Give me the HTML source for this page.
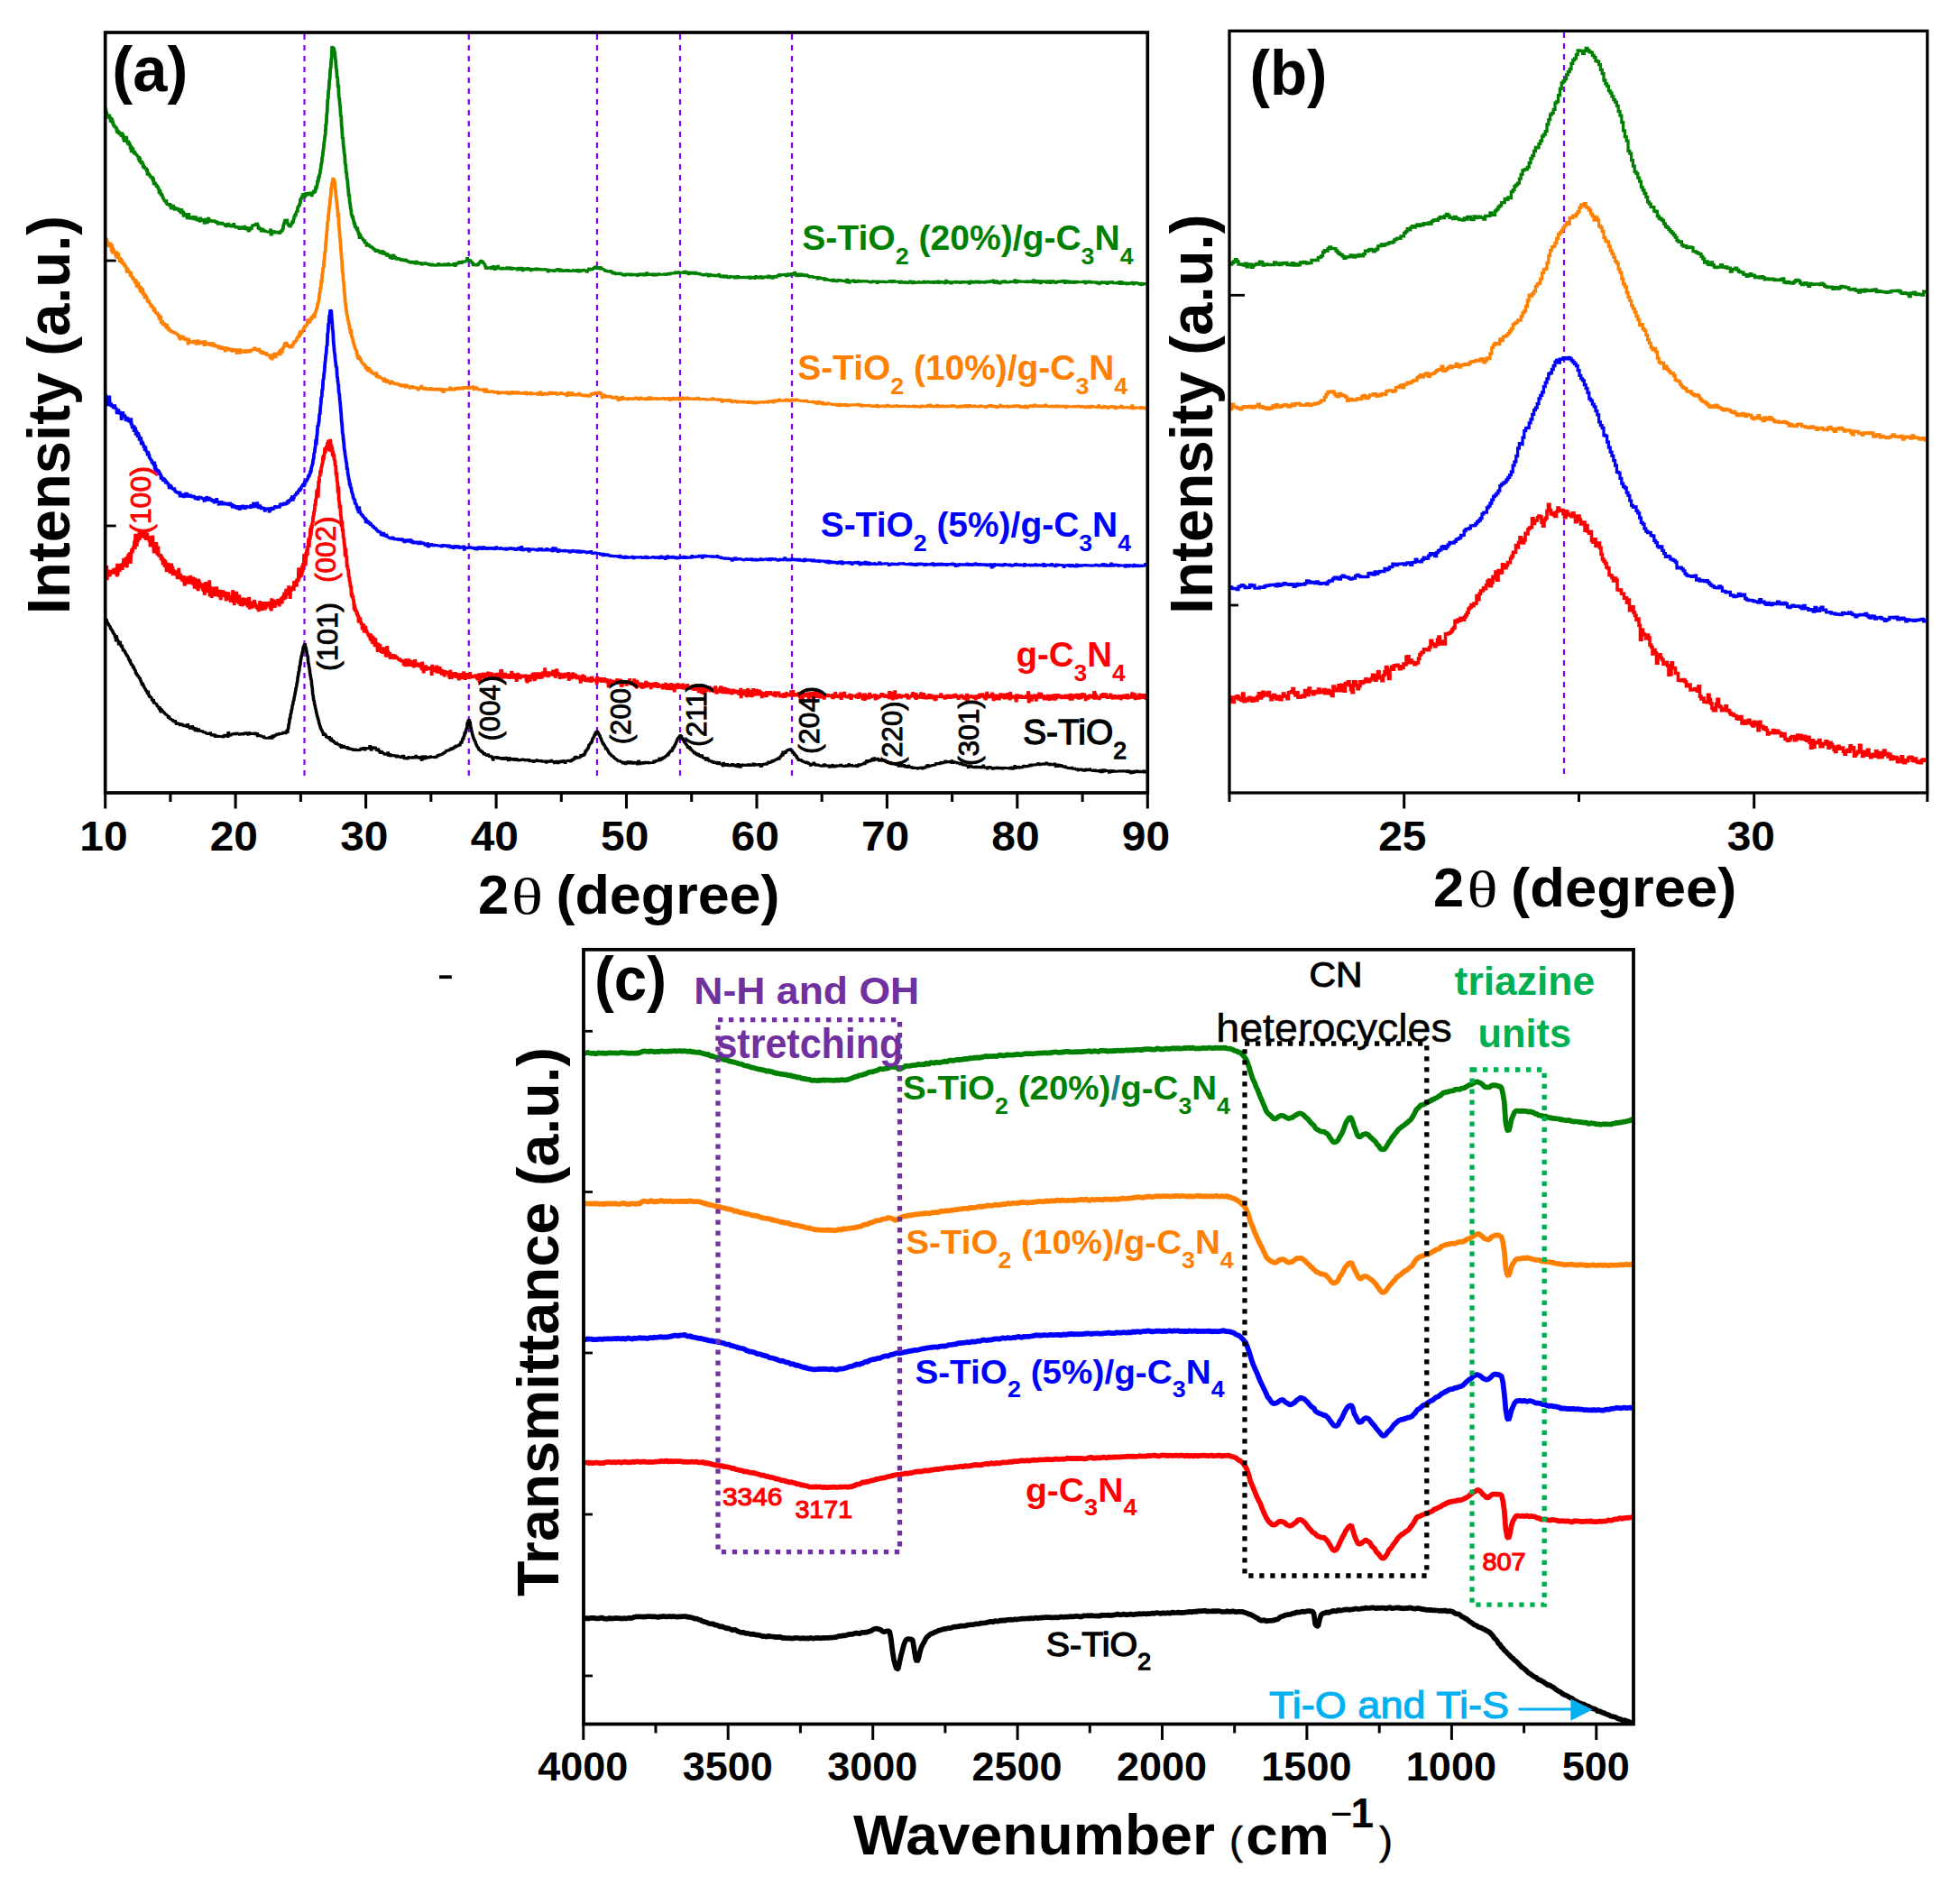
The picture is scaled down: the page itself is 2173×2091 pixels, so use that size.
<!DOCTYPE html>
<html lang="en"><head><meta charset="utf-8"><title>XRD and FTIR figure</title>
<style>
html,body{margin:0;padding:0;background:#fff}
svg{display:block;font-family:"Liberation Sans",sans-serif}
</style></head><body>
<svg width="2173" height="2091" viewBox="0 0 2173 2091">
<defs>
<clipPath id="ca"><rect x="116.7" y="36" width="1155.6" height="843"/></clipPath>
<clipPath id="cb"><rect x="1363" y="34.3" width="773.8" height="844.7"/></clipPath>
<clipPath id="cc"><rect x="647" y="1052.8" width="1164" height="858.7"/></clipPath>
</defs>
<rect width="2173" height="2091" fill="#fff"/>
<line x1="337.5" y1="38" x2="337.5" y2="865" stroke="#8000ff" stroke-width="2.2" stroke-dasharray="6 6"/>
<line x1="519.8" y1="38" x2="519.8" y2="865" stroke="#8000ff" stroke-width="2.2" stroke-dasharray="6 6"/>
<line x1="661.9" y1="38" x2="661.9" y2="865" stroke="#8000ff" stroke-width="2.2" stroke-dasharray="6 6"/>
<line x1="754" y1="38" x2="754" y2="865" stroke="#8000ff" stroke-width="2.2" stroke-dasharray="6 6"/>
<line x1="878" y1="38" x2="878" y2="865" stroke="#8000ff" stroke-width="2.2" stroke-dasharray="6 6"/>
<g clip-path="url(#ca)">
<path d="M116.7 686.6l.5-1.1l.5 2.8l.5-1.9l.5 4.7l.5-1.5l.5 2.6l.5-1.1l.5 2.5l.5-.3l.5 1.5l.5-.2l.5 3.1l.5-.7l.5 2l.5-1l.5 2l.5 .3l.5 2.6l.5-.8l.5 1.3l.5 .3l.5 3.5l.5-3l.5 7.1l.5-6.8l.5 4.3l.5-.2l.5 1.9l.5 .2l.5 4.6l.5-4.4l.5 3.2l.5-3.1l.5 5.2l.5-1.3l.5 2.8l.5-2.7l.5 3.8l.5 .3l.5 3l.5-2.2l.5 2l.5-.8l.5 2.5l.5 .5l.5 1.1l.5 0l.5 2.5l.5-1.5l.5 2.8l.5-.9l.5 3.3l.5-1.1l.5 3.1l.5-2.1l.5 3.9l.5-.5l.5 2.9l.5-1.5l.5 1.5l.5 .5l.5 2.8l.5-2.2l.5 2.9l.5 0l.5 2l.5-.6l.5 4.6l.5-1.9l.5 3.1l.5-1.3l.5 2.6l.5-1.4l.5 2.4l.5-.8l.5 2.7l.5-1.8l.5 3.2l.5 .1l.5 2.6l.5-.5l.5 3.5l.5-3.1l.5 3.8l.5-1.3l.5 2.7l.5 0l.5 1.5l.5-.4l.5 2.7l.5-.7l.5 1.3l.5 .3l.5 2.7l.5-3.8l.5 4.1l.5 .5l.5 2.8l.5-1.7l.5 2.1l.5-1.4l.5 2l.5-.4l.5 3.2l.5-1.5l.5 2.3l.5-2.5l.5 5l.5-1.9l.5 1.7l.5-.6l.5 1.1l.5-.8l.5 1.7l.5 .5l.5 1.5l.5-1l.5 2.6l.5-1.7l.5 3.4l.5-3.5l.5 5.8l.5-3.6l.5 4.7l.5-4.1l.5 3.4l.5-1.8l.5 2.3l.5-1.2l.5 1.6l.5-.6l.5 1.8l.5-.4l.5 1.1l.5-.8l.5 2l.5-1.1l.5 1.7l.5-.9l.5 3.2l.5-2.7l.5 2.3l.5 .3l.5 1.2l.5-.8l.5 1.2l.5-.5l.5 1.3l.5-1.5l.5 2.8l.5-1.5l.5 2.3l.5-2.2l.5 1.9l.5-2.3l.5 3.7l.5-1.4l.5 3.1l.5-2.5l.5 1.3l.5-1.2l.5 1.3l.5-.9l.5 1.3l.5-1.5l.5 3.5l.5-2.5l.5 1.1l.5-.7l.5 .4l.5 0l.5 .4l.5-.1l.5 2.4l.5-2.8l.5 1.9l.5-2l.5 2.4l.5-2.2l.5 2.4l.5-.6l.5 1.5l.5-4.4l.5 4.8l.5-2.3l.5 2.5l.5-.9l.5 2.2l.5-1.9l.5 1l.5-1.9l.5 2.8l.5-4.2l.5 3.5l.5-1.9l.5 3.5l.5-1.3l.5 1l.5-1.8l.5 3.7l.5-4.5l.5 3.9l.5-1.5l.5 1.4l.5-.7l.5 1.7l.5-3.6l.5 3.6l.5-1.4l.5 1.2l.5-1.3l.5 1.2l.5-.8l.5 1l.5-1.4l.5 2.1l.5-.6l.5 .8l.5-.4l.5 .6l.5-1.1l.5 1.5l.5-.4l.5 1.1l.5-1.2l.5 2.3l.5-2l.5 2.2l.5-2.1l.5 1.5l.5-.8l.5 1.1l.5-2.7l.5 3.1l.5-.7l.5 2.2l.5-2.5l.5 1.9l.5-2l.5 1.6l.5-.2l.5 .6l.5-2l.5 4.1l.5-2.7l.5 2.6l.5-2.5l.5 1.3l.5-.8l.5 .9l.5-.4l.5 .4l.5-1.1l.5 1.7l.5-1.4l.5 1.6l.5-1.1l.5 .6l.5-.8l.5 1.2l.5-1.8l.5 2.7l.5-3.3l.5 1.1l.5-1.7l.5 1.5l.5-.2l.5 1l.5-2.3l.5 1.7l.5-1.3l.5 3.2l.5-6.7l.5 4.3l.5-1.8l.5 1.8l.5-1.2l.5 2l.5-3l.5 1.7l.5-1.7l.5 .8l.5-1l.5 1.6l.5-1.7l.5 .7l.5-1.1l.5 2.5l.5-2l.5 1.3l.5-2.2l.5 1.4l.5-1.1l.5 1.1l.5-.5l.5 1.2l.5-1.7l.5 2.9l.5-2.5l.5 1.1l.5-.9l.5 .8l.5-1.4l.5 1l.5-.5l.5 2l.5-1.7l.5 .4l.5-1.5l.5 1.5l.5-2.1l.5 2.5l.5-1.8l.5 1.4l.5-.5l.5 1.8l.5-1.7l.5 2l.5-3.7l.5 1.8l.5-.9l.5 1.9l.5-1.6l.5 .8l.5-1.5l.5 2.3l.5-1.3l.5 .8l.5-1.7l.5 2.5l.5-1.4l.5 .6l.5-2l.5 2.5l.5-.7l.5 .8l.5-2.3l.5 4.8l.5-2.8l.5 1.9l.5-1.8l.5 2.5l.5-1.8l.5 1.1l.5-.7l.5 1l.5-.7l.5 1.8l.5-1.4l.5 1.2l.5-1.7l.5 3.1l.5-1.3l.5 1.7l.5-1.3l.5 1.5l.5-2.2l.5 2l.5-1.3l.5 1.4l.5-2.1l.5 2l.5-1l.5 0l.5-1.6l.5 2.1l.5-2.5l.5 1.8l.5-1.6l.5 3.2l.5-4.7l.5 2.4l.5-2.4l.5 2.9l.5-3.2l.5 1.8l.5-2l.5 1.7l.5-1.6l.5 .6l.5-2.1l.5 1.6l.5-1.4l.5 2.1l.5-1.4l.5 .2l.5-1.6l.5 2l.5-1.7l.5 1.6l.5-1.8l.5 1l.5-.6l.5 .5l.5-2.4l.5 2.1l.5-.6l.5 1.1l.5-2.1l.5 2.3l.5-2.5l.5 .9l.5-3.2l.5 3.7l.5-4.4l.5-.7l.5-4.8l.5-1.3l.5-5.7l.5 1.6l.5-6.3l.5 .2l.5-4.4l.5-.3l.5-5.3l.5 .2l.5-4.4l.5-.2l.5-3.7l.5-2.1l.5-2.7l.5-2.2l.5-3.7l.5-1.4l.5-3.8l.5-1.1l.5-5.5l.5-2l.5-4.3l.5-.3l.5-6.2l.5 .5l.5-5.6l.5-1.9l.5-3.7l.5-.6l.5-3.5l.5-.5l.5-5.7l.5 1l.5-3.2l.5 2.4l.5-3.8l.5 4.8l.5-.3l.5 3.6l.5 2l.5 4.6l.5-1.4l.5 8l.5 1.5l.5 3.6l.5 2.1l.5 5.1l.5 2l.5 4.1l.5 .7l.5 6.5l.5 1.7l.5 8l.5 .9l.5 5.7l.5-.1l.5 4.3l.5 1.5l.5 2.7l.5 2l.5 2.8l.5 1.8l.5 2.9l.5 .4l.5 3.1l.5 0l.5 4l.5 .6l.5 2.5l.5 .9l.5 2.4l.5-.4l.5 2.1l.5-.1l.5 2.6l.5-1l.5 4.2l.5-2.5l.5 1.9l.5-2.1l.5 2.2l.5-.6l.5 2.8l.5-1.1l.5 1.9l.5-1.2l.5 1l.5-.3l.5 1.5l.5-2.8l.5 3.1l.5 .1l.5 2l.5-3.8l.5 4.5l.5-2.5l.5 2.9l.5-2.3l.5 2.7l.5-1.5l.5 1.8l.5-.7l.5 2.1l.5-1.9l.5 2.9l.5-3.1l.5 2.7l.5-.8l.5 1.4l.5-1l.5 1.4l.5-1.7l.5 2.5l.5-1.5l.5 2.7l.5-3.3l.5 4.6l.5-3.3l.5 1.2l.5-1.4l.5 3.4l.5-3.7l.5 3.9l.5-1.9l.5 1.4l.5-1.1l.5 1.1l.5-1.5l.5 2.2l.5-2.6l.5 3.6l.5-2.3l.5 1.3l.5-1l.5 2.4l.5-1.8l.5 1.1l.5-1.2l.5 1.9l.5-1.6l.5 1.5l.5-1.4l.5 2.7l.5-1.8l.5 1.5l.5-2.4l.5 2.8l.5-2.5l.5 2.4l.5-1.2l.5 .4l.5-.4l.5 1.1l.5-1.9l.5 2.1l.5-2.2l.5 1.5l.5-.7l.5 .2l.5-2.3l.5 2.1l.5-2.4l.5 2.4l.5-2.6l.5 2.7l.5-1.8l.5 .9l.5-2.4l.5 4.1l.5-3.5l.5 1.4l.5-.6l.5 1.1l.5-1.3l.5 1.3l.5-1.4l.5 1l.5-1.8l.5 1.9l.5-4.2l.5 4.2l.5-1.3l.5 3.5l.5-3.9l.5 .8l.5-2l.5 3.3l.5-2.1l.5 1.3l.5-1.9l.5 2l.5-1.9l.5 2.9l.5-1.4l.5 3.2l.5-2.2l.5 1.1l.5-2.1l.5 2.4l.5 0l.5 2.2l.5-1.7l.5 3.3l.5-3.7l.5 1.9l.5-1.2l.5 1.9l.5-.8l.5 1.4l.5-.8l.5 1.7l.5-1.1l.5 2.4l.5-2.6l.5 1.3l.5-.9l.5 1.8l.5-1.3l.5 .9l.5-3.2l.5 5.1l.5-2.1l.5 .7l.5-2.1l.5 4l.5-2.4l.5 1.6l.5-1.9l.5 1.6l.5-.8l.5 1.2l.5-.8l.5 .7l.5-1l.5 .8l.5-1.1l.5 2l.5-2.2l.5 3.5l.5-3.5l.5 2.4l.5-1.6l.5 1.3l.5-.7l.5 1.9l.5-1.7l.5 1.1l.5-1l.5 2.2l.5-2l.5 1.7l.5-3.4l.5 2.7l.5-2.5l.5 2.5l.5-.9l.5 3.1l.5-2.3l.5 2.1l.5-2.1l.5 1.4l.5-1.2l.5 2.4l.5-2.8l.5 1l.5-2l.5 2.4l.5-1.1l.5 .8l.5-1.4l.5 1.8l.5-1.6l.5 1.7l.5-1.6l.5 1.8l.5-2.8l.5 1.9l.5-1.8l.5 2.4l.5-1.4l.5 1.4l.5-3.9l.5 4.1l.5-2.2l.5 1.6l.5-1.6l.5 1.4l.5-1l.5 1.4l.5-2.2l.5 3.2l.5-2.4l.5 1.2l.5-1.3l.5 4.5l.5-6l.5 2.7l.5-.9l.5 .9l.5-1.5l.5 3.4l.5-4.7l.5 3.3l.5-3l.5 3.5l.5-2l.5 .9l.5-.8l.5 1.4l.5-1.5l.5 .2l.5-.6l.5 1.6l.5-2.9l.5 2.2l.5-1.5l.5 1.9l.5-1.8l.5 1.6l.5-1.8l.5 2.1l.5-2l.5 2.3l.5-1.4l.5 .2l.5-1l.5 1.8l.5-1.9l.5 .6l.5-1.7l.5 1.6l.5-2.7l.5 1.8l.5-1.1l.5 .9l.5-2l.5 1.9l.5-1.9l.5 1.5l.5-1.7l.5 1.2l.5-2.1l.5 1.4l.5-2.1l.5 1.5l.5-2l.5 .8l.5-1.4l.5 .4l.5-2.1l.5 1.5l.5-.6l.5 .7l.5-1.4l.5 .5l.5-1.3l.5 1.7l.5-2l.5 .9l.5-2.3l.5 2.8l.5-3.3l.5 2.8l.5-2.2l.5 1.7l.5-2.8l.5 1.6l.5-2.3l.5 2.1l.5-3.1l.5 2.5l.5-3l.5 2.4l.5-2.3l.5 1.7l.5-1.5l.5 1.2l.5-2.3l.5 2.4l.5-3.3l.5 .6l.5-2.7l.5 2.3l.5-2.7l.5-.8l.5-2.9l.5 2.3l.5-4.2l.5 .7l.5-4.9l.5 2.2l.5-3.2l.5-.5l.5-2.9l.5 1l.5-7.7l.5 1.3l.5-3.1l.5-.2l.5-1.1l.5 3.2l.5-.9l.5 6l.5 1l.5 3.3l.5 1.5l.5 2.5l.5 1.2l.5 2.7l.5 .2l.5 2.1l.5 .3l.5 1.6l.5 .4l.5 2.6l.5-.1l.5 2.6l.5-.4l.5 1.6l.5-.4l.5 2l.5 .4l.5 .9l.5-1l.5 2.4l.5-1.4l.5 2.3l.5-1.9l.5 2.4l.5-1l.5 1.7l.5 0l.5 1.7l.5-2.4l.5 1.8l.5-.7l.5 1.8l.5-1.8l.5 2.9l.5-2.7l.5 1.9l.5-2.2l.5 3.1l.5-1.1l.5 1.9l.5-2.2l.5 2l.5-.7l.5 .5l.5-1.2l.5 3l.5-1.9l.5 4.5l.5-4l.5 .6l.5-1l.5 1.5l.5-1.3l.5 1.4l.5-2.2l.5 1.6l.5-1.5l.5 3.1l.5-2.7l.5 2.5l.5-2.1l.5 1.4l.5-.2l.5 .3l.5-1l.5 1.3l.5-1.8l.5 3l.5-1.6l.5 .5l.5-.4l.5 .5l.5-2l.5 3.2l.5-2.2l.5 1.8l.5-3.1l.5 2.7l.5-.9l.5 1l.5-.8l.5 2.8l.5-2.4l.5 .3l.5-2.3l.5 3.1l.5-1.9l.5 2.4l.5-1.8l.5 1.6l.5-1.7l.5 2l.5-3l.5 2.1l.5-1.8l.5 1.8l.5-1l.5 2.4l.5-3.3l.5 2.3l.5-1.6l.5 1.5l.5-1l.5 2.3l.5-1.4l.5 1.5l.5-2.7l.5 1.4l.5-.5l.5 1.5l.5-2.4l.5 1.8l.5-2.3l.5 2.1l.5-1.5l.5 1.6l.5-.9l.5 1.1l.5-.4l.5 .6l.5-1.3l.5 1.7l.5-2.4l.5 1.7l.5-.4l.5 1.2l.5-2.7l.5 2.8l.5-.9l.5 1.6l.5-1.6l.5 1l.5-1.4l.5 1.3l.5-1.6l.5 1.9l.5-1l.5 2.3l.5-3l.5 1.2l.5-.8l.5 1.2l.5-1.5l.5 .9l.5-2l.5 3.1l.5-2l.5 1.5l.5-1.4l.5 1.5l.5-1.2l.5 1.5l.5-2.1l.5 1.3l.5-.9l.5 1.2l.5-.6l.5 1.6l.5-1.9l.5 2.1l.5-2.4l.5 2l.5-1.9l.5 1.7l.5-1l.5 2.7l.5-3.6l.5 2.1l.5-1.9l.5 2.1l.5-1.2l.5 1.4l.5-2.1l.5 1.2l.5-1.1l.5 2l.5-3.4l.5 3.3l.5-1.5l.5 .9l.5-.5l.5 .6l.5-.7l.5 2.9l.5-2.6l.5 .5l.5-.7l.5 .5l.5-1.1l.5 .9l.5-.8l.5 3.5l.5-3.9l.5 3l.5-3.1l.5 1.6l.5-1l.5 1.6l.5-1.6l.5 2.2l.5-3.5l.5 3.4l.5-3.2l.5 1.8l.5-.5l.5 .7l.5-1.5l.5 3.7l.5-2.8l.5 .1l.5-.6l.5 .6l.5-1l.5 .6l.5-1.1l.5 1.5l.5-1.7l.5 1.4l.5-1.5l.5 2.8l.5-2.5l.5 .6l.5-1.4l.5 2.1l.5-3.1l.5 1.8l.5-1.1l.5 .6l.5-3.1l.5 2.5l.5-3.4l.5 3.2l.5-1.1l.5 1l.5-2.1l.5 2.1l.5-2.2l.5 2.1l.5-2.6l.5 1.7l.5-1.3l.5 .8l.5-3.4l.5 2.6l.5-1.8l.5 .9l.5-1.1l.5 1.7l.5-3.2l.5 2.2l.5-2.6l.5 1l.5-4.3l.5 1.9l.5-2.4l.5 .8l.5-2.1l.5 1l.5-2.3l.5-.7l.5-2.7l.5 .9l.5-1.8l.5 .8l.5-2.4l.5 1.6l.5-3l.5-.5l.5-2.8l.5 .8l.5-2.2l.5 .7l.5-3.4l.5 1.9l.5-4.1l.5 .8l.5-1.9l.5 1l.5-1.2l.5 1.4l.5-.1l.5 3.4l.5-1.3l.5 1.5l.5 .6l.5 2.6l.5-.3l.5 2.3l.5 .7l.5 1.9l.5-.2l.5 2.8l.5-1.9l.5 3.3l.5-1.5l.5 2l.5 .2l.5 3.5l.5-2.4l.5 2.2l.5-1.1l.5 2.5l.5-.4l.5 2.1l.5 .1l.5 1.8l.5-1l.5 1.6l.5-.6l.5 1.5l.5 .1l.5 1.2l.5-1.3l.5 1.5l.5-.3l.5 1.2l.5 0l.5 1.5l.5-.8l.5 1.2l.5-.5l.5 1.3l.5-.9l.5 2.1l.5-1.3l.5 2.2l.5-1.9l.5 .9l.5-.9l.5 1.9l.5-.7l.5 .9l.5-.6l.5 .8l.5-.3l.5 2.2l.5-2.4l.5 .8l.5-.3l.5 2.2l.5-3.4l.5 4l.5-4.1l.5 2.4l.5-1.5l.5 1.7l.5-2.9l.5 3l.5-1.7l.5 2.2l.5-2l.5 .9l.5-2.4l.5 2.6l.5-1.8l.5 2.2l.5-1.2l.5 2l.5-3.3l.5 3l.5-1.9l.5 1.4l.5-2.1l.5 2.1l.5-.9l.5 .3l.5-1.5l.5 3.8l.5-4.5l.5 2.9l.5-4l.5 3l.5-1.2l.5 3.3l.5-2.3l.5 1l.5-1.3l.5 1.1l.5-.8l.5 .4l.5-.9l.5 2.3l.5-2.3l.5 2l.5-3l.5 2.5l.5-1.9l.5 1.4l.5-1l.5 .8l.5-1.6l.5 2.7l.5-1.7l.5 .8l.5-.8l.5 .8l.5-1l.5 1.3l.5-1.3l.5 1l.5-.8l.5 1.2l.5-1.7l.5 .9l.5-2.8l.5 3l.5-1.7l.5 .5l.5-1.3l.5 1.1l.5-2.2l.5 1.9l.5-1.3l.5 .9l.5-1.2l.5 .6l.5-3.2l.5 4l.5-3.2l.5 1.3l.5-2l.5 2.9l.5-2.8l.5 1.1l.5-2l.5 2.6l.5-3.1l.5 2l.5-2.2l.5 .6l.5-.8l.5-.1l.5-.8l.5 0l.5-.8l.5 1.7l.5-4.1l.5 1.6l.5-2l.5 .8l.5-2.6l.5 1.1l.5-1.3l.5 1.9l.5-3.7l.5 2.1l.5-4.4l.5 1.9l.5-1.7l.5 .3l.5-3l.5 .8l.5-2.2l.5-.4l.5-2.3l.5 .5l.5-3.1l.5 .4l.5-1l.5-.6l.5-.7l.5 2.8l.5-4.9l.5 2.3l.5-1.4l.5 2.7l.5-.6l.5 3l.5-2.5l.5 3.5l.5-1.3l.5 3.2l.5-3.5l.5 4.6l.5-1l.5 2.5l.5-.6l.5 1.5l.5-.6l.5 3.5l.5-2.3l.5 2.2l.5-2.5l.5 3.5l.5-2.1l.5 3.5l.5-1.8l.5 1.3l.5 .1l.5 1.4l.5-.6l.5 1.1l.5-.2l.5 2.6l.5-2.8l.5 1.7l.5-.3l.5 2.1l.5-2.3l.5 3.3l.5-1.9l.5 2.7l.5-3.5l.5 3.1l.5-.3l.5 .4l.5-.1l.5 1l.5-.5l.5 1l.5-3l.5 3l.5-.3l.5 1.3l.5-.5l.5 .9l.5-1.4l.5 1.8l.5-1.8l.5 3.8l.5-3.2l.5 2.6l.5-3.4l.5 3.9l.5-2.2l.5 2.8l.5-1.2l.5 2.2l.5-1.9l.5 1l.5-.6l.5 .6l.5-.7l.5 2.5l.5-2.4l.5 1.7l.5-1.2l.5 2.7l.5-1.9l.5 .7l.5-.9l.5 2.4l.5-2.9l.5 2.4l.5-.9l.5 2l.5-1.2l.5 1.4l.5-3.4l.5 3.3l.5-1.2l.5 1.1l.5-.9l.5 1l.5-1.1l.5 1.7l.5-1.3l.5 3.2l.5-5.1l.5 3.6l.5-.9l.5 1.1l.5-1.7l.5 1l.5-1l.5 2.5l.5-3.3l.5 3.2l.5-1.4l.5 .7l.5-.8l.5 1.7l.5-1.7l.5 1.7l.5-2.6l.5 2.8l.5-3l.5 2.2l.5-2.8l.5 3.3l.5-2.3l.5 1l.5-1.1l.5 2.7l.5-1.9l.5 2.3l.5-2.7l.5 1.2l.5-.6l.5 2.8l.5-4.7l.5 3.1l.5-2.4l.5 1.9l.5-.7l.5 3.4l.5-4.1l.5 2.7l.5-3.2l.5 2.2l.5-1.2l.5 .3l.5-.1l.5 .3l.5-.5l.5 .7l.5-1.3l.5 1.3l.5-1.2l.5 1.9l.5-1.7l.5 .6l.5-.6l.5 1.2l.5-2.3l.5 1.9l.5-1l.5 2l.5-2.3l.5 1.4l.5-1.6l.5 2l.5-2.1l.5 1.5l.5-2.6l.5 3.6l.5-1.4l.5 .6l.5-2.1l.5 1.9l.5-1.1l.5 1.7l.5-1.4l.5 1.3l.5-1.8l.5 1.8l.5-2.2l.5 2l.5-2.3l.5 1.9l.5-1.1l.5 3.5l.5-3l.5 2.3l.5-3.2l.5 1.3l.5-1.1l.5 1.4l.5-2.2l.5 1.7l.5-1.4l.5 .9l.5-1.1l.5 2.1l.5-2.9l.5 1.5l.5-1.1l.5 0l.5-2l.5 2.6l.5-2.2l.5 1.9l.5-1.8l.5 1.3l.5-1.3l.5 .5l.5-2.4l.5 2.9l.5-3.1l.5 1.2l.5-.5l.5 0l.5-.3l.5 .7l.5-1.7l.5 1.1l.5-1.8l.5 1.8l.5-2.8l.5 2.5l.5-2.8l.5 2.7l.5-3.5l.5 1.3l.5-1.7l.5 .8l.5-2l.5 .5l.5-2.4l.5 3.2l.5-5.9l.5 4l.5-3.2l.5 1.2l.5-1.1l.5 2.1l.5-3.4l.5 1.6l.5-1.8l.5 .5l.5-1.7l.5 1.1l.5-1.5l.5 1.9l.5-1.4l.5 1.4l.5-2.8l.5 2.1l.5 .2l.5 .8l.5-.5l.5 1.3l.5 0l.5 1.4l.5-.5l.5 3.2l.5-2l.5 2.1l.5-.9l.5 2.7l.5-1.8l.5 3.6l.5-1.4l.5 2l.5-.9l.5 2.8l.5-2l.5 1l.5-1.4l.5 2.6l.5-2.1l.5 2.4l.5-.9l.5 .8l.5-.2l.5 .4l.5-.1l.5 1.4l.5-1.8l.5 1.8l.5-1.9l.5 2.9l.5-2.7l.5 2.9l.5-2.5l.5 2.1l.5-1.5l.5 2.7l.5-1.9l.5 2.1l.5-1.7l.5 3.4l.5-3l.5 1.7l.5-1.4l.5 1.4l.5-1.3l.5 .6l.5-2.7l.5 3.2l.5-1.8l.5 1.8l.5-.5l.5 1.6l.5-2.3l.5 2.6l.5-2.6l.5 1.7l.5-.5l.5 .5l.5-.6l.5 1.5l.5-1.3l.5 1.4l.5-1.1l.5 1.6l.5-2.3l.5 1.4l.5-.7l.5 .6l.5-1.2l.5 2.5l.5-4l.5 3.6l.5-1.7l.5 .8l.5-.8l.5 1.1l.5-1l.5 1.2l.5-1l.5 .5l.5-.6l.5 3l.5-2.5l.5 .3l.5-.8l.5 1.5l.5-1.4l.5 .6l.5-2l.5 4.1l.5-2.8l.5 1.5l.5-2l.5 3.2l.5-2.8l.5 1.3l.5-.7l.5 .7l.5-1.9l.5 2.5l.5-2.3l.5 1.7l.5-1.3l.5 1.5l.5-1.8l.5 2.1l.5-3.3l.5 2.4l.5-.7l.5 .9l.5-.9l.5 1.6l.5-2l.5 2.5l.5-2.2l.5 1.8l.5-2.1l.5 .9l.5-.2l.5 1.4l.5-2.3l.5 1.4l.5-.9l.5 1.9l.5-4l.5 2.9l.5-2l.5 2.2l.5-2.1l.5 2.9l.5-2.9l.5 2.6l.5-1.2l.5 1.4l.5-1.9l.5 1.2l.5-.9l.5 1.1l.5-.7l.5 .1l.5-.4l.5 .6l.5-.6l.5 2l.5-3.2l.5 1.9l.5-2.8l.5 2.1l.5-1.3l.5 2l.5-2l.5 .6l.5-.9l.5 1.1l.5-1.6l.5 1.3l.5-2l.5 1.2l.5-1.8l.5 2.7l.5-3l.5 .6l.5-1.2l.5 1.9l.5-4.1l.5 2.9l.5-1l.5 1.1l.5-2.2l.5 .9l.5-.8l.5 1.9l.5-3.3l.5 2.3l.5-1.7l.5 1.6l.5-3.6l.5 3.6l.5-2.2l.5 2.3l.5-4.5l.5 3.1l.5-1.6l.5 2.5l.5-2.9l.5 1.5l.5-1.4l.5 1.9l.5-2.5l.5 2.3l.5-1l.5 2.9l.5-2l.5 .4l.5-1.5l.5 2.8l.5-2.2l.5 1.7l.5-1l.5 1.8l.5-1.8l.5 .8l.5-1.5l.5 1.9l.5-1.5l.5 1.9l.5-.8l.5 1l.5-1.2l.5 2.7l.5-1.9l.5 1.4l.5-.5l.5 1.6l.5-1.5l.5 .7l.5-.8l.5 1.6l.5-1.4l.5 3l.5-2.6l.5 1.7l.5-1.2l.5 1.2l.5-1.1l.5 1.1l.5-.6l.5 1.3l.5-.6l.5 1.2l.5-1l.5 1.4l.5-1.1l.5 .7l.5-.1l.5 2l.5-2.4l.5 1l.5-1.8l.5 2.5l.5-1.7l.5 2.6l.5-2.5l.5 2.2l.5-1.5l.5 1.1l.5-2.3l.5 2.3l.5-1.5l.5 3l.5-1.8l.5 .9l.5-1.7l.5 1.6l.5-.8l.5 2.2l.5-3.8l.5 2.8l.5-1.4l.5 1.7l.5-1.5l.5 1.7l.5-1.5l.5 2l.5-.6l.5 .5l.5-.8l.5 1.7l.5-2.1l.5 1.1l.5-1l.5 1.5l.5-1l.5 1.1l.5-.9l.5 .5l.5-.1l.5 1.4l.5-2.2l.5 1.1l.5-.6l.5 .3l.5-.9l.5 1.3l.5-1.8l.5 1.7l.5-1.7l.5 3.1l.5-3.6l.5 3.1l.5-2.8l.5 1.4l.5-1.3l.5 2.1l.5-2.5l.5 1.8l.5-2.6l.5 2.5l.5-4l.5 2.9l.5-2l.5 2.6l.5-2.3l.5 1.2l.5-1.9l.5 2.1l.5-2.2l.5 1.4l.5-.8l.5 .3l.5-.4l.5 .7l.5-.9l.5 .7l.5-.8l.5 0l.5-.6l.5 .2l.5-2.1l.5 2l.5-1.4l.5 1.1l.5-1.8l.5 2.4l.5-1.5l.5 1.5l.5-1.8l.5 1l.5-2.8l.5 2.4l.5-1.5l.5 1l.5-.5l.5 1.3l.5-1.9l.5 1l.5-1.8l.5 1.9l.5-3.3l.5 3l.5-.9l.5 .2l.5-1.2l.5 1.1l.5-1.4l.5 1.2l.5-.5l.5 1.1l.5-1.5l.5 2.1l.5-1.5l.5 1.3l.5-3.3l.5 4.2l.5-3.1l.5 3l.5-2.7l.5 1.4l.5-.9l.5 1.3l.5-1l.5 .8l.5-.8l.5 1.3l.5-.8l.5 1.8l.5-1.6l.5 1l.5-.8l.5 1.4l.5-2.2l.5 3.5l.5-3l.5 2l.5-1.2l.5 1.8l.5-1l.5 1.9l.5-2.3l.5 2.8l.5-2.7l.5 2l.5-.9l.5 .9l.5-.3l.5 .6l.5-.6l.5 1.1l.5-.9l.5 3.4l.5-4.3l.5 2.3l.5-1.8l.5 2.2l.5-1.9l.5 1.9l.5-.7l.5 1.1l.5-1.4l.5 2.3l.5-1.8l.5 .8l.5-.3l.5 1.5l.5-2l.5 .8l.5-1.4l.5 2.6l.5-2.7l.5 2.8l.5-1.9l.5 1.9l.5-2.1l.5 1.8l.5-2.3l.5 1.5l.5-.5l.5 .5l.5-.1l.5 .7l.5-1.1l.5 .7l.5-3.2l.5 3.2l.5-.8l.5 1.1l.5-.6l.5 1.2l.5-1.4l.5 .6l.5-.9l.5 3l.5-2.3l.5 1l.5-1.8l.5 1.2l.5-1.7l.5 1.6l.5-.6l.5 .9l.5-.4l.5 .4l.5-.6l.5 2.5l.5-2.9l.5 1.2l.5-.9l.5 1.8l.5-1.5l.5 1.6l.5-1.5l.5 .2l.5-1.4l.5 2.7l.5-1.8l.5 1l.5-.5l.5 .5l.5-1.7l.5 2.3l.5-1.3l.5 .7l.5-1l.5 .8l.5-.2l.5 1.7l.5-2.4l.5 1.3l.5-1.6l.5 1.3l.5-1.1l.5 1l.5-.5l.5 1.1l.5-1.2l.5 .7l.5-.8l.5 1.5l.5-1l.5 1l.5-1.2l.5 1.6l.5-2.5l.5 2.8l.5-3.5l.5 3.4l.5-1.7l.5 2l.5-3.1l.5 2.5l.5-1.9l.5 1.2l.5-3.9l.5 3.1l.5-.5l.5 .6l.5-.3l.5 .4l.5-2l.5 2.3l.5-2.4l.5 1.5l.5-.4l.5 1.6l.5-2.3l.5 1.3l.5-1.3l.5 1.8l.5-1.6l.5 .5l.5-1.1l.5 1l.5-2.3l.5 3.2l.5-2.8l.5 1.5l.5-.6l.5 .5l.5-.7l.5 1.6l.5-2.1l.5 .6l.5-.2l.5 1.1l.5-2.4l.5 2.5l.5-3.4l.5 2.3l.5-2.1l.5 1.7l.5-.4l.5 .1l.5-.8l.5 1.4l.5-1.8l.5 1.8l.5-2.2l.5 1.6l.5-.8l.5 .5l.5-1.2l.5 .7l.5-.6l.5 .6l.5-2.2l.5 2.5l.5-1l.5 1.8l.5-1.7l.5 .5l.5-1l.5 .7l.5-.9l.5 1.8l.5-1.9l.5 1.1l.5-1.4l.5 1.1l.5-.9l.5 1.6l.5-1.1l.5 1.4l.5-3.2l.5 2.7l.5-1l.5 .6l.5-.8l.5 1.1l.5-1.7l.5 3.1l.5-1.8l.5 .3l.5-.3l.5 1.6l.5-2l.5 2l.5-2l.5 1.1l.5-.3l.5 1.1l.5-2.7l.5 2.4l.5-1.3l.5 3.9l.5-4.2l.5 2.9l.5-1.7l.5 2.8l.5-3.8l.5 3.1l.5-1.9l.5 1.9l.5-1l.5 .4l.5-2l.5 3.1l.5-2.2l.5 1.8l.5-.4l.5 .9l.5-2.1l.5 2.6l.5-1.2l.5 1.3l.5-2.4l.5 3.2l.5-1.5l.5 1.4l.5-1.3l.5 .9l.5-1.1l.5 2.3l.5-1.4l.5 1l.5-1.3l.5 1.4l.5-.8l.5 .5l.5-1.8l.5 1.9l.5-.4l.5 1.5l.5-1.8l.5 1.1l.5-1.3l.5 2l.5-1.6l.5 1.7l.5-1.7l.5 2.4l.5-2.4l.5 1.6l.5-.5l.5 2.2l.5-2.9l.5 1.4l.5-.9l.5 1.4l.5-1.1l.5 .4l.5-.3l.5 .5l.5-1.2l.5 2.8l.5-2.2l.5 1.3l.5-1.6l.5 2.9l.5-3.3l.5 1.4l.5-1.6l.5 2.8l.5-1.7l.5 1.5l.5-1.4l.5 .5l.5-.4l.5 1.4l.5-2.9l.5 2l.5-.5l.5 1.4l.5-1.3l.5 1.5l.5-1.7l.5 2.2l.5-1.7l.5 .4l.5-.7l.5 1.5l.5-2.1l.5 2.7l.5-1.7l.5 2l.5-2.2l.5 1.9l.5-2.2l.5 2.1l.5-1.7l.5 2.4l.5-2.6l.5 .9l.5-.4l.5 3l.5-3.2l.5 3.3l.5-3.6l.5 1.7l.5-2.6l.5 3.7l.5-2.3l.5 2.1l.5-3.3l.5 2.3l.5-1.6l.5 1.6l.5-.8l.5 .6l.5-1l.5 1.5l.5-1.8l.5 3.8l.5-3.6l.5 3.3l.5-3.6l.5 1.6l.5-.4l.5 1.9l.5-2l.5 .6l.5-.4l.5 .2l.5-1.1l.5 2.4l.5-2.1l.5 1.8l.5-1.9l.5 1.5l.5-.7l.5 .5l.5-.8l.5 1.3l.5-1.8l.5 1.8l.5-1.8l.5 1l.5-.5l.5 1.4l.5-1.9l.5 1.6l.5-1.2l.5 .8l.5-1.3l.5 1.3l.5-.5l.5 .6l.5-.9l.5 .8l.5-.5l.5 .8l.5-.4l.5 .8l.5-2.5l.5 3.3l.5-2.1l.5 1l.5-.7l.5 .6l.5-1.4l.5 3.9l.5-3l.5 2.3l.5-2l.5 1.3l.5-2.2l.5 3.2l.5-3.6l.5 2.8l.5-2l.5 1.8l.5-2.1l.5 2l.5-2.9l.5 2.4l.5-.9l.5 1.5l.5-2.4l.5 1.9l.5-2.1l.5 2.1l.5-.9l.5 1.5l.5-2.2l.5 1.6l.5-1.2l.5 1.3l.5-1.9l.5 1.2l.5-1.8l.5 3.4l.5-2.1l.5 .5l.5-.2l.5 .7l.3-.9" fill="none" stroke="#000000" stroke-width="3.6" stroke-linejoin="bevel"/>
<path d="M116.7 637.3l.5-2.7l.5 3.5l.5-11l.5 16.1l.5-11.4l.5 5.5l.5-4.3l.5 3.9l.5-3.4l.5 5.7l.5-5.1l.5 2.3l.5-4.5l.5 4.5l.5-2.3l.5 2.2l.5-4.6l.5 2.5l.5-4.1l.5 6.4l.5-4.3l.5 1.8l.5-3.2l.5 5.3l.5-7.3l.5 10.7l.5-14.6l.5 12.8l.5-12.9l.5 8.8l.5-4l.5 4.3l.5-7.3l.5 3.2l.5-2.3l.5 1.4l.5-4.5l.5 7.4l.5-6.5l.5 2.1l.5-8.6l.5 9.7l.5-7.9l.5 6l.5-6.7l.5 4.2l.5-6.8l.5 12.2l.5-12.7l.5 8l.5-10.5l.5 5.6l.5-6.4l.5 4.3l.5-5.5l.5 12.6l.5-12.1l.5 1l.5-5.6l.5 4.5l.5-4.8l.5 .2l.5-2.4l.5 1.8l.5-8.2l.5 9.7l.5-17.3l.5 14.1l.5-5.9l.5 5.8l.5-7l.5 2.4l.5-5.7l.5 1.6l.5-6.2l.5 8.2l.5-11.5l.5 8.2l.5-3.7l.5 2.4l.5-4.4l.5 6.2l.5-4.4l.5 3.4l.5-3.7l.5 4.3l.5-4.4l.5 5.6l.5-7.8l.5 9.7l.5-8.2l.5 4l.5-3.5l.5 5l.5-.4l.5 2.7l.5-4l.5 6.5l.5-5.4l.5 10.7l.5-6.8l.5 3.6l.5-4.6l.5 7.1l.5-12l.5 12.1l.5-2.5l.5 10.2l.5-11.3l.5 9l.5-7.2l.5 6.2l.5-8.9l.5 12.6l.5-3.6l.5 5.4l.5-10.1l.5 10.9l.5-2.6l.5 4l.5-2.4l.5 1.6l.5-2.8l.5 6.9l.5-5.2l.5 5.7l.5-3.6l.5 8.3l.5-7.1l.5 3.4l.5-2.4l.5 8.6l.5-7.8l.5 6l.5-3.4l.5 10.5l.5-7.9l.5 2.7l.5-5.1l.5 7.3l.5-3.4l.5 2.7l.5-2.3l.5 7.9l.5-8.2l.5 6.6l.5-9.8l.5 8.3l.5-4.9l.5 10.1l.5-6.6l.5 5.5l.5-4.9l.5 2.4l.5-.9l.5 2.7l.5-3.5l.5 5.8l.5-2.5l.5 6l.5-7.9l.5 4.2l.5-8.5l.5 11.3l.5-3.4l.5 2.2l.5-4.2l.5 6.5l.5-3l.5 4.9l.5-4.6l.5 2.8l.5-4.3l.5 7.5l.5-5.5l.5 9.6l.5-7.6l.5 5.5l.5-8.8l.5 7.6l.5-6.9l.5 7.7l.5-3.5l.5 1.6l.5-6.4l.5 8.7l.5-3.6l.5 3.4l.5-9.5l.5 9l.5-4.2l.5 4.1l.5-3.1l.5 4.9l.5-9.1l.5 8.2l.5-4.7l.5 9.7l.5-12.1l.5 8.9l.5-3.8l.5 5.8l.5-6.4l.5 8.2l.5-5.8l.5 7.6l.5-13.4l.5 8.6l.5-5.7l.5 5.4l.5-.6l.5 1.3l.5-3.4l.5 4.3l.5-2.2l.5 4.8l.5-7.7l.5 9.5l.5-9.6l.5 13.4l.5-10.9l.5 4.7l.5-8.6l.5 9.6l.5-4.2l.5 4.3l.5-8.4l.5 10.8l.5-6l.5 4l.5-11.8l.5 18.2l.5-11l.5 5.3l.5-3.7l.5 10.7l.5-8.4l.5 3.3l.5-7.1l.5 10.5l.5-7.4l.5 2.4l.5-.7l.5 3.8l.5-5.8l.5 7.6l.5-10.6l.5 7.8l.5-3.7l.5 3.4l.5-2.6l.5 6.7l.5-5.7l.5 4.6l.5-7l.5 11.3l.5-9.5l.5 6l.5-5.3l.5 3.1l.5-5.1l.5 6.8l.5-5.9l.5 6.1l.5-4.8l.5 5.5l.5-6.2l.5 10.5l.5-8.8l.5 6l.5-3.3l.5 1.5l.5-5.4l.5 8.4l.5-3.6l.5 3.7l.5-4.8l.5 7.7l.5-6.9l.5 6.9l.5-7.2l.5 5.7l.5-12.1l.5 12.2l.5-4.1l.5 8.6l.5-10.3l.5 7.2l.5-4.9l.5 3l.5-10l.5 10.7l.5-5.3l.5 4.5l.5-1.1l.5 5.2l.5-10.5l.5 9.4l.5-5.1l.5 8.3l.5-7.4l.5 3.9l.5-4.4l.5 8.3l.5-9.8l.5 6.6l.5-1.8l.5 3.7l.5-8.3l.5 6.6l.5-1.6l.5 1.9l.5-2.7l.5 3.1l.5-5.5l.5 8.8l.5-10.2l.5 7.7l.5-9l.5 13.6l.5-6.2l.5 2.1l.5-4.6l.5 4.2l.5-4.3l.5 8l.5-6l.5 2.5l.5-2.6l.5 3.9l.5-7.5l.5 8l.5-4.3l.5 3l.5-1l.5 4.5l.5-4.1l.5 3l.5-2.6l.5 6.6l.5-7.2l.5 4.2l.5-9l.5 9.4l.5-4.1l.5 3.6l.5-5l.5 7l.5-9.8l.5 5.6l.5-2.3l.5 4.6l.5-7.9l.5 9.1l.5-9.1l.5 7.4l.5-4l.5 1.6l.5-4.9l.5 4l.5-2.2l.5 2.2l.5-2l.5 2.6l.5-5.1l.5 8.5l.5-7.7l.5 9.9l.5-14.2l.5 7.7l.5-.5l.5 1.4l.5-7.3l.5 5.6l.5-.8l.5 4.5l.5-4.9l.5 1.8l.5-5.4l.5 3.6l.5-2.5l.5 3.6l.5-6.2l.5 5.9l.5-5.3l.5 7.8l.5-8l.5 1.9l.5-2.7l.5 4.6l.5-6.2l.5 7.5l.5-7.7l.5 4l.5-5.8l.5 5l.5-8.3l.5 8.4l.5-7.8l.5 6.8l.5-11.1l.5 6.7l.5-4.8l.5 4.4l.5-2.1l.5 2.5l.5-10.3l.5 6.6l.5-1.7l.5 9.8l.5-11.8l.5 3.7l.5-4.6l.5 1.6l.5-2.1l.5 3.5l.5-5.1l.5 5.7l.5-11l.5 5.5l.5-2.3l.5 2.6l.5-5.1l.5 6.1l.5-9.2l.5 2.4l.5-2.2l.5 3.6l.5-15.9l.5 12.6l.5-3.7l.5 .2l.5-3.6l.5 5.2l.5-8.1l.5 5.7l.5-11.1l.5 7.1l.5-9.6l.5 5l.5-15l.5 10.8l.5-7.1l.5 9.5l.5-15.1l.5 5.4l.5-8.8l.5 6.8l.5-10.5l.5 1.1l.5-9.4l.5 10.2l.5-12l.5 3.4l.5-13l.5 8.6l.5-11.8l.5 3.9l.5-6.5l.5 .1l.5-7.7l.5 .5l.5-5.2l.5-.7l.5-8.3l.5 2.7l.5-7.9l.5 .3l.5-10l.5 8l.5-9.8l.5 9.8l.5-18.3l.5 3.3l.5-8.1l.5 .2l.5-7.2l.5 4.1l.5-6.4l.5-1.6l.5-3.7l.5 .4l.5-9.1l.5 5.4l.5-6.7l.5 .5l.5-7.9l.5 6.1l.5-6.6l.5 3.5l.5-5.7l.5 5.3l.5-8.9l.5 4.8l.5-7.2l.5 3.7l.5-2.9l.5 12.3l.5-13.8l.5 6.5l.5-.8l.5 6.7l.5-3.9l.5 10l.5-5.4l.5 7.1l.5-4l.5 7.5l.5-.8l.5 7l.5-.6l.5 11.3l.5-3.8l.5 9.9l.5 1l.5 11.8l.5-7.1l.5 15.5l.5 1.3l.5 8.1l.5-4.6l.5 11.7l.5 1.6l.5 11l.5-6.5l.5 12l.5-3.1l.5 10.2l.5-.1l.5 6.4l.5 2.6l.5 11.2l.5-9.1l.5 11l.5-2.8l.5 13.5l.5-2.4l.5 5.3l.5-1l.5 8.7l.5-.5l.5 5.9l.5 .5l.5 6l.5-2.1l.5 12.1l.5-4.9l.5 6.6l.5-3l.5 4.6l.5 1l.5 9.8l.5-5.1l.5 7.4l.5-3.4l.5 4l.5-1.9l.5 5l.5-3.2l.5 5.3l.5-2.4l.5 9.2l.5-6.9l.5 3.3l.5-2.8l.5 5.9l.5-1.1l.5 4l.5-2.5l.5 7.7l.5-6l.5 2.8l.5-3.4l.5 9.8l.5-5.4l.5 2.7l.5-4.9l.5 7.1l.5-3.1l.5 4l.5-1.4l.5 2.7l.5-.2l.5 2.5l.5-1.5l.5 3l.5-4.9l.5 8.2l.5-7.3l.5 6.2l.5-2.4l.5 6.7l.5-8.5l.5 6l.5-4.6l.5 8l.5-5l.5 7.7l.5-9.7l.5 7.9l.5-2.7l.5 2.5l.5-.7l.5 8.6l.5-10.3l.5 4.6l.5-1.1l.5 3.1l.5-5.3l.5 8.8l.5-4.8l.5 6.1l.5-6.6l.5 3.6l.5-1.9l.5 5.6l.5-4l.5 1.4l.5-1.5l.5 2.6l.5-5.8l.5 10.6l.5-5.4l.5 5.9l.5-12.6l.5 8.7l.5-3.5l.5 6.1l.5-2.6l.5 2.1l.5-3.8l.5 7.8l.5-5.6l.5 5.3l.5-4.7l.5 4.6l.5-3.3l.5 1.9l.5-3.8l.5 4.8l.5-3.1l.5 4l.5-5.2l.5 4.7l.5-2.5l.5 2.5l.5-2.7l.5 2.7l.5-.2l.5 .7l.5-.7l.5 2.8l.5-3.4l.5 3.4l.5-1.2l.5 2.1l.5-1.9l.5 2l.5-1.3l.5 1.9l.5-3.5l.5 6.9l.5-6.8l.5 5.5l.5-5l.5 7.4l.5-8.8l.5 4.5l.5-3.2l.5 7.1l.5-3.8l.5 2.2l.5-6.7l.5 7.1l.5-4l.5 5.2l.5-4.4l.5 2.5l.5-4.8l.5 5.3l.5-4.3l.5 3.8l.5-1.1l.5 4.6l.5-3.7l.5 2.6l.5-8.2l.5 7.7l.5-2.4l.5 3.1l.5-3.7l.5 2.7l.5-1.9l.5 1.9l.5-3.8l.5 4.4l.5-1l.5 1.1l.5-.7l.5 2.1l.5-4.9l.5 7.6l.5-9.6l.5 5.8l.5-1.7l.5 8.7l.5-7.7l.5 2.8l.5-2.4l.5 2.8l.5-4.4l.5 6.1l.5-3.7l.5 2.6l.5-1.9l.5 .7l.5-2.1l.5 2.1l.5-1.7l.5 2.9l.5-2.9l.5 3l.5-3.7l.5 10.1l.5-12.1l.5 5.5l.5-1.3l.5 2.7l.5-4.5l.5 3.8l.5-.7l.5 2.4l.5-2.1l.5 2.3l.5-7.3l.5 8.8l.5-3.4l.5 3.4l.5-3.1l.5 2.6l.5-7.1l.5 7.9l.5-6.3l.5 4.9l.5-.7l.5 3.8l.5-6.3l.5 3.5l.5-2.2l.5 3.1l.5-3.7l.5 7.4l.5-5.8l.5 3.1l.5-4.1l.5 3.6l.5-1.8l.5 1.8l.5-2.1l.5 2.3l.5-3.1l.5 5.8l.5-4.4l.5 7.2l.5-10l.5 4.8l.5-.5l.5 5.7l.5-5.4l.5 .6l.5-2.6l.5 5.1l.5-3.2l.5 1.9l.5-3.9l.5 5.3l.5-5.4l.5 6.7l.5-5.7l.5 4.1l.5-3.5l.5 4.2l.5-3.5l.5 6.8l.5-7.8l.5 4.1l.5-3.7l.5 5.2l.5-4.5l.5 2.7l.5-4.1l.5 6.9l.5-6.8l.5 4.9l.5-6.7l.5 6.1l.5-1.9l.5 5l.5-4.9l.5 3.6l.5-2.9l.5 1.4l.5-4.6l.5 3.7l.5-.3l.5 1.7l.5-1.5l.5 2.7l.5-7.4l.5 6.4l.5-2.9l.5 1.5l.5-1l.5 2.8l.5-2.6l.5 1.5l.5-1.8l.5 .8l.5-.5l.5 1l.5-2.7l.5 2.5l.5-.8l.5 3.5l.5-3.5l.5 4.9l.5-6.4l.5 4.1l.5-5.6l.5 10.6l.5-8.4l.5 4.2l.5-4.3l.5 2.4l.5-3.5l.5 3.4l.5-4.8l.5 4.3l.5-4.7l.5 6.3l.5-3.2l.5 3.9l.5-4.1l.5 1.5l.5-3.8l.5 3.4l.5-.7l.5 .6l.5-4.9l.5 5.5l.5-2.2l.5 3.4l.5-5.4l.5 5l.5-4.4l.5 3.1l.5-4.2l.5 5.5l.5-2.7l.5 2.2l.5-2.5l.5 1.9l.5-2.5l.5 4l.5-4.4l.5 6.1l.5-6.8l.5 3.4l.5-3.7l.5 4.7l.5-2.2l.5 1.4l.5-2.5l.5 5.1l.5-4.7l.5 1.1l.5-6.5l.5 9.2l.5-9.5l.5 10.6l.5-5l.5 4.8l.5-4.3l.5 2.6l.5-4.2l.5 2l.5-2.7l.5 6.4l.5-4.5l.5 2.3l.5-3l.5 4.6l.5-3.6l.5 .6l.5-.6l.5 4.7l.5-4.8l.5 .8l.5-.1l.5 2.8l.5-7.6l.5 5.6l.5-1.3l.5 4.1l.5-6.1l.5 6.5l.5-4.5l.5 3.9l.5-3.4l.5 2.1l.5-3.8l.5 9l.5-7.2l.5 3.8l.5-6.5l.5 5.4l.5-2l.5 .9l.5-2.9l.5 5.6l.5-4.8l.5 3l.5-1.6l.5 1.3l.5-2.6l.5 2.5l.5-2.8l.5 3.5l.5-2.6l.5 1.8l.5-3l.5 2.5l.5-1.3l.5 6.9l.5-7.9l.5 9.4l.5-8.6l.5 2.3l.5-1.8l.5 4.6l.5-5.7l.5 7.5l.5-6.5l.5 1l.5-1.3l.5 4.3l.5-6.1l.5 5.4l.5-6.8l.5 4.1l.5-1.1l.5 6.6l.5-7.5l.5 5.9l.5-5.9l.5 3.2l.5-5.5l.5 5.5l.5-3.9l.5 5.2l.5-3.4l.5 2.6l.5-6.1l.5 7.6l.5-5.6l.5 3.4l.5-4.5l.5 6.2l.5-4.5l.5 1l.5-4.4l.5 4.7l.5-2.7l.5 3.4l.5-9.5l.5 9.8l.5-5.3l.5 3.5l.5-1.1l.5 2l.5-4.3l.5 6l.5-6.5l.5 3.8l.5-3.5l.5 4.6l.5-4.1l.5 4.2l.5-3.9l.5 3.6l.5-1.8l.5 .1l.5-4.7l.5 4.7l.5-2.3l.5 4.6l.5-5.3l.5 7.2l.5-5.4l.5 2.2l.5-7l.5 7.3l.5-3.7l.5 3.1l.5-2.8l.5 4.1l.5-3l.5 6.4l.5-6.9l.5 2.9l.5-1l.5 .5l.5-.5l.5 .6l.5-1.9l.5 5.7l.5-5.3l.5 5l.5-6l.5 4l.5-2.5l.5 3.5l.5-4.6l.5 3.4l.5-2.6l.5 2.2l.5-4.2l.5 9.6l.5-7.2l.5 4.2l.5-2.7l.5 3.4l.5-6.1l.5 6.6l.5-3l.5 .8l.5-5.3l.5 6.7l.5-5.7l.5 5.8l.5-3.3l.5 2l.5-3.9l.5 4.8l.5-2.1l.5 3.3l.5-2.3l.5 1.7l.5-3.9l.5 4l.5-1.4l.5 1.1l.5-.7l.5 5.9l.5-5.6l.5 .9l.5-3.2l.5 5.7l.5-7.6l.5 5.3l.5-.5l.5 2.6l.5-6.1l.5 4.6l.5-2.2l.5 4.7l.5-3.9l.5 1l.5-.4l.5 2.1l.5-3.4l.5 4.9l.5-5.7l.5 3.8l.5-2.6l.5 2.2l.5-1.4l.5 4l.5-6.9l.5 4.4l.5-2.4l.5 3.3l.5-1.3l.5 1.4l.5-2l.5 1.1l.5-.5l.5 1.2l.5-2.1l.5 6.1l.5-9.1l.5 4.9l.5-2.9l.5 3.4l.5-4.2l.5 4.6l.5-4.3l.5 4l.5-4.3l.5 5.8l.5-5.6l.5 4.6l.5-2.3l.5 2.3l.5-4.6l.5 4.8l.5-5l.5 5.4l.5-1.8l.5 2.1l.5-4.6l.5 3.9l.5-1.3l.5 1.4l.5-2.1l.5 8.2l.5-8.8l.5 3.8l.5-4.6l.5 3.4l.5-2.4l.5 6.6l.5-5.2l.5 1.1l.5-.5l.5 3.9l.5-4.4l.5 2.2l.5-3.3l.5 2.8l.5-2.3l.5 1.8l.5-2l.5 3.6l.5-5.7l.5 4.7l.5-2.4l.5 1.9l.5-.3l.5 1.9l.5-3l.5 3l.5-5.3l.5 8.5l.5-5l.5 5.4l.5-7.5l.5 3.8l.5-2.7l.5 2l.5-1.2l.5 2.5l.5-3.1l.5 3.3l.5-3l.5 4.8l.5-4.3l.5 1.2l.5-.6l.5 .6l.5-1.4l.5 2.9l.5-6.8l.5 6.5l.5-2.3l.5 3l.5-3.1l.5 2.9l.5-1.8l.5 2.2l.5-4.6l.5 2.9l.5-5.5l.5 9.1l.5-7.1l.5 5.3l.5-4.1l.5 7.7l.5-9.3l.5 4.1l.5-.7l.5 4.6l.5-5.4l.5 3.5l.5-2.6l.5 2.1l.5-2.2l.5 1l.5-.4l.5 5.7l.5-5.3l.5 .6l.5-1.9l.5 6.1l.5-6.1l.5 3.4l.5-2.1l.5 2.8l.5-6.3l.5 7.3l.5-5.4l.5 5.1l.5-5.6l.5 3.7l.5-1.9l.5 2.4l.5-1.9l.5 .8l.5-2.3l.5 6.9l.5-5.4l.5 3.8l.5-5.5l.5 2.4l.5-.7l.5 3.3l.5-4.3l.5 2.1l.5-.7l.5 3.2l.5-6.1l.5 4.5l.5-2.8l.5 2.5l.5-3.1l.5 5.6l.5-4.8l.5 3.5l.5-2.8l.5 3.2l.5-3l.5 2.3l.5-1.3l.5 .8l.5-1.8l.5 5.5l.5-6.4l.5 2.2l.5-.2l.5 4l.5-5.8l.5 3.1l.5-4.3l.5 6.1l.5-3.6l.5 5.3l.5-6.4l.5 2.5l.5-1l.5 1.1l.5-1l.5 2.8l.5-3.5l.5 5.9l.5-8l.5 4.9l.5-1.3l.5 1.8l.5-4.3l.5 2.7l.5-1.5l.5 7.9l.5-8.9l.5 5l.5-4.4l.5 4.9l.5-3.2l.5 2.4l.5-5.9l.5 4l.5-2.5l.5 2.9l.5-3.5l.5 5.4l.5-4.1l.5 3.9l.5-4.3l.5 4.3l.5-4l.5 4.7l.5-6.4l.5 5.8l.5-2.2l.5 3.2l.5-4.1l.5 2.4l.5-3.6l.5 4.3l.5-4.4l.5 5l.5-6l.5 5.3l.5-2.9l.5 2.3l.5-2.3l.5 3.4l.5-2.5l.5 2.8l.5-3.5l.5 4.3l.5-4.9l.5 3l.5-3.8l.5 4.5l.5-4.7l.5 6.8l.5-6.3l.5 3.8l.5-.9l.5 2.7l.5-4.9l.5 4l.5-4.4l.5 5.8l.5-4.4l.5 6.8l.5-5.9l.5 3.2l.5-2.3l.5 .9l.5-2.7l.5 7.5l.5-6.8l.5 6.1l.5-5.2l.5 7l.5-9.6l.5 8l.5-7.6l.5 3.5l.5-1.7l.5 4.9l.5-4.4l.5 3l.5-2.8l.5 2.6l.5-2.4l.5 2.8l.5-5.6l.5 4l.5-.2l.5 2.8l.5-5.6l.5 5.5l.5-4.4l.5 2.4l.5-2.5l.5 3l.5-1.8l.5 4l.5-3.9l.5 4.4l.5-7.8l.5 5l.5-1.4l.5 5.5l.5-5.4l.5 2.2l.5-1.7l.5 1.3l.5-1.6l.5 2l.5-4.2l.5 6.2l.5-8.1l.5 8.2l.5-3.2l.5 2.2l.5-2.6l.5 4.2l.5-7.4l.5 6.9l.5-4.2l.5 3l.5-5.3l.5 4.6l.5-1.9l.5 4.5l.5-6.3l.5 5.8l.5-2.7l.5 .8l.5-3.5l.5 4.5l.5-1.7l.5 .4l.5-.4l.5 3.7l.5-3.7l.5 4l.5-5.9l.5 2.6l.5-3l.5 4.5l.5-2.9l.5 1.5l.5-2.2l.5 4.1l.5-2.9l.5 2.8l.5-2.8l.5 1.8l.5-1.5l.5 3.9l.5-5.2l.5 3.4l.5-1.7l.5 4.4l.5-8.3l.5 11.3l.5-9.5l.5 5l.5-3.6l.5 5l.5-3.9l.5 .9l.5-1.6l.5 2.7l.5-4.6l.5 3.6l.5-1.5l.5 6.5l.5-8.6l.5 4.1l.5-5.4l.5 4.6l.5-3.1l.5 3.7l.5-3.5l.5 7.8l.5-5.9l.5 1.6l.5-2.5l.5 7.3l.5-5.6l.5 1.1l.5-5.5l.5 6.5l.5-3l.5 4.9l.5-5.5l.5 2.9l.5-1.1l.5 1.1l.5-5l.5 5.3l.5-2.1l.5 4.1l.5-4l.5 2.6l.5-5.1l.5 4.4l.5-2.7l.5 4.9l.5-4.7l.5 7.3l.5-5.4l.5 2.4l.5-2.9l.5 .9l.5-.3l.5 3.9l.5-4.1l.5 .8l.5-1.9l.5 5.6l.5-6.9l.5 5.4l.5-4.8l.5 3.6l.5-1.7l.5 1.7l.5-2l.5 2.4l.5-4.4l.5 4.4l.5-1.8l.5 .7l.5-.9l.5 1l.5-1.2l.5 3.2l.5-2.2l.5 1.4l.5-4.5l.5 6.6l.5-4.2l.5 2.2l.5-2.2l.5 1.8l.5-2.3l.5 1.9l.5-3.3l.5 3.3l.5-.9l.5 4l.5-3.9l.5 1.7l.5-1.7l.5 2.2l.5-2.3l.5 3.5l.5-3.4l.5 4.4l.5-5.7l.5 5.5l.5-3.7l.5 3.5l.5-3.9l.5 .7l.5-2.8l.5 4.7l.5-2.5l.5 1.8l.5-2.1l.5 2l.5-1.7l.5 .8l.5-.3l.5 1.8l.5-6.5l.5 5.9l.5-5.6l.5 7l.5-7.5l.5 6.2l.5-3.3l.5 4.5l.5-3.8l.5 2.3l.5-1.1l.5 2.1l.5-3.7l.5 3.2l.5-1.8l.5 1l.5-3l.5 3l.5-3.4l.5 6.1l.5-4.7l.5 7l.5-8l.5 3l.5-1.9l.5 6.8l.5-7.4l.5 4.9l.5-2.8l.5 .9l.5-1.1l.5 .9l.5-2.8l.5 3.2l.5-.9l.5 1l.5-2.8l.5 4.5l.5-5.8l.5 7.8l.5-4.8l.5 .4l.5-2.5l.5 3.1l.5-2.1l.5 2.3l.5-4.6l.5 6.1l.5-2.4l.5 4.4l.5-5.8l.5 4l.5-2.9l.5 3.1l.5-7.3l.5 6.2l.5-4.2l.5 5.2l.5-3l.5 3.2l.5-4.8l.5 2.3l.5-4.3l.5 7.5l.5-3.6l.5 1.6l.5-4.7l.5 6.3l.5-7l.5 4.9l.5-2l.5 2.4l.5-2.4l.5 5.7l.5-6.6l.5 2.3l.5-.1l.5 .8l.5-1.7l.5 1.6l.5-1.1l.5 2l.5-3.4l.5 3.1l.5-1.2l.5 .3l.5-1.4l.5 1.7l.5-.7l.5 .8l.5-1.5l.5 3.7l.5-5l.5 5.8l.5-4.8l.5 2.8l.5-2.9l.5 3.7l.5-6.6l.5 5.5l.5-1.9l.5 1.7l.5-1.9l.5 2l.5-1.4l.5 2.6l.5-4l.5 3l.5-2.9l.5 3.1l.5-5.5l.5 8.4l.5-4.6l.5 1.2l.5-1.9l.5 2.5l.5-3.8l.5 4l.5-6.3l.5 5.6l.5-1.1l.5 .4l.5-1.4l.5 3.6l.5-2.6l.5 .8l.5-1.5l.5 3.5l.5-2.7l.5 2l.5-4.6l.5 4.2l.5-2l.5 4.6l.5-6.1l.5 2.3l.5-1.4l.5 2.4l.5-2.2l.5 2.4l.5-2.5l.5 2.1l.5-1.7l.5 .9l.5-2.1l.5 4.3l.5-3.8l.5 2l.5-3.7l.5 6.1l.5-3.6l.5 1.9l.5-5.5l.5 5.3l.5-3.1l.5 2.8l.5-1.6l.5 1.6l.5-1l.5 4.8l.5-5.7l.5 2.6l.5-4.7l.5 8.3l.5-7.8l.5 3l.5-.3l.5 1.3l.5-1.5l.5 3.7l.5-4.8l.5 3.5l.5-3.1l.5 4.3l.5-7.4l.5 6l.5-3l.5 3l.5-2.1l.5 .6l.5-2.3l.5 3.5l.5-2.6l.5 1.2l.5-1.8l.5 2.2l.5-3.1l.5 7l.5-5.6l.5 2.6l.5-3.3l.5 5.2l.5-3.4l.5 1l.5-2.4l.5 3.6l.5-2.8l.5 1.4l.5-1.3l.5 .8l.5-3.8l.5 4.1l.5-4.2l.5 3.9l.5-1.7l.5 1.9l.5-2.8l.5 3.9l.5-1.7l.5 1.3l.5-3.2l.5 2.5l.5-1.5l.5 2.8l.5-4l.5 3.5l.5-2l.5 3.9l.5-9l.5 8.1l.5-5.2l.5 3.2l.5-5.2l.5 6l.5-1.7l.5 4.9l.5-5.4l.5 3.8l.5-4.8l.5 2.3l.5-6.8l.5 9.7l.5-3.5l.5 3.8l.5-5.7l.5 2.7l.5-2.2l.5 2.2l.5-2.8l.5 4l.5-4.2l.5 5.1l.5-2.6l.5 2.6l.5-4.2l.5 3l.5-2.4l.5 2.4l.5-3l.5 2.3l.5-2.2l.5 2.2l.5-1.5l.5 2l.5-2.2l.5 2l.5-3.8l.5 4l.5-3.3l.5 5.7l.5-3.3l.5 3.2l.5-3.8l.5 2.2l.5-2.4l.5 1.6l.5-1.1l.5 .9l.5-2.8l.5 3l.5-5.7l.5 5.4l.5-3.8l.5 3.3l.5-3.7l.5 6.3l.5-6.6l.5 7.8l.5-6.4l.5 4.1l.5-2.8l.5 3.3l.5-2l.5 2.3l.5-4.2l.5 2.5l.5-1.6l.5 1.4l.5-5.1l.5 5.7l.5-2.8l.5 4.6l.5-4.2l.5 2.1l.5-4.7l.5 7l.5-3.5l.5 .6l.5-.5l.5 1l.5-1.7l.5 4.2l.5-4.5l.5 4.2l.5-3.4l.5 2.6l.5-4.9l.5 5.6l.5-4l.5 2.9l.5-3.9l.5 5.3l.5-3.5l.5 .6l.5-.3l.5 2.2l.5-3.4l.5 2.6l.5-1.7l.5 5.5l.5-5.2l.5 4.5l.5-5.7l.5 2.6l.5-2.2l.5 1.4l.5-.5l.5 .5l.5-1.1l.5 1.1l.5-1.4l.5 2.9l.5-5.5l.5 4.1l.5-.5l.5 1.7l.5-2.5l.5 1.8l.5-2.3l.5 3.6l.5-3.6l.5 4.7l.5-3.4l.5 .2l.5-1.1l.5 3l.5-4.3l.5 2.6l.5-2.2l.5 4.3l.5-2.5l.5 2.1l.5-2.3l.5 2.8l.5-4.7l.5 3.8l.5-1.6l.5 2l.5-2.9l.5 2.8l.5-2.4l.5 2.2l.5-4.4l.5 3.5l.5-3.9l.5 3.6l.5-1.3l.5 1.6l.5-2.6l.5 3.9l.5-3.9l.5 5.4l.5-3.6l.5 1.2l.5-2.2l.5 2.3l.5-1.3l.5 .5l.5-2.8l.5 3.4l.5-1.3l.5 1.7l.5-2.3l.5 4.2l.5-4.3l.5 3.3l.5-2.9l.5 4.2l.5-5l.5 5.6l.5-7.6l.5 9.3l.5-6.5l.5 .7l.5-1.8l.5 3.4l.5-1.9l.5 1.3l.5-1.8l.5 .9l.5-.3l.5 .4l.5-1.8l.5 2.4l.5-1.8l.5 3.2l.5-3.9l.5 2.1l.5-.8l.5 4.4l.5-4.9l.5 2.6l.5-3.6l.5 4.4l.5-4.4l.5 4.1l.5-2.8l.5 .6l.5-3.5l.5 4.1l.5-.8l.5 .3l.5-1.6l.5 1.8l.5-4.2l.5 4.3l.5-.9l.5 .6l.5-2.7l.5 5.3l.5-5.2l.5 6.4l.5-4.9l.5 1.3l.5-5.9l.5 6.6l.5-2.5l.5 3l.5-1.9l.5 1.7l.5-2.5l.5 2.2l.5-3.6l.5 3.6l.5-1.7l.5 2.1l.5-6.1l.5 5.6l.5-1.5l.5 5.2l.5-6.3l.5 3.6l.5-3.7l.5 4.7l.5-5.6l.5 5.2l.5-2.6l.5 3.8l.5-5.3l.5 2l.5-2.6l.5 6.1l.5-4.4l.5 1.5l.5-4.9l.5 5.8l.5-4.9l.5 3.4l.5-3.2l.5 4.5l.5-5.4l.5 3.8l.5-.2l.5 2.9l.5-3.7l.5 1l.5-2l.5 2.8l.5-4.4l.5 6.1l.5-6.8l.5 4.2l.5-2.6l.5 4.2l.5-3.7l.5 6l.5-9.1l.5 7.7l.5-2.7l.5 1.9l.5-3.4l.5 3l.5-2.7l.5 2.2l.5-1.8l.5 2.8l.5-2.7l.5 3.8l.5-3.7l.5 6.9l.5-9.1l.5 4l.5-2.7l.5 3.9l.5-3.2l.5 2.9l.5-2.5l.5 .9l.5-2.5l.5 3.3l.5-2.9l.5 3.2l.5-2.6l.5 3.4l.5-2.8l.5 1.2l.5-.8l.5 2.4l.5-3l.5 3.1l.5-2.8l.5 1.9l.5-3.4l.5 3.3l.5-2.9l.5 2.3l.5-6.9l.5 13.3l.5-9.7l.5 2.9l.5-.3l.5 .5l.5-1.4l.5 6.2l.5-6.1l.5 1.3l.5-2.4l.5 2.9l.5-1.2l.5 .7l.5-3.3l.5 5.3l.5-4.7l.5 7.4l.5-7.6l.5 4.1l.5-2.5l.5 1.9l.5-3.8l.5 5l.5-7l.5 5.1l.5-2.2l.5 3.2l.5-6l.5 6.5l.5-2.3l.5 .8l.5-2.4l.5 2.1l.5-.3l.5 4l.5-4.4l.5 3.4l.5-3.3l.5 .9l.5-2l.5 5.6l.5-4.3l.5 3.5l.5-5.6l.5 2.8l.5-2.5l.5 6.5l.5-6.7l.5 2.9l.5-.9l.5 .5l.5-2.2l.5 5.6l.5-6.2l.5 2.8l.5-3.1l.5 6.9l.5-6.7l.5 6.9l.5-5.2l.5 4l.5-6.2l.5 5.7l.5-5.6l.5 3.9l.5-3.6l.5 3.1l.5-1.2l.5 2.1l.5-3.4l.5 2.6l.5-.9l.5 2.9l.5-3.5l.5 3.1l.5-3.7l.5 4.3l.5-3.7l.5 2.7l.5-3.4l.5 4.4l.5-5.1l.5 3.2l.5-1.3l.5 2.5l.5-2.2l.5 2.4l.5-4.6l.5 4.9l.5-3.7l.5 4.1l.5-5.7l.5 7.2l.5-7.7l.5 4.9l.5-3.2l.5 5.8l.5-6.3l.5 3.2l.5-3.6l.5 2.8l.5-1.4l.5 1.7l.5-.8l.5 2.2l.5-5l.5 4l.5-4.4l.5 4.9l.5-3.2l.5 4.8l.5-6.4l.5 6.6l.5-5.1l.5 3.9l.5-2.6l.5 2.7l.5-2.1l.5 .9l.5-5.2l.5 5.5l.5-3.8l.5 3.3l.5-4.3l.5 4.4l.5-2.5l.5 6.3l.5-5.8l.5 2.1l.5-2.3l.5 1.5l.5-1.2l.5 4.1l.5-3.2l.5 .6l.5-2.6l.5 3.6l.5-4.1l.5 3.6l.5-3.3l.5 2.9l.5-1.7l.5 3.2l.5-2.2l.5 2.6l.5-8.6l.5 9.5l.5-7.8l.5 4.6l.5-2.4l.5 2.7l.5-.5l.5 2.5l.5-3.1l.5 1.7l.5-2l.5 4.6l.5-3.7l.5 .9l.5-1.2l.5 2.1l.5-5l.5 3.6l.5-.8l.5 1.2l.5-5l.5 5.2l.5-1.5l.5 1.5l.5-3.4l.5 3.3l.5-4.8l.5 4.7l.5-2.3l.5 3.9l.5-2.8l.5 2.5l.5-2l.5 1.8l.5-3.2l.5 2.2l.5-4.6l.5 5l.5-2.3l.5 3l.5-2.4l.5 3.5l.5-4.7l.5 1.8l.5-1.7l.5 2.3l.5-2.8l.5 2.5l.5-1.9l.5 4.3l.5-3.9l.5 3.7l.5-2.7l.5 .5l.5-1.9l.5 3.4l.5-4l.5 3l.5-2.8l.5 5.7l.5-5.2l.5 2.3l.5-2.4l.5 2.3l.5-2l.5 3.2l.5-4.7l.5 5.1l.5-4.9l.5 5l.5-3l.5 2.5l.5-3.6l.5 4.6l.5-6.2l.5 5.6l.5-2.9l.5 1.6l.5-2l.5 1.6l.5-1.4l.5 1.4l.5-2.2l.5 3.7l.5-7.3l.5 5.6l.5-3l.5 2.8l.5-3.2l.5 3.2l.5-4.2l.5 7.5l.5-4l.5 1.3l.5-2.6l.5 3.4l.5-1.9l.5 .5l.5-.4l.5 3.2l.5-6.8l.5 5l.5-2l.5 .9l.5-1.5l.5 3.8l.5-5l.5 4.3l.5-5l.5 5.6l.5-3.6l.5 2.9l.5-4.8l.5 4.3l.5-3.4l.5 5.6l.3-4.4" fill="none" stroke="#ff0000" stroke-width="3.9" stroke-linejoin="bevel"/>
<path d="M116.7 447.6l.5-10.8l.5 7.7l.5-2l.5 3l.5-1.2l.5 5.9l.5-5.1l.5 3.2l.5-9.8l.5 9.1l.5-1l.5 2l.5-1.8l.5 4.6l.5-3l.5 2.5l.5-1.3l.5 3.4l.5-2.3l.5 1l.5-3.4l.5 5.6l.5-2.1l.5 2.1l.5-1.3l.5 6.5l.5-4.9l.5 1.7l.5-2.5l.5 5.1l.5-2.4l.5 3.3l.5-3.1l.5 2.1l.5-1.4l.5 9l.5-9l.5 5.3l.5-6l.5 5.2l.5-1.9l.5 3.2l.5-3.2l.5 3.1l.5 .3l.5 4l.5-4.8l.5 2.8l.5-2.7l.5 3.7l.5-2.2l.5 4.2l.5-2.3l.5 2.4l.5-1.8l.5 3l.5-6l.5 8.3l.5-2.2l.5 5.7l.5-3.4l.5 3.2l.5-3.4l.5 7.4l.5-6.1l.5 4.6l.5-3.5l.5 8.7l.5-5.3l.5 2.8l.5-1.2l.5 6.1l.5-5.5l.5 4.6l.5-2.2l.5 6.6l.5-2.3l.5 1.9l.5-3.7l.5 8.7l.5-4.5l.5 4.3l.5-3.2l.5 4.3l.5-1.3l.5 4.1l.5-2.6l.5 5.7l.5-5.2l.5 5.4l.5-1l.5 2.2l.5-.7l.5 4.8l.5-5.3l.5 4.6l.5-1.5l.5 5.1l.5-1.1l.5 2.1l.5-.4l.5 2.1l.5-1.3l.5 4.2l.5-.9l.5 1.3l.5-.4l.5 2.4l.5-4.7l.5 8.8l.5-5.2l.5 7.8l.5-3.9l.5 2.6l.5-1.5l.5 6.2l.5-6l.5 5.1l.5-3.9l.5 5.1l.5-2.7l.5 2.3l.5-.6l.5 5.8l.5-3.6l.5 2.4l.5-1.1l.5 4.3l.5-4.1l.5 4.5l.5-3.9l.5 2.9l.5-1.3l.5 4.8l.5-3.4l.5 2.3l.5-.9l.5 2.2l.5-1.6l.5 3.4l.5-2l.5 5.8l.5-4.4l.5 2l.5-2.6l.5 5l.5-2.8l.5 2.9l.5-1l.5 1l.5-.3l.5 .9l.5-2.4l.5 3.9l.5-.6l.5 2l.5-1.8l.5 2.7l.5-1.7l.5 2.4l.5-1.8l.5 1.3l.5-1.3l.5 2.8l.5-3.8l.5 6.8l.5-4.9l.5 2.5l.5-.8l.5 1.8l.5-3.1l.5 3.7l.5-1.9l.5 3.2l.5-3.1l.5 .8l.5-1.5l.5 2.4l.5-4.5l.5 5.5l.5-5.3l.5 3.8l.5-.5l.5 1l.5-1.5l.5 2.4l.5-1.6l.5 .7l.5-2.6l.5 3.9l.5-2.8l.5 2.9l.5-2.6l.5 2.9l.5-3.2l.5 2.3l.5-1.9l.5 2.1l.5-1.3l.5 3.9l.5-3.1l.5 .8l.5-.7l.5 3.2l.5-3.9l.5 4.3l.5-4l.5 1.2l.5-1.8l.5 2l.5-1.4l.5 2.1l.5-1.5l.5 1.3l.5-.3l.5 .4l.5-.5l.5 1.8l.5-1.6l.5 4l.5-3.7l.5 2.3l.5-3.7l.5 4.1l.5-5.3l.5 3.6l.5-.3l.5 2l.5-2.5l.5 1.8l.5-3.6l.5 3.5l.5-.6l.5 .6l.5-2.1l.5 3.2l.5-2.2l.5 3.3l.5-2.9l.5 1.4l.5-1l.5 3.9l.5-3l.5 2.1l.5-2.8l.5 1.5l.5-3.8l.5 4.2l.5-.4l.5 1.2l.5-.8l.5 4l.5-4.5l.5 2.2l.5-1.4l.5 1.4l.5-2.8l.5 4.9l.5-2.9l.5 .3l.5-1.4l.5 2.8l.5-2l.5 2.6l.5-2.7l.5 3.3l.5-3l.5 1.4l.5-1.3l.5 2.4l.5-.9l.5 1.4l.5-3.1l.5 2.6l.5-.8l.5 1.9l.5-4.1l.5 3.5l.5-.3l.5 .5l.5-2.1l.5 5.1l.5-3.4l.5 2.6l.5-3.1l.5 3.8l.5-3.1l.5 1.9l.5-1.1l.5 2.8l.5-3.2l.5 3.9l.5-4.2l.5 4.4l.5-2.9l.5 1.8l.5-1.6l.5 3.7l.5-4.4l.5 1.2l.5-2l.5 4l.5-2.7l.5 1.6l.5-3.7l.5 3.8l.5-2.5l.5 2.1l.5-2.2l.5 3.9l.5-2.5l.5 1.8l.5-3.9l.5 2l.5-1.4l.5 1.7l.5-1.3l.5 1.5l.5-1.2l.5 1.1l.5-1.3l.5 2.5l.5-4.6l.5 3.2l.5-2.5l.5 3.2l.5-2.6l.5 1.2l.5-4.9l.5 6.1l.5-2.5l.5 2.2l.5-1.8l.5 1.6l.5-2.9l.5 3l.5-6l.5 6.1l.5-2.1l.5 3.4l.5-3.3l.5 3.1l.5-4.2l.5 4.3l.5-1.8l.5 2.8l.5-2.3l.5 .5l.5-.1l.5 1.6l.5-2.4l.5 2.4l.5-1.7l.5 4.8l.5-4.1l.5 2.1l.5-2.5l.5 1.9l.5-1l.5 .7l.5-2l.5 2.8l.5-1.2l.5 4.1l.5-5.4l.5 3.7l.5-3.5l.5 2.1l.5-3.2l.5 2.8l.5-1.4l.5 2.1l.5-3.1l.5 1.3l.5-1.7l.5 2l.5-3.9l.5 3.2l.5-1l.5 .8l.5-1.4l.5 1.6l.5-2l.5 1.9l.5-2.8l.5 2.9l.5-3.7l.5 1.2l.5-3.3l.5 3.3l.5-1.9l.5 1.3l.5-1.4l.5 1.4l.5-1.6l.5 1.9l.5-3.9l.5 2.2l.5-1.4l.5 2.7l.5-2.7l.5 2.3l.5-3.4l.5 1.6l.5-3.8l.5 4.3l.5-4.2l.5 2.5l.5-3.6l.5 2.5l.5-2.6l.5 2.2l.5-4.2l.5 2.4l.5-4.2l.5 6.3l.5-5.1l.5 2.3l.5-2.8l.5 .7l.5-2.6l.5 1.6l.5-2.5l.5 .5l.5-2.6l.5 3.2l.5-3l.5-.4l.5-1.2l.5 1.5l.5-4.3l.5 3.5l.5-3.3l.5 1.5l.5-3.6l.5 .5l.5-1.6l.5 2.1l.5-4l.5 4.1l.5-4.9l.5 3.3l.5-5.9l.5 2.8l.5-2.6l.5 1.4l.5-3l.5 .8l.5-1.8l.5-.8l.5-3l.5 2.2l.5-3.3l.5 .7l.5-4.6l.5 2.6l.5-6.4l.5 .4l.5-2.8l.5-.6l.5-5.4l.5-.4l.5-6.4l.5-.2l.5-4.9l.5-2.8l.5-7.4l.5 6.4l.5-9.5l.5-3.4l.5-9.2l.5 2l.5-4.6l.5-1.5l.5-8.8l.5 1.5l.5-8.7l.5-3.6l.5-7.8l.5 .7l.5-9.2l.5 1.2l.5-11.7l.5-.1l.5-6.6l.5-2l.5-8.7l.5-4.1l.5-5.6l.5-2.5l.5-7.8l.5-.2l.5-13.6l.5-1.2l.5-10.2l.5 .4l.5-9.6l.5 1.2l.5-7l.5 2.1l.5-1.8l.5 8.5l.5 4.3l.5 8.8l.5 2.2l.5 11.4l.5 4.9l.5 6.3l.5 2.8l.5 5.9l.5 3.9l.5 4.9l.5-1.1l.5 9.8l.5 3.2l.5 4.9l.5 2.4l.5 9.2l.5 .3l.5 7l.5 4l.5 7.1l.5 4.3l.5 9l.5 2.3l.5 10.2l.5 1.2l.5 6.3l.5 3.4l.5 7.4l.5 1.3l.5 5.1l.5 2.6l.5 4.3l.5 1l.5 8.1l.5-2.2l.5 6.9l.5 1.8l.5 4l.5 .7l.5 6.6l.5-3.3l.5 5.8l.5-1.1l.5 4.3l.5 1l.5 2.7l.5-.1l.5 4.7l.5-.5l.5 2.9l.5-2.2l.5 6.4l.5-1.8l.5 2.2l.5-.7l.5 4.5l.5-.6l.5 3.8l.5-3.3l.5 5.9l.5-7.8l.5 7.6l.5-2.5l.5 3.1l.5-.3l.5 2l.5-1.6l.5 2.3l.5-.9l.5 2.5l.5-.7l.5 2l.5-1.1l.5 2l.5-2l.5 6.1l.5-4.3l.5 4.8l.5-3.3l.5 1.6l.5-1.5l.5 3.5l.5-2.2l.5 2.8l.5-2.5l.5 3.9l.5-2.6l.5 2.3l.5-.9l.5 2.5l.5-1.6l.5 2.7l.5-2l.5 2.2l.5 0l.5 .9l.5-1.6l.5 2.5l.5-1l.5 2.4l.5-1l.5 1.9l.5-1.7l.5 3l.5-1.5l.5 1.1l.5-1.7l.5 2.4l.5-.8l.5 3.6l.5-3.6l.5 4.1l.5-2.3l.5 1.4l.5-3.5l.5 5l.5-2.5l.5 1.5l.5 0l.5 .7l.5-3l.5 4.2l.5-1.6l.5 1.3l.5-.2l.5 1.4l.5-1.3l.5 1.5l.5-1.5l.5 2.6l.5-2.1l.5 2.3l.5-1.9l.5 1.1l.5-2.5l.5 3.1l.5-2.2l.5 2l.5-1.1l.5 2.2l.5-2.5l.5 2.5l.5-1.5l.5 .4l.5-.5l.5 1.2l.5-2.2l.5 3.2l.5-1.5l.5 1.3l.5-1.8l.5 1l.5-.2l.5 .6l.5-2.3l.5 3.4l.5-2.7l.5 1.7l.5-.6l.5 2.5l.5-2.2l.5 3.2l.5-3.3l.5 1.8l.5-2.9l.5 3.3l.5-2.1l.5 1.7l.5-1.5l.5 2.1l.5-1l.5 1.3l.5-4.2l.5 4.4l.5-3.9l.5 3.2l.5-.5l.5 2.1l.5-3.6l.5 2.9l.5-.7l.5 1.9l.5-1.9l.5 1.5l.5-1.1l.5 .9l.5-2.4l.5 2.3l.5-1.3l.5 1.8l.5-1l.5 2l.5-3.7l.5 2.4l.5-.2l.5 1.2l.5-3.5l.5 2.8l.5-.2l.5 .7l.5-2l.5 2.3l.5-2.7l.5 2.7l.5-.6l.5 .5l.5-1.7l.5 3.7l.5-2.7l.5 1.2l.5-.4l.5 2.2l.5-4.2l.5 5.7l.5-3.9l.5 3l.5-2.6l.5 .5l.5-1.7l.5 3.2l.5-3.2l.5 1.9l.5-.4l.5 1.5l.5-2.3l.5 2.8l.5-2.4l.5 .9l.5-.5l.5 1.1l.5-1.6l.5 1.5l.5-1l.5 1.4l.5-1.1l.5 1.5l.5-1.2l.5 .8l.5-.5l.5 1.1l.5-2l.5 2.4l.5-1.3l.5 1.9l.5-3.1l.5 1.5l.5-2l.5 2.6l.5-2.4l.5 2.3l.5-1l.5 .8l.5-2l.5 2.3l.5-1.1l.5 .9l.5-.3l.5 1.3l.5-3.1l.5 2.2l.5-1.9l.5 2.5l.5-1.2l.5 2.7l.5-2.5l.5 1.3l.5-2.1l.5 2.6l.5-1.4l.5 2.7l.5-2.6l.5 1.5l.5-1.9l.5 1l.5-2.2l.5 2.2l.5-1l.5 1.3l.5-1.1l.5 2.3l.5-3.5l.5 3.5l.5-2.7l.5 3.1l.5-2l.5 .3l.5-.7l.5 .9l.5-.8l.5 .9l.5-.4l.5 .3l.5-2.3l.5 5.8l.5-4.4l.5 2.8l.5-2.2l.5 1.2l.5-1.1l.5 .7l.5-.5l.5 1.5l.5-2.2l.5 2l.5-1.9l.5 1.1l.5-2l.5 2.6l.5-1.9l.5 2.2l.5-2l.5 2.2l.5-1.7l.5 1.6l.5-1.1l.5 1.4l.5-2.6l.5 3.4l.5-2.4l.5 2.2l.5-2.5l.5 3.2l.5-2.7l.5 2l.5-3.6l.5 2l.5-1.4l.5 2l.5-2.7l.5 2.2l.5-1.5l.5 3l.5-2.5l.5 2.8l.5-3.7l.5 2.4l.5-2.9l.5 2.4l.5-.1l.5 .9l.5-1.5l.5 1.2l.5-2.2l.5 3.4l.5-1.8l.5 1.1l.5-1.9l.5 1.4l.5-1.6l.5 2l.5-2.3l.5 2.6l.5-1.1l.5 .7l.5-2.4l.5 2.4l.5-.8l.5 .4l.5-1.2l.5 1.1l.5-.4l.5 1.9l.5-2.2l.5 2.2l.5-4.1l.5 2.7l.5-1.5l.5 1.6l.5-1.2l.5 1.6l.5-2.2l.5 2.5l.5-1l.5 .9l.5-2.4l.5 1.9l.5-1l.5 1.7l.5-1.6l.5 1.4l.5-1.4l.5 2.2l.5-1.5l.5 .9l.5-2l.5 2.4l.5-2.9l.5 3.8l.5-3.1l.5 1.8l.5-2.1l.5 1.5l.5-1.1l.5 1.9l.5-2.1l.5 1.2l.5-1.9l.5 2.2l.5-2.1l.5 3.1l.5-2.4l.5 2.6l.5-3.1l.5 2.3l.5-1.5l.5 1.5l.5-1.8l.5 3.2l.5-2l.5 1.3l.5-1.5l.5 1.4l.5-1.9l.5 1.5l.5-3.1l.5 3.5l.5-1.1l.5 .7l.5-1.3l.5 2.4l.5-5.2l.5 4.2l.5-1.8l.5 3.3l.5-2.3l.5 1.3l.5-2.4l.5 2l.5-1.6l.5 1.6l.5-.7l.5 .3l.5-.4l.5 .4l.5-1.7l.5 3.6l.5-3.9l.5 5l.5-3.3l.5 1.7l.5-2.2l.5 1.2l.5-.8l.5 .6l.5-1.3l.5 1.9l.5-1.8l.5 1.1l.5-1l.5 1.9l.5-1.2l.5 .6l.5-.4l.5 1.3l.5-2.5l.5 3.3l.5-2.3l.5 .6l.5-1l.5 2.4l.5-3.7l.5 2.3l.5-.8l.5 1.5l.5-2.9l.5 3.3l.5-2l.5 2.4l.5-2l.5 1.1l.5-1.1l.5 1.2l.5-1.2l.5 1.4l.5-.8l.5 1l.5-3.4l.5 2.6l.5-.7l.5 1.3l.5-1.6l.5 2.1l.5-1.5l.5 1.4l.5-2.7l.5 2l.5-.8l.5 .6l.5-.7l.5 2.9l.5-5.9l.5 4.6l.5-1.4l.5 1.6l.5-2.1l.5 1.4l.5-3.6l.5 4.5l.5-2.1l.5 2l.5-2.2l.5 3.8l.5-4l.5 2.1l.5-1.6l.5 1.1l.5-.2l.5 1.4l.5-1.5l.5 .6l.5-1l.5 2.2l.5-1.5l.5 .6l.5-1l.5 1.2l.5-2.1l.5 2.8l.5-1.7l.5 .6l.5-.9l.5 2l.5-2l.5 1.3l.5-.6l.5 .6l.5-1.3l.5 3.4l.5-2.8l.5 1.4l.5-2l.5 1.3l.5-.8l.5 .7l.5-1.7l.5 3l.5-1.8l.5 1l.5-.8l.5 .5l.5-.8l.5 .9l.5-.5l.5 1.7l.5-3.1l.5 3.8l.5-2.3l.5 2l.5-2.9l.5 2.6l.5-2.9l.5 2.8l.5-1.5l.5 2.2l.5-2.7l.5 1.4l.5-1.7l.5 2l.5-1.4l.5 1.5l.5-1.4l.5 1.4l.5-1l.5 1.8l.5-2l.5 2.8l.5-2.4l.5 2.1l.5-2.9l.5 3l.5-2.9l.5 2.5l.5-1.3l.5 .7l.5-2.4l.5 2.5l.5-.3l.5 1.4l.5-1.1l.5 1.6l.5-1.4l.5 1.3l.5-2.3l.5 1.7l.5-.8l.5 .9l.5-1.8l.5 2l.5-1.2l.5 1.6l.5-1.5l.5 1.3l.5-1.6l.5 1.4l.5-.2l.5 1.3l.5-1.8l.5 2.6l.5-3l.5 3l.5-1.8l.5 2.8l.5-3.7l.5 1.7l.5-1l.5 1.7l.5-.6l.5 .8l.5-1.7l.5 2l.5-2.7l.5 3.1l.5-2.2l.5 2.6l.5-1.7l.5 .9l.5-1.2l.5 2.3l.5-1.8l.5 2.1l.5-2.4l.5 2.5l.5-2l.5 1.6l.5-1.7l.5 1.6l.5-.7l.5 .7l.5-1.7l.5 2.2l.5-2l.5 1.8l.5-1.3l.5 1.3l.5-.5l.5 .6l.5-1.7l.5 2.7l.5-3.5l.5 3.4l.5-2.6l.5 3.2l.5-2l.5 1l.5-.8l.5 1.6l.5-2l.5 1.2l.5-1.1l.5 2.7l.5-3.8l.5 2.1l.5-1.6l.5 1.8l.5-1.8l.5 2.7l.5-2.2l.5 2.4l.5-2.1l.5 1.1l.5-1.2l.5 1.5l.5-1.1l.5 1.2l.5-1.4l.5 .7l.5-1.6l.5 1.4l.5-.6l.5 2.8l.5-3.1l.5 2.2l.5-2.4l.5 1.6l.5-.6l.5 .4l.5-.6l.5 .9l.5-.9l.5 1.3l.5-2.2l.5 2.1l.5-1l.5 .6l.5-1.2l.5 .8l.5-.5l.5 .8l.5-.8l.5 2.2l.5-2.9l.5 2.1l.5-1.3l.5 .6l.5-1.2l.5 1.7l.5-2.6l.5 3.4l.5-1.6l.5 2l.5-3.1l.5 1.7l.5-.8l.5 1.6l.5-1.5l.5 1.5l.5-1.6l.5 1.2l.5-1.1l.5 .8l.5-.8l.5 1.1l.5-2.5l.5 2.2l.5-1.8l.5 2.1l.5-.7l.5 .6l.5-1.5l.5 1.7l.5-1.1l.5 .4l.5-1.2l.5 2l.5-2l.5 2.8l.5-2.5l.5 .8l.5-1.3l.5 1.9l.5-2.8l.5 2.7l.5-.5l.5 1.2l.5-2.2l.5 1.7l.5-.8l.5 .9l.5-2.3l.5 4.1l.5-2.5l.5 .3l.5-1.1l.5 .9l.5-2.7l.5 3.8l.5-1.6l.5 .8l.5-.9l.5 .8l.5-1.1l.5 1.4l.5-2.4l.5 1.8l.5-.1l.5 1.2l.5-3.2l.5 3.1l.5-1.7l.5 .8l.5-.1l.5 .5l.5-1.1l.5 .7l.5-1.5l.5 3.4l.5-3.4l.5 2.4l.5-1.7l.5 2.3l.5-2.8l.5 1.7l.5-1l.5 .5l.5-1l.5 1.6l.5-.8l.5 .3l.5-1l.5 1.6l.5-2.8l.5 3.7l.5-3.5l.5 2.8l.5-2.3l.5 2.7l.5-2.4l.5 1.5l.5-1l.5 1.5l.5-2l.5 1.6l.5-1.4l.5 1.8l.5-2l.5 2.2l.5-2.4l.5 .8l.5-2.3l.5 3.1l.5-2l.5 2.2l.5-1.7l.5 .9l.5-1.2l.5 1.5l.5-1l.5 .6l.5-1.8l.5 2l.5-1.8l.5 2l.5-2.1l.5 1l.5-1.8l.5 2.5l.5-1.8l.5 1.1l.5-1.9l.5 1.6l.5-.5l.5 3.2l.5-2.8l.5 0l.5-1.1l.5 1.7l.5-2.3l.5 1.7l.5-1.4l.5 2.3l.5-1l.5 .9l.5-1.7l.5 1.6l.5-1.3l.5 1l.5-1l.5 1.3l.5-1.1l.5 .7l.5-.7l.5 2l.5-1.6l.5 .9l.5-1.7l.5 1.2l.5-.1l.5 .4l.5-.9l.5 1.1l.5-.6l.5 .8l.5-1.3l.5 1.5l.5-2.6l.5 3.3l.5-1.4l.5 .9l.5-1.3l.5 1.3l.5-.5l.5 1.6l.5-2.4l.5 2.5l.5-1.1l.5 1.2l.5-1.3l.5 .9l.5-.6l.5 1.2l.5-.9l.5 .3l.5-.2l.5 1.4l.5-1.6l.5 1.1l.5-1.7l.5 1.4l.5-1.4l.5 1.5l.5-1.1l.5 1.9l.5-1.7l.5 1.5l.5-1.5l.5 1.5l.5-.4l.5 2.7l.5-2.8l.5 .5l.5-1l.5 .9l.5-.2l.5 .5l.5-2.9l.5 4l.5-2.6l.5 2.3l.5-1.7l.5 .6l.5-1.4l.5 1.6l.5-1.4l.5 1.9l.5-2.3l.5 2.5l.5-1.3l.5 .5l.5-.4l.5 1.3l.5-1l.5 .7l.5-1l.5 2.1l.5-1.8l.5 .4l.5-.5l.5 .4l.5-.7l.5 .5l.5-.2l.5 1l.5-1.7l.5 1.3l.5-1.2l.5 1.7l.5-.9l.5 .9l.5-1.5l.5 1.2l.5-2.2l.5 2.4l.5-1.4l.5 2.4l.5-3l.5 2.6l.5-2.2l.5 2.7l.5-2.7l.5 2l.5-2.3l.5 3.2l.5-2.3l.5 1.3l.5-1.5l.5 .9l.5-.8l.5 1.9l.5-2.1l.5 1.7l.5-2.8l.5 2l.5-1.6l.5 1.6l.5-.5l.5 1.4l.5-1.4l.5 1.4l.5-1.7l.5 1.1l.5-1.5l.5 1.6l.5-1.9l.5 1.3l.5-1.4l.5 1.8l.5-.5l.5 1.2l.5-1.7l.5 .8l.5-2.3l.5 3.8l.5-2.1l.5 1.3l.5-2.7l.5 1.8l.5-1.2l.5 1.6l.5-2.2l.5 2.7l.5-1.8l.5 1.3l.5-2l.5 2.1l.5-1l.5 1l.5-.6l.5 1.1l.5-1.1l.5 2.1l.5-2.1l.5 .5l.5-1.1l.5 .8l.5-.2l.5 .3l.5-1.2l.5 1.5l.5-1.4l.5 2.1l.5-1.5l.5 1l.5-1.9l.5 2l.5-3.6l.5 3.2l.5-1.2l.5 1.7l.5-1.4l.5 2.2l.5-2.5l.5 1.1l.5-.4l.5 .2l.5-.9l.5 2l.5-1.1l.5 1.5l.5-2.2l.5 .9l.5-2l.5 1.9l.5-1.2l.5 1.6l.5-.7l.5 .3l.5-.3l.5 .6l.5-.4l.5 .8l.5-2l.5 1.5l.5-.9l.5 1.7l.5-2l.5 2.7l.5-3.3l.5 3.1l.5-1.5l.5 .6l.5-1.4l.5 2.4l.5-1.7l.5 1.9l.5-2.5l.5 1.7l.5-1l.5 2.4l.5-4.1l.5 2.3l.5-1.3l.5 2.2l.5-1.6l.5 1l.5-1.9l.5 2.1l.5-1.1l.5 .7l.5-1.4l.5 1.5l.5-1.7l.5 1.7l.5-.6l.5 1.5l.5-1.6l.5 2.1l.5-2.9l.5 3.3l.5-3.1l.5 1.9l.5-1l.5 1.4l.5-1.6l.5 1.7l.5-1.8l.5 2.6l.5-2.1l.5 1.5l.5-2.1l.5 1.6l.5-1.3l.5 2.8l.5-1.8l.5 .3l.5-.5l.5 1l.5-1.5l.5 1.1l.5-.7l.5 .9l.5-1.4l.5 1.5l.5-.8l.5 1.9l.5-2.4l.5 1.4l.5-.9l.5 2.7l.5-1.9l.5 1.5l.5-3.2l.5 4.4l.5-3.3l.5 1.1l.5-1.4l.5 1.4l.5-.3l.5 .7l.5-.6l.5 1.7l.5-2.6l.5 2l.5-1.8l.5 2.6l.5-1.8l.5 1l.5-.8l.5 .9l.5-1.4l.5 1.1l.5-1.4l.5 3.3l.5-3l.5 2.3l.5-1.5l.5 .2l.5-1.7l.5 2.2l.5-2l.5 2.2l.5-2.9l.5 4.7l.5-3.3l.5 2.8l.5-2.3l.5 1l.5-.6l.5 .9l.5-1.9l.5 1.9l.5-1.5l.5 1.2l.5-1.3l.5 1.8l.5-1.2l.5 1l.5-2.3l.5 2.2l.5-.6l.5 .6l.5-1.8l.5 1.6l.5-.3l.5 2.6l.5-3l.5 .7l.5-.7l.5 1.1l.5-1.4l.5 1.6l.5-2.6l.5 2.9l.5-1.8l.5 1.8l.5-1.5l.5 1l.5-2.6l.5 2.4l.5-.8l.5 1l.5-.5l.5 2.8l.5-4.4l.5 3.5l.5-3.1l.5 2l.5-.4l.5 .6l.5-1.6l.5 2.8l.5-2.8l.5 1.7l.5-3.5l.5 4.4l.5-1.6l.5 1.7l.5-2.6l.5 1.3l.5-.4l.5 .3l.5-2.3l.5 4.4l.5-3.7l.5 1.8l.5-1.3l.5 2.3l.5-1.9l.5 1.2l.5-1.1l.5 1.4l.5-1.2l.5 2l.5-2.7l.5 1.1l.5-.9l.5 2.2l.5-1.5l.5 1.9l.5-2.3l.5 2l.5-2.3l.5 1.4l.5-.8l.5 .5l.5-2.6l.5 4l.5-1.8l.5 1.4l.5-1.8l.5 1l.5-1.4l.5 1.5l.5-.9l.5 1l.5-1.3l.5 1.3l.5-.8l.5 .5l.5-1.4l.5 1.3l.5-1.3l.5 1.6l.5-.5l.5 .2l.5-.3l.5 2.7l.5-2.6l.5 .7l.5-.7l.5 1.5l.5-1.3l.5 .8l.5-2l.5 1.8l.5-1.3l.5 2.4l.5-2.4l.5 1.4l.5-1.7l.5 2.4l.5-1.7l.5 1.2l.5-1.3l.5 1l.5-1l.5 1.8l.5-1.3l.5 .3l.5-1.7l.5 1.5l.5-1.2l.5 1.4l.5-1.2l.5 1.5l.5-1.9l.5 2.2l.5-2.7l.5 2.4l.5-1.2l.5 1.6l.5-1.3l.5 .9l.5-1.2l.5 1.1l.5-1l.5 1.5l.5-1.2l.5 1.6l.5-2.3l.5 2.1l.5-2.2l.5 1.8l.5-2.2l.5 3l.5-2.7l.5 3l.5-3.1l.5 2.9l.5-1.5l.5 .9l.5-1l.5 1.8l.5-2l.5 2.1l.5-3l.5 3.4l.5-2.8l.5 2.2l.5-3.1l.5 2l.5-1l.5 1.2l.5-1.3l.5 .9l.5-.4l.5 1.3l.5-3l.5 3.1l.5-1.9l.5 .9l.5-.2l.5 .1l.5-.6l.5 1.5l.5-2.3l.5 3.4l.5-2.4l.5 .5l.5-1.4l.5 1.9l.5-.8l.5 .4l.5-1l.5 2l.5-1.9l.5 1.9l.5-2.3l.5 1.2l.5-.3l.5 .7l.5-1.3l.5 1.2l.5-2.4l.5 2.1l.5-.4l.5 2.5l.5-3.1l.5 1.3l.5-.4l.5 1.8l.5-3.3l.5 1.7l.5-.3l.5 1.7l.5-1.9l.5 .6l.5-1l.5 2.5l.5-3.6l.5 2.1l.5-.6l.5 .8l.5-2.1l.5 3.2l.5-2.3l.5 .9l.5-.2l.5 .5l.5-1.2l.5 1.9l.5-2.1l.5 1.7l.5-2.1l.5 3.2l.5-2.6l.5 1.8l.5-1.8l.5 1.8l.5-2.1l.5 1.6l.5-1.7l.5 1.5l.5-1l.5 1.6l.5-2l.5 2.4l.5-3.3l.5 2.4l.5-1.8l.5 2.6l.5-2.6l.5 2.5l.5-1.1l.5 2.9l.5-3.8l.5 2.2l.5-1.7l.5 1.1l.5-.9l.5 2.4l.5-3.5l.5 2l.5-.9l.5 1l.5-1.2l.5 1.2l.5-.6l.5 .2l.5-1.4l.5 1.7l.5-.9l.5 1.5l.5-1.3l.5 .3l.5-.4l.5 1.2l.5-1.6l.5 1.2l.5-2.5l.5 2.4l.5-1.2l.5 2.1l.5-1.3l.5 1.3l.5-2.9l.5 2.5l.5-2l.5 2l.5-2.4l.5 3.1l.5-2.3l.5 .8l.5-.6l.5 .7l.5-.8l.5 1.8l.5-3.5l.5 2.7l.5-2.1l.5 2.5l.5-1.6l.5 1.2l.5-1l.5 1.9l.5-1.5l.5 .6l.5-1.9l.5 1.9l.5-1.4l.5 1.3l.5-.7l.5 1.5l.5-1.7l.5 .8l.5-.2l.5 .5l.5-1.6l.5 2.3l.5-1.1l.5 .3l.5-1.7l.5 3.2l.5-2.2l.5 1.5l.5-2.3l.5 1.9l.5-.7l.5 1.3l.5-1.2l.5 .8l.5-2.4l.5 2.9l.5-1.7l.5 4.4l.5-4.9l.5 1l.5-.6l.5 3.3l.5-4.4l.5 1.8l.5-1.6l.5 2.6l.5-1.8l.5 1.7l.5-1.5l.5 .9l.5-.9l.5 .6l.5-1.5l.5 2.9l.5-2.4l.5 2.2l.5-1.7l.5 .8l.5-.8l.5 .5l.5-1l.5 2.7l.5-2.3l.5 .9l.5-.4l.5 1.4l.5-3.3l.5 2.3l.5-1.1l.5 .9l.5-1l.5 .9l.5-1l.5 1.5l.5-.6l.5 1.4l.5-2.4l.5 1.3l.5-1.3l.5 1.5l.5-.8l.5 2.3l.5-2.8l.5 1.8l.5-1l.5 .7l.5-.8l.5 .3l.5-.6l.5 1.7l.5-3.3l.5 2.1l.5-.4l.5 .5l.5-.7l.5 .8l.5-1.4l.5 1.3l.5-.2l.5 1l.5-1.5l.5 .7l.5-.2l.5 .9l.5-1.3l.5 .7l.5-1l.5 1.3l.5-1.3l.5 2.9l.5-4.2l.5 2.3l.5-1.2l.5 1.8l.5-1.5l.5 1.7l.5-1.5l.5 1.5l.5-1.1l.5 .4l.5-.5l.5 .9l.5-1.9l.5 1.8l.5-1.3l.5 2.3l.5-2.3l.5 1.1l.5-.8l.5 .6l.5-1l.5 2l.5-1.1l.5 1l.5-2.9l.5 3.2l.5-1.3l.5 .7l.5-.8l.5 .8l.5-1.4l.5 .8l.5-.1l.5 1.1l.5-2.2l.5 1.4l.5-.4l.5 .8l.5-.9l.5 .5l.5-.6l.5 1.7l.5-3.8l.5 4.6l.5-2.3l.5 2l.5-1.8l.5 .7l.5-1.3l.5 1.1l.5-1.8l.5 2.3l.5-2.3l.5 1.9l.5-1.7l.5 1.7l.5-1.1l.5 1.8l.5-2.4l.5 1.7l.5-2.9l.5 2.6l.5-.9l.5 1.5l.5-1.1l.5 1l.5-.8l.5 2.3l.5-2.5l.5 .8l.5-2.3l.5 2.7l.5-1l.5 .3l.5-1.6l.5 2.1l.5-1.3l.5 .7l.5-1l.5 1.7l.5-2.1l.5 1.8l.5-1.5l.5 1.6l.5-.8l.5 .7l.5-.7l.5 3.1l.5-3.3l.5 .9l.5-1.3l.5 1.9l.5-1.5l.5 1.3l.5-1.2l.5 .6l.5-1.1l.5 1.1l.5-.8l.5 2.4l.5-2.6l.5 .9l.5-1.4l.5 3.4l.5-3.5l.5 2l.5-.9l.5 .6l.5-.7l.5 2.4l.5-2.3l.5 1.6l.5-1.8l.5 3l.5-3.3l.5 1.7l.5-2.8l.5 4.1l.5-2.9l.5 1.3l.5-1.7l.5 2l.5-1.3l.5 1.3l.5-1.5l.5 2.1l.5-1.5l.5 .2l.5-.6l.5 .7l.5-.9l.5 .9l.5-.8l.5 1.1l.5-2l.5 2.6l.5-1.9l.5 1.8l.5-1.7l.5 1.9l.5-2.5l.5 2.3l.5-1.9l.5 1.8l.5-1.1l.5 1l.5-1.3l.5 1.6l.5-1.2l.5 .5l.5-1.3l.5 2l.5-1.2l.5 .7l.5-.9l.5 1.1l.5-1.5l.5 .8l.5-1.8l.5 2.6l.5-1.6l.5 .9l.5-.5l.5 .5l.5-.4l.5 1.2l.5-1l.5 .4l.5-.9l.5 1.4l.5-2.8l.5 2.6l.5-.9l.5 .7l.5-3.1l.5 4l.5-1.6l.5 1.6l.5-3.4l.5 2.7l.5-2.6l.5 2.7l.5-1.2l.5 1.7l.5-1.3l.5 .2l.5-.9l.5 1.7l.5-2l.5 2.6l.5-3.2l.5 2.3l.5-3.8l.5 3.6l.5-1.2l.5 1.7l.5-1.2l.5 .9l.5-1l.5 1.1l.5-2.6l.5 2.8l.5-2.6l.5 2.1l.5-2l.5 2.2l.5-2.1l.5 1.8l.5-.5l.5 1.6l.5-2.1l.5 .8l.5-.8l.5 .7l.5-.6l.5 1.4l.5-1.3l.5 .8l.5-.8l.5 1.5l.5-2l.5 1l.5-.1l.5 2.5l.5-4l.5 2.6l.5-1.6l.5 1.7l.5-1.5l.5 .5l.5-.4l.5 2.3l.5-3.4l.5 1.7l.5-.9l.5 1.3l.5-.7l.5 .7l.5-.9l.5 1.2l.5-1.2l.5 2.2l.5-3.9l.5 2.5l.5-1.6l.5 1.3l.5-.8l.5 2.3l.5-3l.5 3.1l.5-2.4l.5 .7l.5-1.1l.5 2.3l.5-2.1l.5 1.5l.5-1.1l.5 2l.5-2.5l.5 1.2l.5-.5l.5 1.3l.5-1.2l.5 .6l.5-.7l.5 1.2l.5-2.1l.5 1.7l.5-3.3l.5 3.2l.3-.9" fill="none" stroke="#0000ff" stroke-width="3.8" stroke-linejoin="bevel"/>
<path d="M116.7 264.6l.5-1.1l.5 5.4l.5-4.8l.5 6.5l.5-3.1l.5 2.4l.5-1l.5 5.1l.5-3.6l.5 2l.5-3.6l.5 5.4l.5-1.2l.5 5.7l.5-8.4l.5 11l.5-6.6l.5 4.2l.5-2.2l.5 4.5l.5-2.6l.5 3.3l.5-.5l.5 4.5l.5-7.4l.5 5.1l.5-1.6l.5 4.7l.5-6.5l.5 6.6l.5-.7l.5 4.7l.5-5.5l.5 3.5l.5-2.3l.5 5.4l.5-4.2l.5 5l.5-1.8l.5 2.9l.5-3.2l.5 4.4l.5-2.5l.5 4.1l.5-2.6l.5 2.7l.5-.2l.5 6l.5-5.4l.5 2.7l.5-1.1l.5 4.2l.5-2.4l.5 1.7l.5-1.1l.5 5.7l.5-5.5l.5 4.8l.5-.4l.5 3.1l.5-2.7l.5 4.7l.5-2.1l.5 1.2l.5 0l.5 3.8l.5-4.2l.5 5.2l.5-3.8l.5 8.2l.5-4.1l.5 3.7l.5-6l.5 5.6l.5-2.3l.5 4.9l.5-1.6l.5 5l.5-7l.5 7l.5-1.5l.5 2.6l.5-6.1l.5 8.1l.5-3.6l.5 4.2l.5-.8l.5 4.2l.5-5.5l.5 5.5l.5-3.4l.5 3.3l.5-.8l.5 4.8l.5-2.1l.5 1.4l.5-2l.5 4.2l.5-.4l.5 1l.5 .3l.5 3.2l.5-3l.5 3l.5-1.6l.5 3.4l.5-1.4l.5 4.6l.5-4.8l.5 3.6l.5 .2l.5 2.2l.5-.4l.5 1.2l.5-2.1l.5 3.2l.5-1.2l.5 3.3l.5-3.3l.5 7.1l.5-2.7l.5 1.2l.5-3.6l.5 9.1l.5-3.5l.5 2.1l.5-2.4l.5 5.9l.5-2.7l.5 1.2l.5-1.8l.5 3.4l.5-1.2l.5 3.1l.5-2.6l.5 4.2l.5-5.8l.5 5.7l.5-2.4l.5 4.8l.5-3.8l.5 4.3l.5-1.5l.5 .4l.5 .2l.5 2l.5-1.7l.5 .8l.5-.8l.5 2.7l.5-2.4l.5 3l.5-2.6l.5 2l.5-.7l.5 .9l.5 0l.5 .9l.5-1.2l.5 2.4l.5-1.3l.5 2.3l.5-1.6l.5 3.7l.5-3.4l.5 5.8l.5-5.6l.5 3.9l.5-2.6l.5 1.1l.5-2l.5 4.1l.5-3.7l.5 3.2l.5-1.6l.5 3.5l.5-3.5l.5 3.7l.5-3l.5 1.8l.5-.2l.5 1.8l.5-1.1l.5 5.2l.5-7.3l.5 4.6l.5-1.8l.5 1l.5-.8l.5 2.7l.5-2.6l.5 1l.5-.8l.5 2.2l.5-2.5l.5 3l.5-3.9l.5 3.1l.5-.8l.5 1.6l.5-2.6l.5 4l.5-5.3l.5 4.7l.5-5.4l.5 4.2l.5-1.2l.5 3l.5-4.7l.5 2.8l.5-1.6l.5 2.2l.5-2.9l.5 3.6l.5-4.1l.5 3.1l.5-.5l.5 1.4l.5-1.5l.5 3.7l.5-6.6l.5 4.5l.5-1.1l.5 2.3l.5-3.1l.5 1.3l.5-.1l.5 .3l.5 0l.5 .9l.5-2.9l.5 4l.5-3.4l.5 3.2l.5-2.1l.5 3.1l.5-3.1l.5 1.6l.5-3.3l.5 4.5l.5-1.3l.5 1.9l.5-2.8l.5 1.5l.5-.3l.5 2.3l.5-2l.5 .6l.5-.3l.5 1.6l.5-2.7l.5 4.8l.5-3.1l.5 2.3l.5-2.9l.5 2.2l.5-1.2l.5 3.3l.5-3.8l.5 1.8l.5-1.5l.5 1.8l.5-1l.5 1l.5-1.7l.5 6l.5-4.6l.5 2l.5-3.3l.5 3.6l.5-1.7l.5 .4l.5-1.4l.5 3l.5-2.4l.5 3.5l.5-3.7l.5 2.9l.5-2.8l.5 2.1l.5-1.2l.5 3.6l.5-3.7l.5 1.4l.5-1.9l.5 3.6l.5-1.8l.5 1.5l.5-2.3l.5 2.3l.5-2.2l.5 5.4l.5-6.3l.5 4.4l.5-2.2l.5 .7l.5-.6l.5 3.9l.5-6.1l.5 3.7l.5-2.5l.5 2.3l.5-2l.5 3.5l.5-2.5l.5 1.4l.5-.7l.5 1.5l.5-1.7l.5 .4l.5-2.4l.5 4.2l.5-4.2l.5 2.9l.5-2l.5 2.8l.5-2.3l.5 2.2l.5-3.1l.5 2.1l.5-3l.5 3.2l.5-1.4l.5 .8l.5-2.3l.5 1.3l.5-2.1l.5 1.9l.5-1.5l.5 1.5l.5-3.8l.5 2.5l.5-.5l.5 1.9l.5-2l.5 .9l.5-.2l.5 2.2l.5-3.6l.5 2.8l.5-2.2l.5 2.4l.5-.7l.5 3.5l.5-2.8l.5 1.5l.5-.5l.5 3.1l.5-4.1l.5 3.1l.5-1.7l.5 2.9l.5-3.1l.5 3l.5-1l.5 1.1l.5-3.1l.5 4.2l.5-1.2l.5 .9l.5-1.4l.5 2.3l.5-1.7l.5 2l.5-2.9l.5 5.8l.5-3.9l.5 .8l.5-1.9l.5 6.2l.5-4.9l.5 0l.5-1.6l.5 2.1l.5-4l.5 3l.5-1.5l.5 4.6l.5-6l.5 2.4l.5-.7l.5 1l.5-1.8l.5 .4l.5-2.8l.5 2.3l.5-2.9l.5 5.3l.5-7.7l.5 4.9l.5-2.3l.5 2.5l.5-6.4l.5 2.3l.5-2.4l.5-.5l.5-2.2l.5-.4l.5-2.1l.5 5l.5-6l.5 4.7l.5-3l.5 3.8l.5-2.4l.5 2.5l.5-1.6l.5 2.4l.5-.4l.5 .5l.5-3.3l.5 3.8l.5-2.9l.5 3l.5-4.6l.5 1.8l.5-1.9l.5-.3l.5-3.3l.5 2l.5-2.1l.5 2.4l.5-3.3l.5 1.1l.5-3.5l.5 .5l.5-1.9l.5 1.7l.5-3.1l.5 3.1l.5-6.3l.5 4.2l.5-6.4l.5 4l.5-2.8l.5 2.7l.5-3.8l.5 .4l.5-1.8l.5 1.4l.5-4.3l.5 2l.5-3.3l.5 2.1l.5-2.7l.5 2.2l.5-3.4l.5 .5l.5-5.8l.5 4.1l.5-2.3l.5 3.5l.5-5.7l.5 4.1l.5-4.1l.5 1.4l.5-3.6l.5 3.8l.5-4.2l.5 2.2l.5-3.5l.5 3.6l.5-5.3l.5 4.9l.5-6.1l.5 1l.5-2.5l.5-1l.5-2.3l.5-.2l.5-4.8l.5 .5l.5-4.4l.5 .3l.5-8.4l.5 .5l.5-6.4l.5 2.3l.5-10.6l.5 4.2l.5-11.2l.5 .1l.5-7.1l.5 1.3l.5-7.9l.5-3.3l.5-7.2l.5-.4l.5-10l.5-3.3l.5-6.7l.5-4.9l.5-8.4l.5 .2l.5-7.4l.5-4.1l.5-5.4l.5-1.6l.5-8.4l.5-1.1l.5-8.5l.5-2.9l.5-4.3l.5 .6l.5-5.6l.5 3.7l.5-3l.5 4.1l.5 .2l.5 7l.5 3.1l.5 7.8l.5 2.3l.5 5.9l.5 3.1l.5 10l.5-5l.5 14l.5 3.5l.5 8.4l.5 3.8l.5 8.6l.5 5l.5 7.2l.5 4.3l.5 10.8l.5 1.3l.5 8.2l.5 3.4l.5 9l.5 1.9l.5 9.5l.5 2.1l.5 5.8l.5 2l.5 4.6l.5 .3l.5 6.2l.5-1.8l.5 5.4l.5-.5l.5 5.3l.5 1.1l.5 4.4l.5-5.2l.5 9.2l.5-2l.5 3.9l.5-.1l.5 4.4l.5 .4l.5 2.6l.5 .7l.5 2.9l.5 .1l.5 2l.5-1.1l.5 5.8l.5-1.2l.5 5.2l.5-3.8l.5 4.9l.5-4.2l.5 3.8l.5-2.1l.5 3.5l.5-1.1l.5 3l.5-.4l.5 2.2l.5-1.6l.5 2.1l.5-.2l.5 1.9l.5-2.6l.5 3.3l.5-.2l.5 3.4l.5-3.6l.5 3.4l.5-.9l.5 3.6l.5-3.3l.5 1.3l.5-2.7l.5 4.2l.5-1.6l.5 2.8l.5-2.7l.5 3.8l.5-2.3l.5 3.1l.5-1.6l.5 1.1l.5-.2l.5 1.8l.5-1.1l.5 1.5l.5-3.6l.5 3.8l.5-3.8l.5 6l.5-3.5l.5 3.2l.5-1.9l.5 3.1l.5-2.6l.5 1.2l.5-.3l.5 1.8l.5-.8l.5 .9l.5-.6l.5 1.2l.5-.6l.5 1.6l.5-1.4l.5 3.9l.5-5l.5 2.4l.5-.6l.5 2l.5-2.4l.5 4.7l.5-4.1l.5 2.2l.5-.9l.5 2.4l.5-1.6l.5 2l.5-2l.5 3.7l.5-3.1l.5 .9l.5-2.3l.5 2.4l.5-.7l.5 1.6l.5-1.8l.5 1.9l.5-1.3l.5 2.5l.5-1.7l.5 2.2l.5-1.9l.5 .6l.5-1.6l.5 2.3l.5-.7l.5 1.3l.5-2l.5 1.4l.5-1.2l.5 3.3l.5-2.8l.5 2.8l.5-2l.5 2.5l.5-2.4l.5 1.2l.5-2.3l.5 3.3l.5-1.9l.5 1.3l.5-.5l.5 2.4l.5-3.1l.5 1.7l.5-2.9l.5 3.9l.5-1.8l.5 1.2l.5-.7l.5 .7l.5-1l.5 3.3l.5-2.5l.5 .7l.5-1.8l.5 2.4l.5-3l.5 3.5l.5-2.5l.5 2.2l.5-.9l.5 .8l.5-1.2l.5 .9l.5-.7l.5 .6l.5 0l.5 1.2l.5-2.2l.5 4.2l.5-4.2l.5 1.8l.5-1.6l.5 2.2l.5-1.5l.5 .6l.5-3.5l.5 4.2l.5-1.7l.5 1.5l.5-.9l.5 1.4l.5-2.5l.5 3.6l.5-3l.5 1.4l.5-1.3l.5 2.5l.5-1.3l.5 1.9l.5-2.6l.5 2.6l.5-2.3l.5 1.8l.5-1.8l.5 2.1l.5-3.4l.5 3.7l.5-1.8l.5 1.5l.5-1.2l.5 .1l.5-.4l.5 .6l.5-.8l.5 1.7l.5-1.2l.5 1.7l.5-3l.5 1.9l.5-.8l.5 .8l.5-2.1l.5 2.6l.5-1.4l.5 2.2l.5-3l.5 1.9l.5-.7l.5 1.5l.5-3l.5 4.1l.5-3l.5 1.7l.5-1.6l.5 4.6l.5-4l.5 .5l.5-1.3l.5 1.3l.5-.8l.5 .8l.5-.3l.5 .6l.5-.9l.5 .7l.5-1.6l.5 2.4l.5-2.3l.5 1.9l.5-4.2l.5 3.3l.5-.3l.5 1.2l.5-1.9l.5 2.4l.5-3.3l.5 1.9l.5-1.1l.5 2.2l.5-2.3l.5 .9l.5-2l.5 2.1l.5-2.4l.5 2.9l.5-2.9l.5 3.1l.5-3.7l.5 2.9l.5-1.5l.5 2.2l.5-3l.5 1.7l.5-1.1l.5 1l.5-1.7l.5 2.9l.5-2.6l.5 2.1l.5-3.3l.5 3.1l.5-2.1l.5 1.4l.5-2.2l.5 2.4l.5-1.4l.5 1.2l.5-2.3l.5 1.3l.5-1.3l.5 3.6l.5-3.1l.5 1l.5-1.2l.5 1.2l.5-.3l.5 .3l.5-1l.5 2.1l.5-3.4l.5 3.5l.5-1.8l.5 3.3l.5-2.4l.5 .7l.5-1.2l.5 1.8l.5-3l.5 2.6l.5-1l.5 1.6l.5-.9l.5 2.4l.5-1.9l.5 .5l.5-.5l.5 1l.5-.9l.5 1l.5-1.4l.5 1.9l.5-1.3l.5 1.6l.5-.6l.5 .7l.5-2.9l.5 4.9l.5-2.8l.5 3.3l.5-5.1l.5 4.2l.5-1.7l.5 1.1l.5-1.3l.5 1.8l.5-.9l.5 1.7l.5-2.2l.5 1.3l.5-1.4l.5 1.6l.5-1.1l.5 1.1l.5-2.1l.5 2.6l.5-.9l.5 .8l.5-.5l.5 .5l.5-.7l.5 .4l.5-.6l.5 .9l.5-.8l.5 1.3l.5-2.3l.5 3.9l.5-2.5l.5 2.2l.5-2.8l.5 1.6l.5-1.2l.5 2l.5-2.7l.5 1.7l.5-1.3l.5 1l.5-.7l.5 1.2l.5-.7l.5 1.2l.5-1.1l.5 .2l.5-.7l.5 1.7l.5-3l.5 3.4l.5-1.7l.5 2.7l.5-2.9l.5 1.3l.5-2.1l.5 2.2l.5-1.3l.5 .6l.5-.2l.5 1.9l.5-4.3l.5 4.2l.5-2.5l.5 1.9l.5-2.8l.5 2.5l.5-1.7l.5 1.5l.5-1.2l.5 2.2l.5-2l.5 .7l.5-2.2l.5 2.6l.5-1.4l.5 2.2l.5-1.8l.5 .7l.5-1.3l.5 2.1l.5-1.1l.5 1.5l.5-2.4l.5 1.2l.5-1.4l.5 2.7l.5-1.6l.5 .6l.5-1.3l.5 2.4l.5-3.6l.5 4.3l.5-2.2l.5 1.6l.5-2.6l.5 2.3l.5-1.8l.5 2.1l.5-2.2l.5 2l.5-3.1l.5 3.8l.5-1.9l.5 1.3l.5-1.8l.5 1l.5-.9l.5 2l.5-1.7l.5 1.6l.5-1.4l.5 .6l.5-1l.5 1.4l.5-1.4l.5 .5l.5-.5l.5 2.8l.5-4.1l.5 2.4l.5-1.2l.5 1.9l.5-4l.5 4.2l.5-2l.5 2.9l.5-2.4l.5 2.7l.5-3.1l.5 1l.5-.7l.5 1.2l.5-2.4l.5 2.5l.5-1.2l.5 .5l.5-1.1l.5 2.7l.5-2.6l.5 1.6l.5-1.4l.5 2l.5-3.9l.5 3.2l.5-2.1l.5 1.8l.5-2.4l.5 3.4l.5-4l.5 2.8l.5-.9l.5 .9l.5-1.1l.5 1.8l.5-3.3l.5 3.5l.5-3.3l.5 3l.5-1.3l.5 1.9l.5-2l.5 2.3l.5-1.6l.5 1.1l.5-1.9l.5 .9l.5-1.3l.5 1.8l.5-3l.5 3.1l.5-1.3l.5 1.1l.5-1.3l.5 1.3l.5-.5l.5 .9l.5-1.6l.5 .9l.5-.4l.5 1.3l.5-1.5l.5 3.6l.5-3.8l.5 1.5l.5-3.5l.5 4.5l.5-1.6l.5 .5l.5-2.3l.5 2.2l.5-.3l.5 1.8l.5-4.5l.5 2.9l.5-1.8l.5 2.5l.5-1.1l.5 1l.5-.9l.5 2.1l.5-2.4l.5 2.5l.5-1.8l.5 1.4l.5-2.8l.5 2.3l.5-.9l.5 1.1l.5-3.4l.5 2.9l.5-.5l.5 .6l.5-1.4l.5 2.7l.5-1.9l.5 1.8l.5-2.1l.5 1.2l.5 0l.5 1.4l.5-2.9l.5 2.4l.5-2.3l.5 1.9l.5-1.3l.5 2.4l.5-1.9l.5 1.6l.5-2.3l.5 2.1l.5-1.5l.5 2.4l.5-3.3l.5 1.3l.5-1.6l.5 1.1l.5-2.6l.5 2l.5-1.4l.5 2.2l.5-1.5l.5 .3l.5-.6l.5 1l.5-2.9l.5 2.7l.5-2.8l.5 2.2l.5-.7l.5 .4l.5-.5l.5 1l.5-2.9l.5 3.4l.5-2.7l.5 3l.5-2.7l.5 3.2l.5-.9l.5 4.9l.5-5.2l.5 2.7l.5-2.7l.5 3.8l.5-3.3l.5 1.6l.5 0l.5 2.1l.5-2.9l.5 2.3l.5-1.4l.5 1.8l.5-1.1l.5 1.2l.5-2l.5 2l.5-2.7l.5 2.6l.5-.6l.5 1l.5-2.1l.5 2.3l.5-.8l.5 1.6l.5-2.1l.5 1.1l.5-.7l.5 .8l.5-1.2l.5 1.1l.5-2.4l.5 3.8l.5-2.7l.5 3.4l.5-2.5l.5 4.1l.5-5l.5 1.9l.5-1.6l.5 2.7l.5-1.7l.5 .6l.5-.4l.5 2.4l.5-4.7l.5 3.3l.5-.9l.5 .6l.5-.5l.5 .8l.5-1.2l.5 1.4l.5-1.1l.5 1.1l.5-1.5l.5 2.8l.5-2.7l.5 .9l.5-1.4l.5 1.7l.5-1l.5 1.7l.5-2l.5 2.2l.5-2.1l.5 1.3l.5-1.8l.5 1.6l.5-.2l.5 .9l.5-1.8l.5 1.2l.5-1.3l.5 1.3l.5-2.5l.5 2.4l.5-1.5l.5 1.7l.5-.8l.5 2l.5-2l.5 1.2l.5-.9l.5 .8l.5-2.9l.5 3.2l.5-2.2l.5 2.3l.5-2l.5 1.3l.5-1.1l.5 1.8l.5-1.6l.5 1.4l.5-2.1l.5 3l.5-3.4l.5 3.4l.5-2.1l.5 1.4l.5-1.1l.5 .4l.5-2.7l.5 3.7l.5-2.6l.5 2.8l.5-4.2l.5 2.8l.5-.8l.5 1.4l.5-2.2l.5 2.8l.5-2.1l.5 1l.5-1.2l.5 1.1l.5-1.4l.5 1.8l.5-2.1l.5 1.6l.5-.1l.5 1.6l.5-2.7l.5 2.2l.5-1.9l.5 1l.5-1.4l.5 1.9l.5-1.2l.5 1l.5-.6l.5 .6l.5-1.4l.5 1.2l.5-1.9l.5 2.4l.5-1.3l.5 1.5l.5-2.6l.5 2.8l.5-1.4l.5 1.4l.5-2.1l.5 1.2l.5-1.2l.5 .9l.5-1.6l.5 1.7l.5-1l.5 3.6l.5-4.3l.5 2.8l.5-2.6l.5 2.2l.5-1.1l.5 1.6l.5-2.2l.5 2.6l.5-3.8l.5 2.6l.5-1l.5 .5l.5-1.2l.5 2.9l.5-2.7l.5 1.9l.5-1.6l.5 .8l.5-2.1l.5 3.4l.5-1.9l.5 2.5l.5-3.1l.5 1.7l.5-2.9l.5 3.8l.5-3.1l.5 3.1l.5-3.6l.5 3.3l.5-1.5l.5 1.5l.5-2.1l.5 2l.5-1.4l.5 .2l.5-1l.5 2.1l.5-3.2l.5 2.3l.5-.8l.5 2l.5-1.8l.5 .4l.5-.5l.5 1.5l.5-1.7l.5 2l.5-1.6l.5 .8l.5-1.1l.5 1.4l.5-.9l.5 1.6l.5-2.6l.5 2.3l.5-1.5l.5 1.7l.5-2.4l.5 1.9l.5-2.8l.5 2.4l.5-2.2l.5 2.6l.5-1.2l.5 2.1l.5-1.6l.5 .6l.5-.4l.5 .6l.5-1.1l.5 .9l.5-.9l.5 1.1l.5-1.2l.5 1.4l.5-1l.5 .7l.5-.3l.5 .3l.5-.5l.5 1.5l.5-1.2l.5 .8l.5-1.4l.5 1.6l.5-1.5l.5 1.3l.5-1.7l.5 1.6l.5-.7l.5 .7l.5-.7l.5 .5l.5-2.7l.5 2.7l.5-1.4l.5 1.4l.5-.8l.5 1l.5-.8l.5 .7l.5-.6l.5 1.5l.5-1.6l.5 1.2l.5-2.1l.5 1.8l.5-1l.5 1.8l.5-.8l.5 .1l.5-1.4l.5 1.5l.5-.3l.5 3.1l.5-2.9l.5 .5l.5-.5l.5 .6l.5-1.5l.5 2.1l.5-1.1l.5 1.4l.5-1.6l.5 1.9l.5-2.2l.5 1.5l.5-2.3l.5 2.1l.5-1.3l.5 1.4l.5-.3l.5 .3l.5-1.9l.5 2.1l.5-.5l.5 2.5l.5-2.8l.5 1.2l.5-.7l.5 1l.5-.8l.5 .3l.5-1.5l.5 2l.5-1l.5 1.6l.5-1.4l.5 2.4l.5-3.2l.5 1.8l.5-1.1l.5 2.2l.5-2.5l.5 2.4l.5-1.5l.5 1.5l.5-1.5l.5 1l.5-2l.5 1.9l.5-.6l.5 1.3l.5-2.5l.5 1.7l.5-.4l.5 .9l.5-.7l.5 .8l.5-.7l.5 0l.5-.5l.5 2.2l.5-3.4l.5 2.1l.5-1.1l.5 1.2l.5-1.9l.5 1.9l.5-.6l.5 .5l.5-1.9l.5 3.7l.5-2.5l.5 .9l.5-1.4l.5 2.3l.5-2.4l.5 1.9l.5-.9l.5 1.9l.5-2.8l.5 2.8l.5-3l.5 2.2l.5-1.7l.5 1.8l.5-1.4l.5 1.3l.5-2.4l.5 1.8l.5-1l.5 1.4l.5-1.7l.5 1l.5-.3l.5 .1l.5-.4l.5 .7l.5-.9l.5 1l.5-1.7l.5 2.2l.5-2.5l.5 2.6l.5-2.2l.5 2.5l.5-3.6l.5 1.8l.5-1.1l.5 1.2l.5-1.3l.5 1.4l.5-.6l.5 .2l.5-1.8l.5 1.9l.5-2.2l.5 4l.5-2.6l.5 .7l.5-2.3l.5 2.4l.5-1.2l.5 1.7l.5-2.3l.5 1.5l.5-.8l.5 .6l.5-2.2l.5 1.7l.5-2.5l.5 3.3l.5-1.6l.5 1l.5-1.1l.5 1.6l.5-1.8l.5 1.9l.5-1.5l.5 .9l.5-.8l.5 1l.5-2.2l.5 2.8l.5-3.1l.5 3.1l.5-3.7l.5 2.1l.5-.7l.5 1.1l.5-.8l.5 1.4l.5-1.2l.5 1.9l.5-2.4l.5 2.1l.5-2.6l.5 2.6l.5-3.5l.5 2.9l.5-1.8l.5 1.1l.5-.7l.5 1.5l.5-1.1l.5 .3l.5-.3l.5 .2l.5-2l.5 2.7l.5-1.5l.5 1.2l.5-.7l.5 .8l.5-.5l.5 .6l.5-.6l.5 1.5l.5-1.3l.5 1l.5-1.5l.5 1.6l.5-1.5l.5 2.1l.5-2.3l.5 1.2l.5-.3l.5 .4l.5-.6l.5 1.2l.5-2.1l.5 1.9l.5-.2l.5 .8l.5-.7l.5 1.3l.5-1.4l.5 1.2l.5-1.3l.5 1.7l.5-1.8l.5 1.6l.5-1l.5 .5l.5-1.4l.5 2.4l.5-1.5l.5 1.2l.5-1.9l.5 2.7l.5-1.5l.5 2.4l.5-3.7l.5 3.2l.5-1.4l.5 2.2l.5-3.4l.5 2.4l.5-3.1l.5 2.9l.5-1.4l.5 1.4l.5-1l.5 1.5l.5-2.7l.5 4l.5-3.4l.5 1.8l.5-1.5l.5 1.9l.5-.3l.5 .6l.5-1.1l.5 2.1l.5-1.9l.5 1l.5-.7l.5 .8l.5-2.4l.5 2.4l.5-1.3l.5 1.2l.5-1.2l.5 1.4l.5-1.5l.5 1.6l.5-.5l.5 .8l.5-.6l.5 .6l.5-1.1l.5 .9l.5-1.4l.5 2.6l.5-2l.5 1.2l.5-1.4l.5 1.2l.5-.5l.5 2.2l.5-2.6l.5 1.1l.5-2l.5 3.8l.5-2.7l.5 .7l.5-1l.5 1.1l.5-.3l.5 .3l.5-.7l.5 1.3l.5-1.1l.5 1.3l.5-1l.5 .7l.5-2.2l.5 3.3l.5-2.7l.5 1.4l.5-1.4l.5 3.1l.5-2.4l.5 1.6l.5-1.4l.5 .7l.5-.6l.5 .3l.5-.7l.5 .9l.5-.8l.5 1.5l.5-1.2l.5 1.1l.5-2.3l.5 2l.5-1.1l.5 1.1l.5-1.2l.5 1.5l.5-2.2l.5 1.8l.5-1.4l.5 1.4l.5-2.4l.5 2.9l.5-1.5l.5 1.1l.5-.3l.5 .1l.5-1.8l.5 2.7l.5-1l.5 1.8l.5-1.8l.5 .2l.5-.8l.5 1.8l.5-1.2l.5 .4l.5-.9l.5 1.7l.5-1.1l.5 .8l.5-1.3l.5 1.5l.5-1l.5 .8l.5-2.2l.5 2.1l.5-1.1l.5 1.7l.5-1.4l.5 1.3l.5-1.4l.5 2.3l.5-2.3l.5 .8l.5-.4l.5 1.5l.5-1.9l.5 2.2l.5-1.8l.5 1.4l.5-1.7l.5 .6l.5-1.8l.5 2.1l.5-.4l.5 2.1l.5-2.3l.5 .8l.5-1.2l.5 2.1l.5-1.8l.5 1.6l.5-1.5l.5 1.3l.5-1.3l.5 .4l.5-.2l.5 .6l.5-.5l.5 .4l.5-1.3l.5 2.8l.5-2.9l.5 1.4l.5-1.6l.5 2.8l.5-3.6l.5 2.8l.5-1.2l.5 .9l.5-.8l.5 1l.5-1.3l.5 2.1l.5-1.5l.5 1.6l.5-2.6l.5 2.7l.5-1.7l.5 1.3l.5-1.4l.5 .4l.5-.6l.5 1.4l.5-1.7l.5 1.8l.5-2.7l.5 3l.5-2l.5 2.3l.5-2.2l.5 1.5l.5-1.5l.5 1.5l.5-.9l.5 .7l.5-1.4l.5 1.4l.5-1.3l.5 1.5l.5-1.1l.5 .7l.5-1.1l.5 1l.5-1.2l.5 1.1l.5-.7l.5 1.1l.5-.7l.5 1.6l.5-2.1l.5 2l.5-1.9l.5 .7l.5-.3l.5 1.5l.5-1.7l.5 1.5l.5-1.7l.5 1.4l.5-1.4l.5 1.1l.5-.5l.5 .2l.5-1.5l.5 3l.5-2l.5 1l.5-1.1l.5 .8l.5-1.1l.5 1l.5-.9l.5 1.9l.5-1.6l.5 1.7l.5-1.4l.5 1.7l.5-2.4l.5 2.7l.5-2l.5 .1l.5-1.1l.5 1.3l.5-.7l.5 .6l.5-.4l.5 .9l.5-1l.5 1l.5-.6l.5 .2l.5-.3l.5 .5l.5-1.5l.5 1.7l.5-2.8l.5 3.4l.5-2.8l.5 1.9l.5-3l.5 3.1l.5-.8l.5 .8l.5-.6l.5 .4l.5-1.1l.5 1l.5-.1l.5 .9l.5-1.3l.5 .8l.5-.5l.5 .8l.5-1.8l.5 1.4l.5-2.7l.5 3.9l.5-2.3l.5 1.1l.5-1l.5 1.8l.5-1.7l.5 .8l.5-1.4l.5 1.5l.5-1.1l.5 1.3l.5-2.1l.5 3l.5-1.4l.5 .9l.5-2.3l.5 2.5l.5-1.3l.5 .4l.5-.3l.5 .2l.5-.7l.5 1.1l.5-1.8l.5 2.6l.5-2.3l.5 1.3l.5-1.1l.5 1.8l.5-2.2l.5 2l.5-1.4l.5 .9l.5-2.3l.5 2.6l.5-2.4l.5 2.2l.5-1l.5 1.1l.5-1.2l.5 1.3l.5-1.4l.5 2.7l.5-2.4l.5 .9l.5-.5l.5 .6l.5-.9l.5 2.3l.5-2.5l.5 1.3l.5-2.1l.5 1.6l.5-.9l.5 1.3l.5-1.4l.5 2.3l.5-1.9l.5 1.2l.5-2.4l.5 3l.5-3.5l.5 3.1l.5-1.7l.5 .9l.5-.2l.5 1.4l.5-3.3l.5 3.6l.5-2.4l.5 .8l.5-2.2l.5 2.3l.5-.8l.5 1.1l.5-1.5l.5 1.9l.5-1.7l.5 1.3l.5-.6l.5 1.1l.5-2.7l.5 2.3l.5-1.3l.5 1.3l.5-.6l.5 .6l.5-1.3l.5 1.4l.5-1.5l.5 2.2l.5-1.7l.5 .9l.5-.7l.5 .4l.5-1.8l.5 1.8l.5-1.3l.5 1.5l.5-.7l.5 .7l.5-1l.5 1.6l.5-2l.5 1.7l.5-1.2l.5 2.1l.5-1.7l.5 2l.5-3.1l.5 1.4l.5-.9l.5 .7l.5-1.1l.5 1.2l.5-2.4l.5 2.5l.5-.6l.5 .4l.5-2l.5 3l.5-1.8l.5 2l.5-1.8l.5 .5l.5-1.2l.5 2.1l.5-1.1l.5 1.5l.5-2l.5 .7l.5-.8l.5 2.9l.5-2.7l.5 1.6l.5-1.3l.5 1.2l.5-1.1l.5 .9l.5-3.3l.5 3.6l.5-1.4l.5 1.6l.5-2l.5 1.6l.5-1l.5 1.7l.5-2.7l.5 2.8l.5-2.3l.5 1.7l.5-2.1l.5 2.3l.5-2.3l.5 1.7l.5-2.1l.5 3.3l.5-2.5l.5 1l.5-1.1l.5 1.6l.5-2l.5 2.2l.5-1.8l.5 2.1l.5-2.7l.5 1.8l.5-1.2l.5 2l.5-1.3l.5 .8l.5-1.9l.5 1.7l.5-2.4l.5 2.3l.5-2l.5 2.1l.5-1.8l.5 2.5l.5-2l.5 1.1l.5-2.1l.5 2.9l.5-1.6l.5 2.7l.5-2.7l.5 2.5l.5-2.3l.5 .9l.5-.6l.5 2.2l.5-3.3l.5 2.5l.5-2.6l.5 1.3l.5-1.3l.5 2.1l.5-1.6l.5 3.3l.5-3.3l.5 1.2l.5-1l.5 2.1l.5-2.2l.5 1.6l.5-2.6l.5 1.9l.5-2.1l.5 2.4l.5-1.7l.5 1.4l.5-.3l.5 .6l.5-1.6l.5 1.7l.5-3.3l.5 2.9l.5-2.1l.5 2l.5-1.2l.5 1.1l.5-.2l.5 .4l.5-.8l.5 1l.5-1.5l.5 1.1l.5-1.7l.5 2.5l.5-1l.5 .5l.5-1.8l.5 1.8l.5-1.3l.5 1.3l.5-1.4l.5 1.9l.5-1.7l.5 .9l.5-2.9l.5 3l.5-1.3l.5 1.3l.5-.9l.5 1.7l.5-2l.5 1.6l.5-.7l.5 .8l.5-1.1l.5 1.7l.5-1.3l.5 .1l.5-1l.5 1l.5-1.3l.5 2.2l.5-2.5l.5 2.9l.5-1.6l.5 .3l.5-1.1l.5 2.2l.5-1.7l.5 1.1l.5-2.2l.5 1.8l.5-1.6l.5 2.5l.5-1.4l.5 1.7l.5-1.6l.5 .4l.5-1.2l.5 1.4l.5-.4l.5 .9l.5-1.7l.5 1.5l.5-2l.5 2.1l.5-1.2l.5 .7l.5-.6l.5 2.8l.5-2.5l.5 .6l.5-1.8l.5 1.7l.5-.8l.5 1l.5-1.1l.5 1.2l.5-1.4l.5 1.8l.5-1.4l.5 .8l.5-1l.5 1.9l.5-2l.5 1.9l.5-2.1l.5 1.3l.5-1l.5 .8l.5-1.3l.5 2.4l.5-2.3l.5 1.1l.5-.2l.5 .8l.5-2.1l.5 1.8l.5-1.3l.5 1.2l.5-.2l.5 .9l.5-2.4l.5 3.1l.5-3.1l.5 2.8l.5-2.7l.5 1.8l.5-1.2l.5 1.5l.5-1l.5 1l.5-.8l.5 2.2l.5-3.1l.5 2.2l.5-1.1l.5 1.1l.5-2.4l.5 1.5l.5-.6l.5 .9l.5-1.1l.5 2.5l.5-3.2l.5 1.9l.5-2.4l.5 2.3l.5-1.2l.5 1.9l.5-2.6l.5 1.7l.5-.5l.5 1.4l.5-1.5l.5 1l.5-.8l.5 1l.5-.7l.5 1.3l.5-2.2l.5 1.2l.5-2.7l.5 2.6l.5-.5l.5 1.1l.5-1.3l.5 1.8l.5-1.6l.5 2.3l.5-2.7l.5 2.7l.5-2.2l.5 1.1l.5-2.6l.5 3.1l.5-2.8l.5 2.8l.5-1.6l.5 .9l.5-2l.5 3.2l.5-1.8l.5 2.3l.5-2.3l.5 .5l.5-.7l.5 .8l.5-1.4l.5 1.8l.5-2.6l.5 2.5l.5-.9l.5 .4l.5-.7l.5 .9l.5-1.6l.5 1.5l.5-2l.5 4.1l.5-2.2l.5 1.6l.5-1.7l.5 .2l.5-.6l.5 .8l.5-1.1l.5 1.1l.5-.4l.5 .7l.5-1.1l.5 .9l.5-3.1l.5 3.9l.5-1.1l.5 .6l.5-.8l.5 1.2l.5-.9l.5 .2l.5-.1l.5 .6l.5-1.5l.5 1.4l.5-1l.5 .6l.5-1.3l.5 1.4l.5-.6l.5 1.6l.5-1.8l.5 .9l.5-1.3l.5 1.9l.5-1.8l.5 1.9l.5-4.4l.5 5.6l.5-2.9l.5 2l.5-1.4l.5 .9l.5-1.8l.5 2.3l.5-1.1l.5 .7l.5-1.5l.5 1l.5-.8l.5 1.1l.5-1l.5 .9l.5-.7l.5 1l.5-.5l.5 .3l.5-2.2l.5 3l.5-1.2l.5 .4l.5-.4l.5 .7l.5-.8l.5 .8l.5-1.9l.5 1.8l.5-.6l.5 1.8l.3-2.6" fill="none" stroke="#ff8000" stroke-width="3.8" stroke-linejoin="bevel"/>
<path d="M116.7 124l.5-4.2l.5 4.8l.5-.6l.5 4.7l.5-2.1l.5 2.6l.5-2.3l.5 4.6l.5-4.9l.5 5.6l.5-2.8l.5 6.2l.5-5.4l.5 5.2l.5-3.9l.5 5.3l.5-2.3l.5 5.1l.5-1.9l.5 3.6l.5-2.4l.5 2.2l.5-.9l.5 3.1l.5-2.4l.5 6.6l.5-4l.5 3.6l.5-2.3l.5 4.2l.5-2.7l.5 .7l.5-.3l.5 3.9l.5-3l.5 4.2l.5-5.4l.5 4.4l.5-2.7l.5 6.2l.5-4l.5 7.2l.5-4.9l.5 4l.5-2.1l.5 .8l.5-4.3l.5 6.1l.5-.5l.5 3.6l.5-4.5l.5 5.3l.5-3.7l.5 4.1l.5-2l.5 6.1l.5-4.1l.5 7.8l.5-6.5l.5 4.2l.5-3.2l.5 4.1l.5-.9l.5 4l.5-3.3l.5 2.1l.5 .2l.5 2.2l.5-1.4l.5 1.9l.5-.2l.5 1.6l.5-1.4l.5 4.7l.5-4.2l.5 6.4l.5-4.8l.5 5.8l.5-2.1l.5 3.7l.5-3.9l.5 4.2l.5-2.4l.5 5.8l.5-3.3l.5 4.7l.5-2.5l.5 1.5l.5-.2l.5 1.8l.5-2.2l.5 4.7l.5-3l.5 7.3l.5-3.5l.5 1.9l.5-.5l.5 2.3l.5-1.2l.5 3.3l.5-1.8l.5 2.2l.5-.4l.5 1.8l.5-3.3l.5 5.6l.5-3.3l.5 7.4l.5-3.4l.5 3.4l.5-2.9l.5 2.6l.5-.5l.5 3.3l.5-2.4l.5 2.8l.5-1.3l.5 3.6l.5-.6l.5 5.4l.5-5l.5 3.7l.5-.1l.5 3.5l.5-3l.5 2.9l.5 .1l.5 2.7l.5-.2l.5 2.3l.5-1l.5 2.9l.5-1.7l.5 2.5l.5-3.5l.5 5l.5-.7l.5 2l.5-2.5l.5 2.7l.5-1.7l.5 2.9l.5-3.6l.5 3.1l.5-2.3l.5 6.3l.5-5.1l.5 4l.5-4l.5 2.7l.5-3.1l.5 4.2l.5-1.5l.5 3.9l.5-4l.5 2.1l.5-.8l.5 1.4l.5-2l.5 2.1l.5-2l.5 3.2l.5-2.4l.5 3.8l.5-1.9l.5 1.7l.5-2l.5 4.3l.5-5.9l.5 5.3l.5-2.9l.5 3.7l.5-3.5l.5 6.8l.5-4.6l.5 2l.5-1.4l.5 1.7l.5-.2l.5 .9l.5-2.8l.5 7.1l.5-4.2l.5 2.8l.5-5.7l.5 6.4l.5-2.3l.5 1.2l.5-.7l.5 2.7l.5-2.2l.5 2.2l.5-2.1l.5 1.3l.5-3.4l.5 3.2l.5-2.1l.5 4l.5-4l.5 3.4l.5-4.3l.5 4.5l.5-.9l.5 2.1l.5-3.6l.5 2.8l.5-2.3l.5 2.5l.5-1.4l.5 3.3l.5-5.7l.5 4.3l.5-1.9l.5 2.5l.5-2.1l.5 .5l.5-1.5l.5 1.5l.5-.1l.5 4.7l.5-4.8l.5 2.4l.5-4.1l.5 2.5l.5-2.1l.5 5.5l.5-3.7l.5 1.7l.5-5.2l.5 5.8l.5-3.5l.5 2.2l.5-2.1l.5 2.5l.5-1.4l.5 2.1l.5-1.8l.5 1.3l.5-1.4l.5 1.3l.5-2.1l.5 2.8l.5-1.5l.5 1.4l.5-2.2l.5 3.4l.5-2.1l.5 1.3l.5-1.5l.5 4.2l.5-2.6l.5 .8l.5-1l.5 1.3l.5-.9l.5 1.1l.5-1.9l.5 3.1l.5-3.4l.5 3.5l.5-1.7l.5 .7l.5-.7l.5 1.4l.5-1.2l.5 2.8l.5-3l.5 4.2l.5-4.6l.5 2l.5-1l.5 3.3l.5-4.7l.5 4l.5-1.3l.5 .9l.5-.6l.5 .5l.5-.6l.5 2.3l.5-3.6l.5 2.1l.5-.1l.5 .4l.5-3.7l.5 4.6l.5-1.2l.5 1l.5-.4l.5 1.7l.5-2.7l.5 2.5l.5-2.4l.5 2.9l.5-1.5l.5 1.5l.5-2l.5 3.4l.5-3.9l.5 3.4l.5-3.5l.5 2.1l.5-1.1l.5 2.1l.5-1.6l.5 2.1l.5-1.6l.5 1.9l.5-4.7l.5 3.6l.5-2l.5 3.4l.5-3.7l.5 3.1l.5-2l.5 3.1l.5-2.8l.5 4.8l.5-6.1l.5 5l.5-4.9l.5 2.2l.5-1.9l.5 3.1l.5-3.9l.5 .5l.5-2.4l.5 1.6l.5-1.6l.5 1.9l.5-2.5l.5 1l.5-.8l.5 1.8l.5-3.5l.5 2.7l.5-2.6l.5 3.7l.5-1l.5 4.5l.5-3l.5 3.9l.5-2.8l.5 2.7l.5-.8l.5 3.1l.5-2.9l.5 2.8l.5-4.3l.5 3.1l.5-.3l.5 1.3l.5-2.4l.5 2.4l.5-1.3l.5 1.4l.5-.6l.5 .8l.5-1.1l.5 1.5l.5-1.3l.5 1.7l.5-1.9l.5 1.7l.5-.9l.5 .4l.5-3.8l.5 7.9l.5-4.5l.5 1l.5-2.5l.5 3.2l.5-1.4l.5 .4l.5-2.2l.5 3.5l.5-2.2l.5 1.7l.5-1.1l.5 .7l.5-1.8l.5 2l.5-1.4l.5 1.8l.5-2l.5 3l.5-3.2l.5 2.2l.5-3.2l.5 2.2l.5-2.6l.5 1.8l.5-3.4l.5 1.5l.5-5.3l.5-.6l.5-2.9l.5 .2l.5-3.4l.5 3.7l.5-3.3l.5 3.7l.5-4.5l.5 5.7l.5-1.1l.5 2.9l.5-.4l.5 1.5l.5-1.4l.5 2.4l.5-3.4l.5 1.2l.5-1.9l.5 0l.5-3.2l.5 2.9l.5-4.2l.5 0l.5-4.2l.5 1.9l.5-3.8l.5 2.1l.5-4.1l.5 .4l.5-2.4l.5 2l.5-6.5l.5 1.4l.5-2.8l.5 1.4l.5-3.6l.5 1l.5-6.6l.5 2.1l.5-3.1l.5 1.5l.5-3.8l.5 1.3l.5-3.5l.5 2.8l.5-1.6l.5 4.1l.5-5.5l.5 3.9l.5-4.8l.5 3.4l.5-2.9l.5 3.2l.5-1.9l.5 1.6l.5-3.6l.5 2.4l.5-2.6l.5 2.7l.5-1.6l.5 2.1l.5-1.4l.5 3.4l.5-5.4l.5 2.9l.5-3.3l.5 2.6l.5-4.4l.5 3.2l.5-1.5l.5-.3l.5-5.4l.5 3.1l.5-4.1l.5-.3l.5-5.6l.5 2.8l.5-6.9l.5 2.6l.5-4.9l.5 0l.5-5.2l.5-1l.5-5.8l.5-.5l.5-6.1l.5-1.6l.5-5.5l.5-2.3l.5-6.5l.5-1.7l.5-6.5l.5-.6l.5-12.2l.5 1.5l.5-11.9l.5-3l.5-14l.5 .1l.5-10.1l.5-1.6l.5-9.4l.5-2.4l.5-10.2l.5-1.2l.5-8.2l.5-4l.5-12.2l.5 4.3l.5-2.6l.5 .8l.5 .1l.5 4.1l.5-.3l.5 7.5l.5 2.9l.5 7.8l.5 2.2l.5 9.2l.5-2.5l.5 12.3l.5-3l.5 14.3l.5 .2l.5 6.7l.5 3.9l.5 10.3l.5-1.3l.5 11.2l.5 4.5l.5 10.8l.5-2.3l.5 9.4l.5 3.2l.5 5.6l.5 1.8l.5 10.4l.5-.7l.5 9.8l.5-.9l.5 7.9l.5 .8l.5 7.1l.5 3.7l.5 8l.5-3l.5 8.9l.5 1.8l.5 4.7l.5 2l.5 6.4l.5-1.3l.5 4.3l.5-2.6l.5 4.5l.5 1.2l.5 3.6l.5-2.2l.5 6l.5-2.4l.5 2.6l.5 .6l.5 2.1l.5-3.7l.5 5.4l.5-.6l.5 4l.5-2.5l.5 6.9l.5-5.9l.5 3.4l.5 0l.5 1.2l.5-.6l.5 1.7l.5 .1l.5 1.4l.5 .3l.5 .8l.5-1.8l.5 4.8l.5-1.9l.5 1.8l.5-2l.5 5.4l.5-3.7l.5 2.6l.5-2l.5 2.1l.5-1.8l.5 1.9l.5 .3l.5 1.5l.5-2.1l.5 2.9l.5-2.1l.5 1.7l.5 0l.5 .7l.5-1l.5 2.9l.5-1.7l.5 2.2l.5-1.7l.5 3.4l.5-3.5l.5 1.6l.5-.7l.5 1.7l.5-2.1l.5 2.5l.5-.6l.5 1.4l.5-2l.5 3.4l.5-3.7l.5 3.3l.5-1.1l.5 .8l.5-3.3l.5 5l.5-1.7l.5 .8l.5-2.8l.5 4.1l.5-1.8l.5 1.5l.5-.2l.5 1.6l.5-3.6l.5 4.1l.5-2.7l.5 2.1l.5-.6l.5 1.7l.5-2.6l.5 4.6l.5-3.2l.5 2.7l.5-3.5l.5 4.9l.5-3.3l.5 1.8l.5-4.5l.5 4.2l.5-2.4l.5 3.4l.5-3.1l.5 3.5l.5-1.6l.5 2.6l.5-2.2l.5 1.4l.5-2.3l.5 2.7l.5-1.8l.5 1.6l.5-2.1l.5 2.9l.5-.6l.5 .3l.5-.9l.5 2.2l.5-2.7l.5 2l.5-2.2l.5 3.1l.5-1.7l.5 1.8l.5-3.2l.5 3.6l.5-2.8l.5 2.1l.5-1l.5 1.8l.5-.7l.5 .3l.5-.4l.5 1.4l.5-1.6l.5 2.8l.5-2.5l.5 1.4l.5-2l.5 3.3l.5-2.4l.5 1.3l.5-.6l.5 .6l.5-1.3l.5 1.5l.5-1.7l.5 3.6l.5-4.5l.5 3.4l.5-2.9l.5 2.7l.5-1.3l.5 1.9l.5-1.2l.5 1l.5-.7l.5 .8l.5-2.2l.5 3.1l.5-2.5l.5 3.3l.5-2.7l.5 1.2l.5-1l.5 2l.5-3.1l.5 2.8l.5-2.3l.5 1.5l.5-.6l.5 .5l.5-.8l.5 1.5l.5-2l.5 2.8l.5-1.4l.5 1.7l.5-2.2l.5 1.1l.5-.6l.5 2.4l.5-3l.5 2.2l.5-2.3l.5 2.9l.5-1.9l.5 1.3l.5-1.1l.5 1.3l.5-1.5l.5 2.4l.5-2.4l.5 1.8l.5-1.6l.5 .9l.5-.8l.5 1.6l.5-3.7l.5 2.9l.5-.8l.5 .6l.5-.3l.5 .6l.5-.6l.5 .3l.5-1.4l.5 2.1l.5-1.1l.5 1.4l.5-1.7l.5 1.1l.5-2.6l.5 2.9l.5-.9l.5 1l.5-1.2l.5 1.5l.5-1.8l.5 1.6l.5-3.4l.5 2.7l.5-1.5l.5 1.5l.5-.6l.5 1.3l.5-2.3l.5 1.9l.5-1.4l.5 1.7l.5-2.2l.5 .6l.5-.7l.5 1l.5-2.2l.5 4.6l.5-4.5l.5 2.7l.5-2.4l.5 1.8l.5-2.4l.5 1.4l.5-.9l.5 .1l.5-2.3l.5 2.5l.5-1l.5 1.9l.5-3l.5 3l.5-3.7l.5 2.1l.5-1.5l.5 1.6l.5-2.2l.5 1.5l.5-.7l.5 1.1l.5-1.7l.5 .6l.5-1l.5 1.2l.5-4.8l.5 5l.5-2.5l.5 2.4l.5-2.7l.5 2.4l.5-2.2l.5 2.8l.5-.6l.5 .7l.5-.3l.5 2.3l.5-2.1l.5 4.6l.5-2.7l.5 1.5l.5-.9l.5 1.8l.5-1.3l.5 1l.5-1.9l.5 2l.5-1.5l.5 2l.5-3.5l.5 1.8l.5-2.2l.5 .1l.5-.7l.5-.2l.5-1.7l.5 1.2l.5-1.2l.5 3.1l.5-2.2l.5 3l.5-1.2l.5 1.6l.5-.9l.5 2.6l.5 .4l.5 3.2l.5-2.4l.5 2.8l.5-2.6l.5 1l.5-.7l.5 .8l.5-1.1l.5 1.4l.5-1.1l.5 1.7l.5-1.5l.5 2.3l.5-3.7l.5 2.6l.5-2l.5 1.9l.5-3.3l.5 3.3l.5-1.6l.5 3.8l.5-3.7l.5 2.9l.5-4.4l.5 3.4l.5-1.4l.5 1.1l.5-3.8l.5 3.6l.5-.1l.5 .3l.5-.7l.5 1.5l.5-1.4l.5 1.6l.5-1.6l.5 2.1l.5-3.2l.5 2.9l.5-1.4l.5 .5l.5-.8l.5 1.7l.5-1.6l.5 1.2l.5-1.1l.5 1l.5-2.9l.5 3.5l.5-3.1l.5 3.2l.5-2.2l.5 1.3l.5-2.4l.5 2.1l.5-1.3l.5 1.3l.5-.6l.5 2.3l.5-3.6l.5 2.6l.5-1.3l.5 .6l.5-1.2l.5 2.1l.5-1.9l.5 1.9l.5-1.7l.5 1.1l.5-.6l.5 2.6l.5-3.6l.5 1.5l.5-1.8l.5 3l.5-2.4l.5 3l.5-2.7l.5 2.3l.5-3.6l.5 3.7l.5-2.8l.5 4.3l.5-4.1l.5 1.8l.5-.9l.5 .8l.5-2l.5 3.1l.5-2.6l.5 1.2l.5-.5l.5 1l.5-2.5l.5 3.3l.5-1.8l.5 .7l.5-.4l.5 1.2l.5-2.3l.5 3.8l.5-2.9l.5 1.5l.5-1.2l.5 .9l.5-1.7l.5 1.9l.5-1l.5 1.3l.5-2.3l.5 1.5l.5-1.9l.5 3.1l.5-3.3l.5 2.3l.5-.6l.5 .6l.5-1l.5 .8l.5-.6l.5 .9l.5-1.9l.5 2.8l.5-1.8l.5 1.5l.5-1.8l.5 1.7l.5-.9l.5 .8l.5-1.8l.5 1.9l.5-2.3l.5 2.2l.5-1.3l.5 1.6l.5-1l.5 .5l.5-1.2l.5 4l.5-4l.5 1.6l.5-.7l.5 1l.5-1.1l.5 1l.5-.7l.5 1.5l.5-1.5l.5 1.1l.5-1.6l.5 1.4l.5-1l.5 2.4l.5-2.4l.5 1.1l.5-1.4l.5 .7l.5-.7l.5 .9l.5-2.2l.5 2.4l.5-.5l.5 .4l.5-2.4l.5 4l.5-2.4l.5 1l.5-1.9l.5 1.7l.5-.2l.5 1.3l.5-1.5l.5 2.2l.5-3l.5 1.7l.5-1.3l.5 1.5l.5-2l.5 2.5l.5-1.2l.5 .6l.5-1.7l.5 1.3l.5-1.3l.5 2.8l.5-1.9l.5 1.2l.5-1.1l.5 1.2l.5-1.2l.5 1.6l.5-1.5l.5 .3l.5-.8l.5 .6l.5-1.3l.5 1.6l.5-.6l.5 1.1l.5-1.8l.5 2.6l.5-2.3l.5 1.8l.5-2.8l.5 1.8l.5-1.3l.5 3.3l.5-3.1l.5 1.3l.5-1.7l.5 3.2l.5-2.4l.5 .8l.5-.8l.5 .6l.5-1.1l.5 1.7l.5-2.3l.5 1.8l.5-.9l.5 1.7l.5-1.7l.5 1.7l.5-1.4l.5 2.8l.5-2.7l.5 0l.5-.1l.5 .2l.5-3l.5 3.2l.5-1.5l.5 .9l.5-1.2l.5 1.7l.5-2.3l.5 1.7l.5-1.3l.5 .1l.5-1.3l.5 .8l.5-1.3l.5 2.1l.5-3.5l.5 2l.5-.3l.5 2.1l.5-2.8l.5 1.1l.5-.7l.5 .6l.5-1l.5 1.3l.5-.4l.5 2.5l.5-3.8l.5 3.7l.5-1.9l.5 1.9l.5-1.4l.5 1.3l.5-.7l.5 1.1l.5-.5l.5 1l.5 0l.5 1.4l.5-2.1l.5 1.7l.5-1.2l.5 1.6l.5-1.5l.5 2.4l.5-2.3l.5 2.3l.5-2.2l.5 2.4l.5-3.1l.5 3.1l.5-.9l.5 .6l.5-.2l.5 2.1l.5-2l.5 .4l.5-1l.5 1.9l.5-.8l.5 2.3l.5-2.5l.5 1.6l.5-1.4l.5 .8l.5-.6l.5 1.6l.5-1.4l.5 1.7l.5-2.7l.5 2l.5-1l.5 1.9l.5-1.7l.5 1.1l.5-.3l.5 1.8l.5-1.8l.5 .8l.5-.5l.5 2.1l.5-2.7l.5 .9l.5-1.5l.5 2.3l.5-2.5l.5 2.6l.5-1.3l.5 1l.5-.7l.5 .6l.5-2.1l.5 2.2l.5-2.2l.5 3.2l.5-2.6l.5 1.2l.5-.4l.5 .4l.5-.3l.5 .4l.5-.5l.5 .5l.5-1.6l.5 2.4l.5-1.7l.5 .9l.5-.6l.5 2.4l.5-2.2l.5 .5l.5-.8l.5 1.6l.5-3.1l.5 3l.5-1.7l.5 .8l.5-1.3l.5 1.4l.5-1.1l.5 .9l.5-1.8l.5 3.3l.5-2.8l.5 1.4l.5-1.9l.5 3.1l.5-1.8l.5 1.1l.5-3.8l.5 3.5l.5-1.7l.5 2.3l.5-1.6l.5 1.2l.5-.8l.5 .3l.5-1.4l.5 2.4l.5-1.8l.5 1.5l.5-2.3l.5 2.8l.5-2.9l.5 3.4l.5-2.3l.5 1.5l.5-1.9l.5 .7l.5-1l.5 1.3l.5-.4l.5 1.8l.5-3.3l.5 1.9l.5-1l.5 .6l.5-.7l.5 .8l.5-.3l.5 .7l.5-.7l.5 .6l.5-.8l.5 1.3l.5-1.2l.5 1.1l.5-2l.5 1.3l.5-.9l.5 1.9l.5-1.7l.5 1.8l.5-1.9l.5 .5l.5-.8l.5 1.1l.5-1.8l.5 1.1l.5-.6l.5 2l.5-1.9l.5 .5l.5-.6l.5 .7l.5-1.6l.5 1.2l.5-1l.5 1.5l.5-1.2l.5 .3l.5-.6l.5 .2l.5-1.6l.5 2.4l.5-1.7l.5 2.2l.5-2.3l.5 .8l.5-1.2l.5 1.2l.5-.4l.5 .9l.5-.9l.5 .8l.5-1.2l.5 1.2l.5-1l.5 .8l.5-.6l.5 .6l.5-1.9l.5 3.1l.5-1.8l.5 .3l.5-2.2l.5 4l.5-2.5l.5 1.2l.5-.6l.5 1.4l.5-2.4l.5 3.9l.5-4l.5 1.5l.5-1.1l.5 2.5l.5-2.7l.5 1.7l.5-1.3l.5 2.6l.5-3.2l.5 3.2l.5-1.3l.5 .7l.5-.9l.5 .6l.5-2l.5 2l.5-.2l.5 .4l.5-1.3l.5 2.4l.5-1.5l.5 1.3l.5-2.2l.5 2.8l.5-1.8l.5 2.1l.5-1.7l.5 1.1l.5-.9l.5 .9l.5-1l.5 2.3l.5-2.7l.5 2.8l.5-1.9l.5 1.2l.5-1.1l.5 .7l.5-2.1l.5 1.9l.5-1.1l.5 1.3l.5-1l.5 3.3l.5-3.5l.5 2.3l.5-3l.5 2l.5-1l.5 2.1l.5-1.5l.5 .7l.5-.9l.5 2l.5-1.3l.5 .2l.5-1.1l.5 1.7l.5-.6l.5 1.5l.5-2.8l.5 1.7l.5-.6l.5 .9l.5-.7l.5 .5l.5-2.7l.5 3.4l.5-1.1l.5 2.2l.5-2.8l.5 3.1l.5-2.1l.5 1.1l.5-1.4l.5 1l.5-.8l.5 1l.5-2.1l.5 3.7l.5-2.5l.5 .9l.5-1.7l.5 1.7l.5-.9l.5 1.8l.5-1.1l.5 2.1l.5-1.9l.5 2.1l.5-2.8l.5 1.8l.5-2.4l.5 2.3l.5-1.4l.5 1l.5-.8l.5 1l.5-.9l.5 .7l.5-.4l.5 2.2l.5-3.6l.5 2.7l.5-1.2l.5 1.8l.5-1.9l.5 .8l.5-2.4l.5 2.4l.5-.8l.5 1.7l.5-1.4l.5 .6l.5-1.5l.5 2.2l.5-1.2l.5 .4l.5-1.1l.5 2.2l.5-2.6l.5 1.8l.5-.7l.5 .3l.5-.4l.5 .9l.5-1.2l.5 .9l.5-1.3l.5 2.3l.5-2.8l.5 1.8l.5-1.1l.5 1.5l.5-2l.5 3.4l.5-3.7l.5 2.1l.5-1.5l.5 1.6l.5-1l.5 .9l.5-.6l.5 .3l.5-.4l.5 2.3l.5-2.5l.5 .7l.5-2.5l.5 2.9l.5-.8l.5 .9l.5-1.5l.5 .6l.5-.4l.5 1.9l.5-1.7l.5 1.8l.5-3.7l.5 3l.5-1.8l.5 1l.5-.7l.5 2.4l.5-2.6l.5 1.1l.5-1.1l.5 .9l.5-1.3l.5 1.5l.5-1.9l.5 2.3l.5-2.3l.5 2.8l.5-2l.5 .5l.5-2.4l.5 3.4l.5-1.6l.5 2.2l.5-3.5l.5 3.4l.5-2.7l.5 2.9l.5-2.5l.5 3.1l.5-3.9l.5 1.7l.5-1.3l.5 1.2l.5-.9l.5 1.2l.5-2l.5 3l.5-3.2l.5 1.6l.5-2.2l.5 1.8l.5-1l.5 .6l.5-2.9l.5 3.7l.5-2l.5 .8l.5-1.9l.5 1.6l.5-1.1l.5 1.2l.5-1.3l.5 1l.5-1.6l.5 1.4l.5-.8l.5 1.2l.5-2.1l.5 3.6l.5-2.7l.5 .5l.5-.8l.5 .4l.5-1.6l.5 3.7l.5-3l.5 2.8l.5-3.4l.5 2.1l.5-1.1l.5 .3l.5-1.3l.5 1.7l.5-.5l.5 .1l.5-1l.5 1.3l.5-3.3l.5 3.1l.5-1.1l.5 3.4l.5-3.4l.5 1.5l.5-1l.5 3.4l.5-4.2l.5 3.5l.5-2.2l.5 1.5l.5-1.9l.5 2.2l.5-3.1l.5 4l.5-3.2l.5 3.2l.5-3.3l.5 2.3l.5-1.8l.5 1.4l.5-.8l.5 .9l.5-.6l.5 2l.5-3.1l.5 2l.5-1.3l.5 1.6l.5-.3l.5 1l.5-1.6l.5 2.9l.5-1.8l.5 .8l.5-.7l.5 1.3l.5-1.7l.5 1l.5-.7l.5 1.3l.5-.5l.5 .8l.5-1.2l.5 1.6l.5-1.7l.5 1.4l.5-.5l.5 .7l.5-.5l.5 2.6l.5-4l.5 2.6l.5-.6l.5 1.3l.5-2.8l.5 3.1l.5-2.6l.5 2.3l.5-1.1l.5 .6l.5-.8l.5 1.8l.5-.8l.5 .9l.5-2.8l.5 4.1l.5-2.6l.5 1.7l.5-1.3l.5 .6l.5-.3l.5 .9l.5-.6l.5 1.2l.5-1.6l.5 2.1l.5-1.3l.5 1.2l.5-1.2l.5 1.6l.5-1.7l.5 1.5l.5-2.6l.5 3.6l.5-3.4l.5 2l.5-1.2l.5 1.3l.5-1.2l.5 1.3l.5-1.3l.5 2.6l.5-2.7l.5 1.8l.5-1l.5 .7l.5-2.1l.5 1.8l.5-.9l.5 .8l.5-.6l.5 1l.5-.5l.5 .1l.5-.7l.5 1.7l.5-1.2l.5 .7l.5-.8l.5 1.3l.5-2l.5 1.5l.5-.6l.5 2.7l.5-4.9l.5 4l.5-2.8l.5 1.5l.5-.9l.5 3.7l.5-3.6l.5 1.5l.5-1.4l.5 .8l.5-.6l.5 1.4l.5-1.6l.5 2l.5-3.2l.5 2.8l.5-1.7l.5 2.9l.5-2.2l.5 .7l.5-1.5l.5 2.8l.5-2.1l.5 .7l.5-1.7l.5 1.4l.5-.2l.5 .9l.5-1.9l.5 1.3l.5-.6l.5 2.1l.5-2.3l.5 .9l.5-.9l.5 1.2l.5-1l.5 .7l.5-1.1l.5 1.7l.5-.8l.5 1l.5-2.1l.5 2.5l.5-2.5l.5 1.6l.5-.3l.5 .1l.5-.1l.5 1l.5-1.6l.5 1.8l.5-1.3l.5 2.2l.5-2.3l.5 1.3l.5-1.9l.5 1.2l.5-1.5l.5 1.9l.5-.9l.5 .5l.5-.7l.5 .7l.5-1.3l.5 1.9l.5-1.4l.5 3.1l.5-3.8l.5 2.6l.5-2.3l.5 1.3l.5-.4l.5 .4l.5-.9l.5 1.1l.5-1l.5 1.7l.5-1.9l.5 1.6l.5-1.9l.5 1.5l.5-.9l.5 1.1l.5-1.6l.5 2.6l.5-2l.5 1.2l.5-1.2l.5 1.5l.5-1.5l.5 1.2l.5-1.5l.5 .9l.5-1.1l.5 1.2l.5-2.2l.5 2.5l.5-1.3l.5 1.9l.5-1.1l.5 .4l.5-.4l.5 .9l.5-3l.5 2.4l.5-1.5l.5 1.7l.5-1.1l.5 1.2l.5-1.1l.5 .9l.5-1l.5 .8l.5-1l.5 1l.5-.2l.5 2.1l.5-3.6l.5 2.3l.5-1.1l.5 1.2l.5-1.5l.5 1l.5-1l.5 2.7l.5-1.9l.5 2l.5-2.1l.5 .6l.5-.8l.5 .9l.5-1.3l.5 2.8l.5-2.1l.5 .5l.5-.5l.5 1.4l.5-1.6l.5 1.3l.5-2.8l.5 2.1l.5-.3l.5 .3l.5-1.1l.5 3l.5-3.6l.5 1.7l.5-1.2l.5 1.6l.5-1.4l.5 2.4l.5-1.8l.5 .8l.5-1.2l.5 1.9l.5-1.4l.5 1.6l.5-2l.5 .6l.5-1.1l.5 2l.5-1.3l.5 1.4l.5-1.2l.5 1.4l.5-1.7l.5 1.9l.5-2.5l.5 2.6l.5-3.5l.5 3.2l.5-2.5l.5 1.7l.5-.8l.5 1.8l.5-1.7l.5 .7l.5-1.7l.5 1.5l.5-1.9l.5 1.7l.5-.2l.5 .3l.5-1.3l.5 2.1l.5-1.8l.5 2.5l.5-2.9l.5 1.5l.5-1.6l.5 2.1l.5-1.5l.5 2.5l.5-1.8l.5 0l.5-1.2l.5 1.8l.5-1.8l.5 2l.5-1.2l.5 1.6l.5-3.2l.5 4l.5-3.5l.5 2.6l.5-2.1l.5 1.5l.5-.8l.5 .4l.5-.5l.5 1.3l.5-1.6l.5 1.3l.5-1.8l.5 2.4l.5-1.2l.5 2.2l.5-2.8l.5 .7l.5-2.8l.5 4.1l.5-1.7l.5 .3l.5-.3l.5 .4l.5-.4l.5 .4l.5-.2l.5 .7l.5-1.1l.5 2.9l.5-2.7l.5 .7l.5-1l.5 1l.5-.7l.5 .6l.5-.5l.5 .2l.5-.9l.5 2.3l.5-1.9l.5 .4l.5-1.1l.5 2.2l.5-1.2l.5 .3l.5-.2l.5 1.1l.5-1.2l.5 2l.5-3.1l.5 1.9l.5-1.4l.5 1.2l.5-1.4l.5 1.2l.5-.4l.5 1l.5-1.3l.5 .6l.5-.4l.5 .8l.5-1.4l.5 2.3l.5-2.5l.5 1.4l.5-.5l.5 .7l.5-1.7l.5 4l.5-4l.5 2.3l.5-3l.5 2.2l.5-.9l.5 1.3l.5-1l.5 1.8l.5-2.1l.5 1.6l.5-2.7l.5 2.2l.5-1.9l.5 1.6l.5-.8l.5 1.8l.5-3.1l.5 2l.5-.4l.5 .4l.5-1.1l.5 2.5l.5-1.8l.5 .9l.5-2.1l.5 2.3l.5-1.8l.5 1.9l.5-1.2l.5 .9l.5-1.5l.5 1l.5-.9l.5 2.3l.5-1.9l.5 .6l.5-1.6l.5 1.6l.5-1.6l.5 1.6l.5-2l.5 2.8l.5-1.9l.5 1.3l.5-.9l.5 .2l.5-1.7l.5 2l.5-1.4l.5 1.2l.5-.7l.5 1.1l.5-3.2l.5 3.9l.5-1.3l.5 2.1l.5-3l.5 1.2l.5-.4l.5 .4l.5-1.9l.5 1.9l.5-.9l.5 3.2l.5-2.7l.5 .7l.5-.7l.5 2.8l.5-3.1l.5 2l.5-1.7l.5 .1l.5-.3l.5 .4l.5-1.4l.5 2.8l.5-2l.5 .9l.5-2.1l.5 1.7l.5-.5l.5 2.1l.5-1.9l.5 1.2l.5-1.5l.5 2.3l.5-2l.5 1.7l.5-1.9l.5 .8l.5-1.1l.5 1l.5-.4l.5 .9l.5-1l.5 .7l.5-1.6l.5 2l.5-1.3l.5 1.2l.5-3.5l.5 3l.5-.4l.5 2.1l.5-4.2l.5 2.6l.5-.8l.5 .7l.5-.6l.5 .3l.5-1.6l.5 1.9l.5-.8l.5 1.1l.5-1.6l.5 2l.5-1.6l.5 1l.5-1l.5 .8l.5-1.1l.5 1.5l.5-.8l.5 .8l.5-.8l.5 .9l.5-1.9l.5 1.2l.5-.6l.5 2l.5-2l.5 1.4l.5-2.2l.5 2.2l.5-2.3l.5 1.7l.5-.4l.5 1l.5-1.6l.5 2.4l.5-2.2l.5 1.3l.5-3.5l.5 4.8l.5-2.9l.5 1.9l.5-1.8l.5 1.8l.5-2.9l.5 2.7l.5-1.7l.5 2.9l.5-3.8l.5 2.9l.5-2.4l.5 1.4l.5-1.1l.5 3.6l.5-3.1l.5 .6l.5-1.7l.5 2.4l.5-2l.5 1.4l.5-.7l.5 1.5l.5-2l.5 1.5l.5-1.7l.5 1.7l.5-1l.5 2.6l.5-2.5l.5 .6l.5-1.6l.5 1.5l.5-.6l.5 2.1l.5-1.9l.5 2.6l.5-3.2l.5 1.5l.5-2.1l.5 3.3l.5-3.5l.5 3l.5-2.2l.5 1.4l.5-.9l.5 1.9l.5-2.4l.5 3.4l.5-3.5l.5 1.7l.5-.8l.5 .4l.5-1.2l.5 2.1l.5-1.9l.5 .7l.5-.2l.5 .5l.5-1.5l.5 1.7l.5-1.8l.5 2.3l.5-3l.5 2.1l.5-1.1l.5 2l.5-2.7l.5 4.1l.5-4.4l.5 3l.5-1.1l.5 1.3l.5-1.5l.5 2.1l.5-3.2l.5 1.6l.5-.9l.5 2.8l.5-2.9l.5 1l.5-1.3l.5 2.6l.5-1.4l.5 1.8l.5-2.4l.5 .7l.5 0l.5 1.2l.5-1.4l.5 2.2l.5-3.5l.5 2.8l.5-2l.5 1.2l.5-.4l.5 .1l.5-.5l.5 .7l.5-1.2l.5 2.1l.5-1.6l.5 1.3l.5-1l.5 .8l.5-1.2l.5 1.3l.5-1.4l.5 1.7l.5-2.4l.5 1.4l.5-1.7l.5 2.6l.5-1.8l.5 3.3l.5-3.9l.5 2.2l.5-1l.5 1.1l.5-1.4l.5 1.8l.5-1.3l.5 .4l.5-1.9l.5 2.6l.5-1l.5 .3l.5-1l.5 1.2l.5-.3l.5 .5l.5-1.2l.5 1.7l.5-2.3l.5 2.4l.5-1.7l.5 .9l.5-1.3l.5 3l.5-2.2l.5 .5l.5-.2l.5 1.4l.5-1.8l.5 3.4l.5-2.9l.5 1.9l.5-2.6l.5 2.6l.5-3.2l.5 1.6l.5-1.5l.5 2.8l.5-2.2l.5 1.3l.5-1.4l.5 1.7l.5-.9l.5 .1l.5-1.5l.5 2.8l.5-1.4l.5 2.4l.5-3l.5 1.6l.5-.9l.5 .4l.5-2.1l.5 2l.5-.9l.5 1.3l.5-1.4l.5 1l.5-2.1l.5 2.5l.5-1.2l.5 1.9l.5-1.9l.5 2l.5-2l.5 2.1l.5-1.9l.5 1.7l.5-2.1l.5 2.1l.5-2.3l.5 2.4l.5-3l.5 2.5l.5-1.5l.5 3l.5-4.5l.5 3.7l.5-2.2l.5 2.2l.5-3.2l.5 3.9l.5-2.4l.5 .9l.5-.7l.5 1.1l.5-1.7l.5 1.2l.5-.4l.5 1.6l.5-1.6l.5 2.3l.5-3.2l.5 3.1l.5-2.8l.5 1.4l.5-1.3l.5 2l.5-1.6l.5 1.1l.5-1.3l.5 1l.5-2.2l.5 2.5l.5-1.5l.5 2.7l.5-1.7l.5 .2l.5-.2l.5 .8l.5-2.6l.5 2.6l.5-2.2l.5 1.8l.5-.7l.5 .8l.5-1.4l.5 1.4l.5-1l.5 2.6l.5-3.1l.5 2.8l.5-1.4l.5 2.1l.5-2.5l.5 1.2l.5-2.1l.5 2.4l.5-1l.5 .5l.5-1.1l.5 1.6l.5-1.5l.5 .7l.3-.4" fill="none" stroke="#008000" stroke-width="3.8" stroke-linejoin="bevel"/>
</g>
<text font-size="32" fill="#000000" textLength="76" lengthAdjust="spacingAndGlyphs" transform="translate(373.5 744) rotate(-90)" stroke="#000000" stroke-width="0.9">(101)</text>
<text font-size="32" fill="#000000" textLength="72.7" lengthAdjust="spacingAndGlyphs" transform="translate(553.5 821.5) rotate(-90)" stroke="#000000" stroke-width="0.9">(004)</text>
<text font-size="32" fill="#000000" textLength="72.7" lengthAdjust="spacingAndGlyphs" transform="translate(699 825.3) rotate(-90)" stroke="#000000" stroke-width="0.9">(200)</text>
<text font-size="32" fill="#000000" textLength="71.5" lengthAdjust="spacingAndGlyphs" transform="translate(783 827.9) rotate(-90)" stroke="#000000" stroke-width="0.9">(211)</text>
<text font-size="32" fill="#000000" textLength="75" lengthAdjust="spacingAndGlyphs" transform="translate(907.5 836) rotate(-90)" stroke="#000000" stroke-width="0.9">(204)</text>
<text font-size="32" fill="#000000" textLength="72.5" lengthAdjust="spacingAndGlyphs" transform="translate(1000 850) rotate(-90)" stroke="#000000" stroke-width="0.9">(220)</text>
<text font-size="32" fill="#000000" textLength="74" lengthAdjust="spacingAndGlyphs" transform="translate(1085 849) rotate(-90)" stroke="#000000" stroke-width="0.9">(301)</text>
<text font-size="32" fill="#ff0000" textLength="75" lengthAdjust="spacingAndGlyphs" transform="translate(167 592) rotate(-90)" stroke="#ff0000" stroke-width="0.9">(100)</text>
<text font-size="32" fill="#ff0000" textLength="73.5" lengthAdjust="spacingAndGlyphs" transform="translate(372 646) rotate(-90)" stroke="#ff0000" stroke-width="0.9">(002)</text>
<rect x="116.7" y="36" width="1155.6" height="843" fill="none" stroke="#000" stroke-width="3.7"/>
<line x1="116.7" y1="879" x2="116.7" y2="896.5" stroke="#000000" stroke-width="3.1" />
<line x1="188.9" y1="879" x2="188.9" y2="889" stroke="#000000" stroke-width="3.1" />
<line x1="261.1" y1="879" x2="261.1" y2="896.5" stroke="#000000" stroke-width="3.1" />
<line x1="333.4" y1="879" x2="333.4" y2="889" stroke="#000000" stroke-width="3.1" />
<line x1="405.6" y1="879" x2="405.6" y2="896.5" stroke="#000000" stroke-width="3.1" />
<line x1="477.8" y1="879" x2="477.8" y2="889" stroke="#000000" stroke-width="3.1" />
<line x1="550.1" y1="879" x2="550.1" y2="896.5" stroke="#000000" stroke-width="3.1" />
<line x1="622.3" y1="879" x2="622.3" y2="889" stroke="#000000" stroke-width="3.1" />
<line x1="694.5" y1="879" x2="694.5" y2="896.5" stroke="#000000" stroke-width="3.1" />
<line x1="766.7" y1="879" x2="766.7" y2="889" stroke="#000000" stroke-width="3.1" />
<line x1="839" y1="879" x2="839" y2="896.5" stroke="#000000" stroke-width="3.1" />
<line x1="911.2" y1="879" x2="911.2" y2="889" stroke="#000000" stroke-width="3.1" />
<line x1="983.4" y1="879" x2="983.4" y2="896.5" stroke="#000000" stroke-width="3.1" />
<line x1="1055.6" y1="879" x2="1055.6" y2="889" stroke="#000000" stroke-width="3.1" />
<line x1="1127.8" y1="879" x2="1127.8" y2="896.5" stroke="#000000" stroke-width="3.1" />
<line x1="1200.1" y1="879" x2="1200.1" y2="889" stroke="#000000" stroke-width="3.1" />
<line x1="1272.3" y1="879" x2="1272.3" y2="896.5" stroke="#000000" stroke-width="3.1" />
<line x1="116.7" y1="289" x2="128.7" y2="289" stroke="#000000" stroke-width="2.8" />
<line x1="116.7" y1="583" x2="128.7" y2="583" stroke="#000000" stroke-width="2.8" />
<text font-size="45.5" fill="#000000" font-weight="bold" text-anchor="middle" textLength="53.3" lengthAdjust="spacingAndGlyphs" x="114.9" y="943">10</text>
<text font-size="45.5" fill="#000000" font-weight="bold" text-anchor="middle" textLength="53.3" lengthAdjust="spacingAndGlyphs" x="259.3" y="943">20</text>
<text font-size="45.5" fill="#000000" font-weight="bold" text-anchor="middle" textLength="53.3" lengthAdjust="spacingAndGlyphs" x="403.8" y="943">30</text>
<text font-size="45.5" fill="#000000" font-weight="bold" text-anchor="middle" textLength="53.3" lengthAdjust="spacingAndGlyphs" x="548.3" y="943">40</text>
<text font-size="45.5" fill="#000000" font-weight="bold" text-anchor="middle" textLength="53.3" lengthAdjust="spacingAndGlyphs" x="692.7" y="943">50</text>
<text font-size="45.5" fill="#000000" font-weight="bold" text-anchor="middle" textLength="53.3" lengthAdjust="spacingAndGlyphs" x="837.2" y="943">60</text>
<text font-size="45.5" fill="#000000" font-weight="bold" text-anchor="middle" textLength="53.3" lengthAdjust="spacingAndGlyphs" x="981.6" y="943">70</text>
<text font-size="45.5" fill="#000000" font-weight="bold" text-anchor="middle" textLength="53.3" lengthAdjust="spacingAndGlyphs" x="1126" y="943">80</text>
<text font-size="45.5" fill="#000000" font-weight="bold" text-anchor="middle" textLength="53.3" lengthAdjust="spacingAndGlyphs" x="1270.5" y="943">90</text>
<text font-size="70.5" fill="#000000" font-weight="bold" textLength="84" lengthAdjust="spacingAndGlyphs" x="124.3" y="101">(a)</text>
<text font-size="66" fill="#000000" font-weight="bold" textLength="442" lengthAdjust="spacingAndGlyphs" transform="translate(77 681) rotate(-90)">Intensity (a.u.)</text>
<text font-size="61.5" fill="#000000" font-weight="bold" x="530" y="1013">2</text>
<text font-size="58" fill="#000000" textLength="35" lengthAdjust="spacingAndGlyphs" font-family='"Liberation Serif", serif' x="567" y="1013">&#952;</text>
<text font-size="61.5" fill="#000000" font-weight="bold" textLength="248" lengthAdjust="spacingAndGlyphs" x="616.5" y="1013">(degree)</text>
<text font-size="38" fill="#008000" font-weight="bold" textLength="367.3" lengthAdjust="spacingAndGlyphs" x="889.3" y="276.5">S-TiO<tspan font-size="26" dy="16">2</tspan><tspan font-size="38" dy="-16"> (20%)/g-C</tspan><tspan font-size="26" dy="16">3</tspan><tspan font-size="38" dy="-16">N</tspan><tspan font-size="26" dy="16">4</tspan></text>
<text font-size="38" fill="#ff8000" font-weight="bold" textLength="366" lengthAdjust="spacingAndGlyphs" x="884.2" y="420.7">S-TiO<tspan font-size="26" dy="16">2</tspan><tspan font-size="38" dy="-16"> (10%)/g-C</tspan><tspan font-size="26" dy="16">3</tspan><tspan font-size="38" dy="-16">N</tspan><tspan font-size="26" dy="16">4</tspan></text>
<text font-size="38" fill="#0000ff" font-weight="bold" textLength="344.3" lengthAdjust="spacingAndGlyphs" x="909.7" y="595.3">S-TiO<tspan font-size="26" dy="16">2</tspan><tspan font-size="38" dy="-16"> (5%)/g-C</tspan><tspan font-size="26" dy="16">3</tspan><tspan font-size="38" dy="-16">N</tspan><tspan font-size="26" dy="16">4</tspan></text>
<text font-size="38" fill="#ff0000" font-weight="bold" textLength="121.2" lengthAdjust="spacingAndGlyphs" x="1126.5" y="739.4">g-C<tspan font-size="26" dy="16">3</tspan><tspan font-size="38" dy="-16">N</tspan><tspan font-size="26" dy="16">4</tspan></text>
<text font-size="38" fill="#000000" textLength="114.8" lengthAdjust="spacingAndGlyphs" x="1134.2" y="824.8" stroke="#000" stroke-width="1.3">S-TiO<tspan font-size="26" dy="16">2</tspan></text>
<line x1="1734" y1="36" x2="1734" y2="861" stroke="#8000ff" stroke-width="2.2" stroke-dasharray="6 6"/>
<g clip-path="url(#cb)">
<path d="M1364 773.1h1.5v4.4h1.5v1h1.5v-5.1h1.5v-.8h1.5v-.9h1.5v3.3h1.5v-.9h1.5v2.3h1.5v-7.4h1.5v8.6h1.5v-2.7h1.5v1.7h1.5v-2h1.5v-1.4h1.5v2.3h1.5v1.8h1.5v-2.7h1.5v-.6h1.5v2.4h1.5v-4.2h1.5v-3.3h1.5v5h1.5v-1.9h1.5v-4.6h1.5v2h1.5v1.6h1.5v-1.9h1.5v-1.6h1.5v4.2h1.5v3.9h1.5v-2.6h1.5v-2.5h1.5v2.7h1.5v1.7h1.5v-2.8h1.5v1.7h1.5v1.9h1.5v-3.5h1.5v-3.1h1.5v2.6h1.5v.3h1.5v2.7h1.5v-6.9h1.5v-.3h1.5v-.7h1.5v-3.2h1.5v4.8h1.5v2.6h1.5v-3.3h1.5v5.6h1.5v-.2h1.5v-.9h1.5v-1h1.5v1.3h1.5v-7h1.5v3.9h1.5v1h1.5v-7.3h1.5v4.4h1.5v-.8h1.5v3h1.5v-3.2h1.5v.3h1.5v1.1h1.5v-3.8h1.5v3.5h1.5v-1.4h1.5v1.4h1.5v-3h1.5v4h1.5v-.4h1.5v-2.9h1.5v1.6h1.5v2.3h1.5v2.2h1.5v-10.3h1.5v4.6h1.5v-.1h1.5v-2.1h1.5v-3.7h1.5v5.9h1.5v-6.5h1.5v3.7h1.5v3.3h1.5v-8.6h1.5v1.3h1.5v-3.1h1.5v3.9h1.5v5h1.5v2.9h1.5v-11.7h1.5v.1h1.5v3.9h1.5v3.8h1.5v-3h1.5v-4.9h1.5v1.6h1.5v-.9h1.5v-1.2h1.5v-2.4h1.5v2.6h1.5v.1h1.5v-1.7h1.5v-1.3h1.5v-4.4h1.5v.7h1.5v5.3h1.5v-3.6h1.5v-5.7h1.5v6.8h1.5v-1.2h1.5v4.3h1.5v-6.1h1.5v-4.1h1.5v-5.1h1.5v7.1h1.5v5.8h1.5v-10.1h1.5v-2.9h1.5v2.8h1.5v-4.3h1.5v.1h1.5v-.6h1.5v1.3h1.5v3h1.5v-3h1.5v1.7h1.5v-4.4h1.5v.9h1.5v-8.5h1.5v-.6h1.5v7h1.5v-3h1.5v2.6h1.5v.2h1.5v2.1h1.5v-1.6h1.5v-.4h1.5v-4.6h1.5v-4.2h1.5v-2.2h1.5v-.7h1.5v-3.3h1.5h1.5v.6h1.5v.4h1.5v-3h1.5v-7.4h1.5v3.2h1.5v1h1.5v2.3h1.5v-2h1.5v-5.8h1.5v-2.9h1.5v7.9h1.5v-3h1.5v2.1h1.5v.8h1.5v-11.1h1.5v.1h1.5v-.7h1.5v-.7h1.5v-1.2h1.5v-2.5h1.5v-1.9h1.5v-7.6h1.5v1.5h1.5v-2.8h1.5v1.2h1.5v-3h1.5v1.9h1.5v.1h1.5v-3.1h1.5v-2.2h1.5v-2.8h1.5v-4.1h1.5v-1.5h1.5v-3h1.5v1.1h1.5v-2.5h1.5v-.1h1.5v-8.5h1.5v4.1h1.5v-6.3h1.5v-3.2h1.5v-.4h1.5v-2.9h1.5v1h1.5v-4.1h1.5v-4.2h1.5v-1.4h1.5v6.5h1.5v-3.7h1.5v-6.6h1.5v1.3h1.5v-6.5h1.5v9.2h1.5v-10.8h1.5v2.7h1.5v-.4h1.5v-8.9h1.5v2.2h1.5v1.7h1.5v-3h1.5v-3.2h1.5h1.5v-4.6h1.5v-2.4h1.5v-4.2h1.5v-.2h1.5v-7.7h1.5v2.4h1.5v-5.7h1.5v-5.5h1.5v2.2h1.5v4.1h1.5v-3h1.5v-7.8h1.5v.8h1.5v-5.3h1.5v-1.5h1.5v-.7h1.5v-9.8h1.5v5.8h1.5v-3.3h1.5v-.2h1.5v-3.3h1.5v-1.6h1.5v1h1.5v6.1h1.5v3.9h1.5v-6.7h1.5v-2h1.5v-7.8h1.5v-7.2h1.5v6.4h1.5v4.1h1.5v-1.2h1.5v2.3h1.5v1.5h1.5v-5.2h1.5v-4.3h1.5v2.9h1.5v.4h1.5v-.8h1.5v4.3h1.5v3.8h1.5v-6.7h1.5v2.2h1.5v1.8h1.5v.2h1.5v1.7h1.5v-4.1h1.5v3.6h1.5v6.5h1.5v-1.8h1.5v-4.9h1.5v3.9h1.5v4.9h1.5v-.2h1.5v-1.7h1.5v9.1h1.5v-5.6h1.5v6.8h1.5v2h1.5v-1.8h1.5v10h1.5v1.6h1.5v-3.3h1.5v7.4h1.5v.3h1.5v-3.5h1.5v5.4h1.5v7.1h1.5v5.6h1.5v2.1h1.5v2.4h1.5v4.4h1.5v1h1.5v7.5h1.5v.5h1.5v2.5h1.5v3.5h1.5v-3h1.5v2.1h1.5v10.7h1.5v.6h1.5v-.3h1.5v4.1h1.5v.1h1.5v4.8h1.5v-.2h1.5v5.4h1.5v-3.3h1.5v11.7h1.5v-1.4h1.5v-2.4h1.5v6.2h1.5v3.3h1.5v4.8h1.5v-1.2h1.5v7.2h1.5v15.9h1.5v-10.8h1.5v4.6h1.5v1.1h1.5v4h1.5v-4h1.5v2.9h1.5v8.1h1.5v2.2h1.5v7.8h1.5v-4.4h1.5v3.1h1.5v11.6h1.5v-7.9h1.5v-1.7h1.5v3.6h1.5v2.2h1.5v4.8h1.5h1.5v-1.9h1.5v3.7h1.5v10.2h1.5v-.6h1.5v-12.9h1.5v5.8h1.5v.1h1.5v5.8h1.5h1.5v7.7h1.5v-.1h1.5v.7h1.5v-1.2h1.5v-.1h1.5v2.2h1.5v4.9h1.5v.1h1.5v-1.6h1.5v5.9h1.5v-.5h1.5v.1h1.5v-1.1h1.5v1.5h1.5v1.2h1.5v-5.5h1.5v11.4h1.5v2.8h1.5v-.9h1.5v4.3h1.5h1.5v.4h1.5v-8.3h1.5v5.1h1.5v4.4h1.5v5.2h1.5v2.7h1.5h1.5v-7.6h1.5v-5h1.5v7.6h1.5v1.1h1.5v3.7h1.5v-1.6h1.5v1.1h1.5v-4.4h1.5v5.3h1.5v-.5h1.5v2.9h1.5v1.8h1.5v-.6h1.5v1.8h1.5v.1h1.5v3h1.5v.7h1.5v-2.4h1.5v-.3h1.5v7.5h1.5v-2.8h1.5v3h1.5v-.5h1.5v-2.5h1.5v-.9h1.5v2.9h1.5v1.7h1.5v2h1.5v-4.6h1.5v1.1h1.5v2.2h1.5v6.1h1.5v-9.5h1.5v5.8h1.5v-.7h1.5v3h1.5v-1.4h1.5v2.4h1.5v4.7h1.5v-1.8h1.5h1.5v.2h1.5v-2.9h1.5v3.3h1.5v-.9h1.5v-1.7h1.5v2.1h1.5v.4h1.5v3.3h1.5v-1h1.5v-1.4h1.5v5.6h1.5v.7h1.5v1.3h1.5v-1.3h1.5v-2.1h1.5v-1.3h1.5v.3h1.5v3.9h1.5v-.9h1.5v-4.7h1.5v3.1h1.5v-2.8h1.5v4h1.5v-2.5h1.5v-.6h1.5v4h1.5v.9h1.5v-4h1.5v6h1.5v6.1h1.5v-8.4h1.5v7.2h1.5v-4.8h1.5v-.6h1.5v.9h1.5v-3.1h1.5v7.2h1.5v.1h1.5v-3.4h1.5v.6h1.5v-3.1h1.5v2.6h1.5v4.7h1.5v-6h1.5v2.1h1.5v2.5h1.5v3.5h1.5v2.1h1.5v-4.3h1.5v-1.9h1.5v3h1.5v-1.2h1.5h1.5v4.1h1.5v3.1h1.5v-2.9h1.5v-2h1.5v1.8h1.5v-6.3h1.5v3.6h1.5v-1.7h1.5v9.4h1.5v-1.7h1.5v-2h1.5v-1.4h1.5v-6.8h1.5v7.3h1.5v4.9h1.5v-5h1.5v2.6h1.5v1.1h1.5v-5.9h1.5v5.4h1.5v3h1.5v-2.1h1.5v-1.3h1.5v2.2h1.5v-5.7h1.5v3.1h1.5v3.8h1.5v-5.1h1.5v4.9h1.5v-2.3h1.5v-5.1h1.5v4.3h1.5v-.9h1.5v3.6h1.5v-2.8h1.5v5.6h1.5v-3h1.5v2.4h1.5v-1.6h1.5v.5h1.5v4.6h1.5v-1.1h1.5v-1.9h1.5v-2.8h1.5v6h1.5v.7h1.5v-2.7h1.5v.7h1.5v-3.3h1.5v-.9h1.5v.2h1.5v3.3h1.5v.9h1.5v-2.7h1.5v3.2h1.5v1.1h1.5v-1.4h1.5v1.8h1.5v-3.2h1.5v-.6h1.5v1.3h1.5v-1.2h1v1.9" fill="none" stroke="#ff0000" stroke-width="3.6" stroke-linejoin="miter"/>
<path d="M1364 651h1.8v1.3h1.8v.2h1.8h1.8v1.2h1.8v-3.2h1.8v-.6h1.8v-1.2h1.8v1.1h1.8v1.9h1.8v-.6h1.8v.3h1.8v-3h1.8v1.5h1.8v-.9h1.8v3.1h1.8v.1h1.8h1.8v-1.3h1.8v.3h1.8v.1h1.8v-1.3h1.8v-.8h1.8v.2h1.8v-.7h1.8v-.3h1.8v.3h1.8v-.6h1.8v1.7h1.8v-2.5h1.8v2.1h1.8v-1.1h1.8v-.4h1.8v-1.3h1.8v1h1.8v.2h1.8v.6h1.8v-.8h1.8v.4h1.8v2.3h1.8v-1h1.8v-1.8h1.8v1.1h1.8v-1h1.8v.3h1.8v.1h1.8v-1.4h1.8v-2.7h1.8v.8h1.8v1.4h1.8v-.8h1.8v.6h1.8v.8h1.8v-1.8h1.8v1.5h1.8v.9h1.8v-.4h1.8v-.3h1.8v-.3h1.8v1.3h1.8v-2.4h1.8v-1.3h1.8v.1h1.8v-2.1h1.8v-1.8h1.8h1.8v1.5h1.8v.6h1.8v-2.5h1.8v-1.6h1.8v1.3h1.8v.5h1.8v.3h1.8v.9h1.8v1h1.8v-1h1.8v-.1h1.8v-2.4h1.8v-1.3h1.8v1.3h1.8v.9h1.8v.2h1.8v-.2h1.8h1.8v-.2h1.8v-3.7h1.8v-.3h1.8v1.2h1.8v.5h1.8v-3h1.8v2.1h1.8v-1.7h1.8v-.9h1.8h1.8v.2h1.8v-3.3h1.8v1.5h1.8v-1.1h1.8v-2h1.8v-.5h1.8v-3.2h1.8v.4h1.8v1h1.8v-1.1h1.8v-.3h1.8h1.8v-.1h1.8v1.1h1.8v-1.2h1.8v-1.1h1.8v.5h1.8v2h1.8v-2.7h1.8v-.2h1.8v-3.2h1.8v2.4h1.8v-.2h1.8v.4h1.8v-2.1h1.8v-2.6h1.8v1.2h1.8v-.2h1.8v-2.9h1.8v-2.5h1.8v1.1h1.8v-1.1h1.8v2.9h1.8v-3.9h1.8v-2.1h1.8v-.9h1.8v-3.2h1.8v-.8h1.8v2.6h1.8v-2.2h1.8v-2.2h1.8v-2.6h1.8v.9h1.8v-.3h1.8v-1.5h1.8v-2.3h1.8v-.8h1.8v-1h1.8v-2.8h1.8v-.1h1.8v-4.9h1.8v-1.8h1.8v-.2h1.8v-.8h1.8v-2.9h1.8h1.8v-.1h1.8v-2h1.8v-2.4h1.8v-1.3h1.8v-2.4h1.8v-4.7h1.8v-1.8h1.8v.1h1.8v-5.2h1.8v-1.8h1.8v-3.2h1.8v-3.9h1.8v-3.6h1.8v-1.6h1.8v-2.1h1.8v-2.6h1.8v-5.5h1.8v-1.9h1.8v-1.3h1.8v-1.1h1.8v-2.6h1.8v-2.5h1.8v-2.6h1.8v-3.7h1.8v-6.8h1.8v-4.4h1.8v-6.3h1.8v-8.5h1.8v-5.4h1.8v1.1h1.8v-7.5h1.8v-7.5h1.8v-3h1.8v-.4h1.8v-5.4h1.8v-4.1h1.8v-5.5h1.8v-4.7h1.8v-2.4h1.8v-4.5h1.8v-5.9h1.8v-3.4h1.8v-3.6h1.8v-6.2h1.8v-4.4h1.8v-4.3h1.8v-5.4h1.8v-1h1.8v-4h1.8v-3.8h1.8v-4.5h1.8v-2.1h1.8v2.9h1.8v-3.8h1.8v.2h1.8v-1.7h1.8v.6h1.8v.5h1.8v-1.5h1.8v1.2h1.8v2.1h1.8v1.9h1.8v1.9h1.8v2.3h1.8v4.9h1.8v5.7h1.8v3.6h1.8v1.9h1.8v4.9h1.8v3.9h1.8v4.8h1.8v6.8h1.8v2h1.8v3.9h1.8v2.8h1.8v4.8h1.8v4.2h1.8v7.9h1.8v3.8h1.8v2.9h1.8v8h1.8v.8h1.8v6.9h1.8v6h1.8v5h1.8v4.1h1.8v5.4h1.8v5.3h1.8v7.3h1.8v.9h1.8v6.1h1.8v5.8h1.8v3.4h1.8v1.5h1.8v5.2h1.8v3.2h1.8v5.7h1.8v5.3h1.8v2h1.8v-.4h1.8v4.4h1.8v2.5h1.8v5.2h1.8v5.3h1.8v1.8h1.8v5h1.8v2.8h1.8v1.6h1.8v-.1h1.8v3.1h1.8v.5h1.8v5.3h1.8v2.2h1.8v4h1.8v1.4h1.8v-1.2h1.8v4.5h1.8v3.4h1.8v3.6h1.8v-1h1.8v.8h1.8v2.8h1.8v.6h1.8v.9h1.8v1.7h1.8v6.7h1.8v-.7h1.8v.1h1.8v1.6h1.8v2.1h1.8v3.3h1.8v1.6h1.8v.9h1.8h1.8v.6h1.8v-.3h1.8v-.8h1.8v4.8h1.8v-1h1.8v2h1.8v-.5h1.8v.5h1.8v.5h1.8v-.9h1.8v1.8h1.8v1.9h1.8v1.8h1.8v.8h1.8v1.5h1.8v.2h1.8v.2h1.8v-1.9h1.8v1.5h1.8v3.9h1.8v.1h1.8v1.4h1.8v-.2h1.8v-.3h1.8v3.8h1.8v-.2h1.8v1.7h1.8v-.2h1.8v-.7h1.8v-2.4h1.8v2.4h1.8v-.8h1.8v-.8h1.8v4.4h1.8v1.4h1.8v.8h1.8v-.2h1.8v.1h1.8v.9h1.8v.3h1.8v.2h1.8v1.1h1.8v-3.4h1.8v3h1.8v-.5h1.8v1.8h1.8v1.3h1.8v-1.9h1.8v1.4h1.8v.7h1.8v-1.5h1.8v-.2h1.8v.8h1.8v-2.5h1.8v1.4h1.8v1.4h1.8v-.1h1.8v-1.3h1.8v1h1.8v3h1.8v1.1h1.8v-1.3h1.8v-1.2h1.8v.7h1.8v.5h1.8v-.5h1.8v.4h1.8v1.5h1.8v1.2h1.8v-3.6h1.8v3h1.8v.4h1.8v1.6h1.8v-.6h1.8v.5h1.8v1.9h1.8v-4.8h1.8v3.9h1.8v.1h1.8v-2.3h1.8v-1.8h1.8v3.1h1.8v-.2h1.8v2.6h1.8v.2h1.8v-.2h1.8v1.4h1.8v-.2h1.8v.6h1.8v.6h1.8v-.3h1.8v.6h1.8v.3h1.8v-2.4h1.8v.5h1.8v.6h1.8h1.8v-1.4h1.8v.8h1.8v1.5h1.8v.6h1.8v1.9h1.8v-1.7h1.8v-.3h1.8v-.3h1.8v.4h1.8v-.1h1.8v-1.5h1.8v2.2h1.8v1.7h1.8v1h1.8v-2.2h1.8v.3h1.8v2.7h1.8v-1.2h1.8v.2h1.8v-.5h1.8v1.3h1.8v.6h1.8v2h1.8v-1.3h1.8v-.5h1.8v-2.1h1.8v.2h1.8v-.2h1.8v.5h1.8v-.9h1.8v2.8h1.8v-1.6h1.8v1.1h1.8v-1.3h1.8v1.5h1.8v2.2h1.8v-2h1.8v.7h1.8v-.1h1.8v.4h1.8v.5h1.8v-1h1.8v.2h1.8v-.3h1.8v-.4h1.8v-.5h1.8v2.5h1.8v-1h1.6v1.4" fill="none" stroke="#0000ff" stroke-width="3.3" stroke-linejoin="miter"/>
<path d="M1364 453.6h1.8v-5.5h1.8v3h1.8h1.8v1.6h1.8v-.5h1.8v1.6h1.8v-1.7h1.8v-1.4h1.8v.9h1.8v.1h1.8v-1h1.8v-.3h1.8v1.1h1.8v.5h1.8v-1.5h1.8v-.4h1.8v-2h1.8v3.6h1.8v-1h1.8v1.6h1.8v-.6h1.8v1.7h1.8v.1h1.8v-1.5h1.8v.8h1.8v-2.8h1.8v1.6h1.8v-2.9h1.8v1.2h1.8v1.4h1.8v-.6h1.8v-1.1h1.8v-1h1.8v.2h1.8v1.8h1.8v.5h1.8v-1.4h1.8v-1.8h1.8v1.6h1.8v-2.1h1.8v.3h1.8v-.2h1.8v1.7h1.8v-.1h1.8v.2h1.8v-.3h1.8v-1.4h1.8v.8h1.8v1.3h1.8v-1.5h1.8v.1h1.8v-1.1h1.8v.5h1.8v-1h1.8v-.9h1.8v-2h1.8v.1h1.8v-3.7h1.8v-3.1h1.8v-2.8h1.8v.5h1.8v-.9h1.8v.3h1.8v2.6h1.8v2.3h1.8v.7h1.8v-3.5h1.8v1.2h1.8v.8h1.8v.5h1.8v1.7h1.8v3.9h1.8v-1.1h1.8v-.9h1.8v1.5h1.8v-.4h1.8v-.2h1.8v-1.3h1.8v.2h1.8v.4h1.8v-3.2h1.8v-1.1h1.8v2.8h1.8v.5h1.8v-1.9h1.8v-1.7h1.8v.1h1.8v-1.5h1.8v.2h1.8v2.5h1.8v-1.3h1.8v.5h1.8v-1.9h1.8v-.3h1.8v1h1.8v-3.6h1.8v-.5h1.8v-.3h1.8v.2h1.8v1.3h1.8v-1h1.8v-3.7h1.8v-.2h1.8v-1.4h1.8v-1.2h1.8v3h1.8v-3.5h1.8v-.3h1.8v-2h1.8v.8h1.8v-1h1.8v-1.3h1.8v-1.3h1.8v.5h1.8v-3.1h1.8v-1.4h1.8v-1.6h1.8v2.4h1.8v-1.7h1.8v-2.2h1.8v-.4h1.8v3.6h1.8v-2.6h1.8v-.1h1.8v-.9h1.8v-1.4h1.8v-1.8h1.8v-.6h1.8v-.6h1.8v-3.2h1.8v5.2h1.8v-.6h1.8v-1.7h1.8v-1.4h1.8v-1.7h1.8v1.5h1.8v-1.3h1.8v.1h1.8v-2.8h1.8v1.1h1.8v2.5h1.8v-2.5h1.8v.2h1.8v-1.2h1.8v.8h1.8h1.8v-1.7h1.8v-1.9h1.8v.3h1.8v-.5h1.8v-1.3h1.8v.8h1.8h1.8v-2.1h1.8v-.1h1.8v3.9h1.8v-2h1.8v-3h1.8v.8h1.8v-5.5h1.8v-6.7h1.8v-3.1h1.8v-1.8h1.8v.8h1.8v.3h1.8v-5.6h1.8v1.5h1.8v-4.1h1.8v-.6h1.8v-1.2h1.8v-1.9h1.8v-2.9h1.8v-2.4h1.8v-4.6h1.8v-1.4h1.8v-1.1h1.8v-2.3h1.8h1.8v-4.2h1.8v-4h1.8v-2.1h1.8v-5h1.8v-6.5h1.8v-6.1h1.8v1.1h1.8v-2.7h1.8v-2.7h1.8v-5.1h1.8v-2.9h1.8v-.8h1.8v-4.9h1.8v-6.5h1.8v-3.7h1.8v-.8h1.8v-6.8h1.8v-8h1.8v-5.7h1.8v-3.7h1.8v-.8h1.8v-3.8h1.8v-4.9h1.8v-4.7h1.8v-1.8h1.8v-2.5h1.8v-3.3h1.8v-2.3h1.8v-3.1h1.8v1.7h1.8v-7.1h1.8v.4h1.8v-2.6h1.8v.7h1.8v-2.6h1.8v-2.6h1.8v-4.5h1.8v-3.3h1.8v1.4h1.8v-2.5h1.8v3.9h1.8v.9h1.8v2.5h1.8v4.1h1.8v2.5h1.8v4.4h1.8v-3.1h1.8v3.1h1.8v6.7h1.8v1.5h1.8v4.3h1.8v6.9h1.8v3.7h1.8v.9h1.8v5h1.8v4.8h1.8v3.5h1.8v3.8h1.8v4.6h1.8v2.2h1.8v6.5h1.8v3.8h1.8v6.9h1.8v5.8h1.8v3.1h1.8v6.5h1.8v4.8h1.8v4.1h1.8v5.5h1.8v3.2h1.8v3.9h1.8v4.6h1.8v4.1h1.8v5.8h1.8v-.9h1.8v5.1h1.8v1.6h1.8v5.1h1.8v5.2h1.8v3.7h1.8v4.8h1.8v2.8h1.8v-1.4h1.8v3.6h1.8v7h1.8v4.5h1.8v1.2h1.8v-.5h1.8v6.3h1.8v-2.5h1.8v3.3h1.8v1.9h1.8v2.3h1.8v.3h1.8v2.6h1.8v4.6h1.8v1.1h1.8v.6h1.8v3.4h1.8v2.5h1.8v1.5h1.8v.5h1.8v2.7h1.8v.9h1.8v-.4h1.8v2.4h1.8v1.2h1.8v1.3h1.8v-1.2h1.8v1.4h1.8v2.8h1.8v2.4h1.8v.9h1.8v.7h1.8v1.7h1.8v1.6h1.8v2.2h1.8v-.4h1.8v-1h1.8v1.4h1.8v-2.2h1.8v2.1h1.8v.6h1.8v1.1h1.8v1.5h1.8v.4h1.8v-1.4h1.8v1.1h1.8v.2h1.8v1.4h1.8v1.3h1.8v-.9h1.8v2.1h1.8v1.9h1.8v-1h1.8v1.1h1.8v-2.1h1.8v.6h1.8v2.4h1.8v-2.2h1.8v.9h1.8v.1h1.8v2.8h1.8v1.4h1.8v-1.5h1.8v.6h1.8v-3h1.8v3.3h1.8v1h1.8v1.7h1.8v-3.7h1.8v2.1h1.8v.2h1.8v-2.6h1.8v1.6h1.8v1.5h1.8v2h1.8v.1h1.8v-.6h1.8v1.1h1.8h1.8v-.5h1.8v-.5h1.8v1.4h1.8v.7h1.8v2.6h1.8v-1.7h1.8v2.1h1.8v-.6h1.8v.9h1.8v-2h1.8v-.6h1.8v.6h1.8v1.9h1.8h1.8v.9h1.8v-.1h1.8v1h1.8v-.5h1.8v-.9h1.8v1.1h1.8h1.8v2.2h1.8v-1.3h1.8v-.1h1.8v-.4h1.8v1.7h1.8v.5h1.8h1.8v-2.2h1.8v-1h1.8v1.8h1.8v1.4h1.8v1.6h1.8v-3.2h1.8v.8h1.8v-1.4h1.8v.4h1.8v1.2h1.8v2h1.8v-.9h1.8v-.4h1.8v.4h1.8v2.2h1.8v2.4h1.8v-3.7h1.8v.2h1.8h1.8v2.1h1.8v.1h1.8v1.6h1.8v-2.3h1.8v.5h1.8v-.1h1.8v-.6h1.8v1h1.8v-.6h1.8v4h1.8v-.3h1.8v-1.7h1.8h1.8v2.9h1.8v-1.4h1.8v.9h1.8v.3h1.8v.9h1.8v-.2h1.8v-1h1.8v-.7h1.8v-1.7h1.8v1.5h1.8v.9h1.8v-.2h1.8v.3h1.8v-1.1h1.8v3.7h1.8v-1.7h1.8v-1.2h1.8h1.8v.6h1.8v1.4h1.8v-3.2h1.8v2.3h1.8v-.4h1.8v.4h1.8v1.6h1.8v.3h1.8v-1.5h1.8v.1h1.8v2.3h1.6v.4" fill="none" stroke="#ff8000" stroke-width="3.3" stroke-linejoin="miter"/>
<path d="M1364 293.2h1.8v-1.8h1.8v-1.5h1.8v-2.3h1.8v2.4h1.8v3.1h1.8v-.3h1.8v.5h1.8v.9h1.8v-2.1h1.8v3.7h1.8v-3h1.8v.4h1.8v3.2h1.8v-2.4h1.8v-.6h1.8v-1.1h1.8v.7h1.8v-2.9h1.8v.8h1.8v3.3h1.8v-.6h1.8v-.8h1.8v.5h1.8v.2h1.8v-.2h1.8v.4h1.8v-2.7h1.8v1.9h1.8v-.9h1.8v1.5h1.8v-.5h1.8v-1.4h1.8v.6h1.8v-.9h1.8v2.2h1.8v-.5h1.8v.9h1.8v-2.3h1.8v2.6h1.8v-1.6h1.8v1.4h1.8v-.3h1.8v-2.8h1.8v.6h1.8v-1.2h1.8v.6h1.8v1.3h1.8v-.7h1.8h1.8v-3.2h1.8v.2h1.8h1.8v.2h1.8v-3h1.8v-.6h1.8v-1.5h1.8v-4.1h1.8v-1.8h1.8v.7h1.8v-2.6h1.8v-1.8h1.8v1.6h1.8v-.2h1.8v.2h1.8v2.4h1.8v2h1.8v1.5h1.8v.8h1.8v1.8h1.8v2.3h1.8v-1.4h1.8v-.1h1.8v-.3h1.8v-1.6h1.8v1.1h1.8v1h1.8v-2h1.8v1h1.8v-1.7h1.8v1.3h1.8v.2h1.8v-2.3h1.8v-3.4h1.8v.5h1.8v-1.5h1.8v-.9h1.8v.7h1.8v1.9h1.8v-1.6h1.8v-1.3h1.8v-3.2h1.8v-.1h1.8v-1.7h1.8v1.4h1.8v-1.4h1.8v-.5h1.8v-.7h1.8v-1.1h1.8v.5h1.8v-1.1h1.8v-2.3h1.8v-1h1.8v-.6h1.8v.1h1.8v-2.5h1.8v.1h1.8v-3.6h1.8v-1.6h1.8v-3.1h1.8v1.3h1.8v-2.7h1.8v-1.6h1.8v1.5h1.8v-1.7h1.8v-1.5h1.8v1.4h1.8v-1.4h1.8v.7h1.8v-2h1.8v.5h1.8v.3h1.8v-1.6h1.8v1.4h1.8v-2.8h1.8v-1.3h1.8v-.5h1.8v.8h1.8v-2.1h1.8v-1.6h1.8v-.2h1.8v1h1.8v-2.1h1.8v-1.9h1.8v1.5h1.8v2.3h1.8v-.1h1.8v1.3h1.8v-2.2h1.8v1.7h1.8v.7h1.8v1h1.8v-.1h1.8v.5h1.8v-2.3h1.8v1.3h1.8v-2.8h1.8v.2h1.8v2.5h1.8v.5h1.8v-3.7h1.8v1.9h1.8v-.7h1.8v-.9h1.8v1h1.8v.2h1.8v1.7h1.8v-3.5h1.8v-.1h1.8v-.1h1.8v-3.3h1.8v2h1.8v.4h1.8v-4.5h1.8v-1.7h1.8v-2.8h1.8v-1.6h1.8v-3.1h1.8v-.1h1.8v-4.2h1.8v.9h1.8v-2.4h1.8v.8h1.8v-7.1h1.8v-2h1.8v-4.1h1.8v-1.7h1.8v-1.7h1.8v-4.9h1.8v-4.8h1.8v-4.5h1.8v-.8h1.8v-.6h1.8v-2.2h1.8v-4.6h1.8v-5.2h1.8v-3h1.8v-5h1.8v-4.2h1.8v.5h1.8v-4.4h1.8v-3.3h1.8v-4.9h1.8v-2.1h1.8v-3.4h1.8v-7.8h1.8v-5.2h1.8v-5.5h1.8v-1.9h1.8v-4h1.8v-7.2h1.8v-1.5h1.8v-7h1.8v-7.2h1.8v-6.6h1.8v-1.8h1.8v-2.4h1.8v-4.8h1.8v-3.1h1.8v-3h1.8v-6.3h1.8v-3.7h1.8v-1.8h1.8v-4.2h1.8v-4.7h1.8v.2h1.8v.4h1.8v2.8h1.8v-3h1.8v-3.1h1.8v2.3h1.8v1.9h1.8v.7h1.8v3.2h1.8v2.3h1.8v3.8h1.8v.7h1.8v3.5h1.8v5.6h1.8v4.4h1.8v7.3h1.8v3.8h1.8v2.5h1.8v5.4h1.8v2.4h1.8v3.9h1.8v3.6h1.8v2.5h1.8v4.2h1.8v6h1.8v4.8h1.8v7.6h1.8v9.2h1.8v6.7h1.8v4.5h1.8v11.2h1.8v2.9h1.8v7.5h1.8v6.4h1.8v6.3h1.8v1.9h1.8v4.8h1.8v4.1h1.8v6.1h1.8v3.6h1.8v3.6h1.8v3.8h1.8v5.6h1.8v2.3h1.8v3.1h1.8v.4h1.8v4.3h1.8v.5h1.8v5h1.8v2.5h1.8v1h1.8v1.5h1.8v3.5h1.8v3h1.8v1.4h1.8v2.2h1.8v2.1h1.8v1.7h1.8v2.2h1.8v2.6h1.8v3.5h1.8v1.4h1.8v-.2h1.8v3.7h1.8v1.6h1.8v-.6h1.8v2h1.8v-.6h1.8h1.8v.6h1.8v4h1.8v.3h1.8v1.1h1.8v.9h1.8v.7h1.8v2.7h1.8v2.7h1.8v4h1.8v-1.1h1.8v3.1h1.8v.5h1.8v-2.5h1.8v2.9h1.8v2.3h1.8v.5h1.8v-.6h1.8h1.8v-2.5h1.8v2.1h1.8v1h1.8v-.8h1.8v1.5h1.8v-.3h1.8v4h1.8v-2.5h1.8v-.2h1.8v-1.3h1.8v2h1.8v1.9h1.8v.9h1.8h1.8v2.2h1.8v.5h1.8v1.7h1.8v-.6h1.8v-2h1.8v1.6h1.8v-.2h1.8v2.5h1.8v-.6h1.8v.5h1.8v.6h1.8v-1.4h1.8v1h1.8v2.1h1.8v-.9h1.8v.3h1.8v.7h1.8v-.7h1.8v.3h1.8v1.1h1.8v-.5h1.8v.5h1.8h1.8v-1h1.8v-.7h1.8v3.9h1.8v.9h1.8v-1.4h1.8v.9h1.8v.6h1.8v.2h1.8v-1.4h1.8v-1.8h1.8v-.4h1.8v1.3h1.8v2.5h1.8v1.5h1.8v-1.5h1.8v-.6h1.8v1.8h1.8v1.9h1.8v-2.8h1.8v.8h1.8h1.8v-.4h1.8h1.8v.2h1.8v.6h1.8v-1.5h1.8v1.4h1.8v1.7h1.8v.7h1.8v.5h1.8v-.2h1.8v-.1h1.8v2.2h1.8v-1.6h1.8v-.1h1.8v1.4h1.8v-.8h1.8v-1.8h1.8v.3h1.8v.4h1.8v.6h1.8h1.8v1.9h1.8v.5h1.8h1.8v-.9h1.8v1.5h1.8v.6h1.8v1.8h1.8v-2.5h1.8v-.3h1.8v1.8h1.8v-2.1h1.8v.8h1.8v.4h1.8v.1h1.8v-1.1h1.8v.9h1.8v-1.4h1.8v2.7h1.8v-.8h1.8v.5h1.8v.1h1.8v.3h1.8v.2h1.8v.5h1.8v-.7h1.8v.3h1.8v-1.2h1.8v-.3h1.8v.2h1.8v-.1h1.8v-.3h1.8v.8h1.8v1.8h1.8v.6h1.8v-.7h1.8v.7h1.8v.4h1.8v2.9h1.8v-3.8h1.8v.7h1.8v-1.5h1.8v2.5h1.8v-.7h1.8v.6h1.8h1.8v.6h1.8v-3.9h1.8v.5h1.6v1.7" fill="none" stroke="#008000" stroke-width="3.3" stroke-linejoin="miter"/>
</g>
<rect x="1363" y="34.3" width="773.8" height="844.7" fill="none" stroke="#000" stroke-width="3.3"/>
<line x1="1363" y1="879" x2="1363" y2="889" stroke="#000000" stroke-width="3.0" />
<line x1="1556.7" y1="879" x2="1556.7" y2="896.5" stroke="#000000" stroke-width="3.0" />
<line x1="1750.5" y1="879" x2="1750.5" y2="889" stroke="#000000" stroke-width="3.0" />
<line x1="1944.7" y1="879" x2="1944.7" y2="896.5" stroke="#000000" stroke-width="3.0" />
<line x1="2136.8" y1="879" x2="2136.8" y2="889" stroke="#000000" stroke-width="3.0" />
<line x1="1363" y1="327.3" x2="1380" y2="327.3" stroke="#000000" stroke-width="2.8" />
<line x1="1363" y1="671" x2="1373" y2="671" stroke="#000000" stroke-width="2.8" />
<text font-size="45.5" fill="#000000" font-weight="bold" text-anchor="middle" textLength="53.3" lengthAdjust="spacingAndGlyphs" x="1554.8" y="942.5">25</text>
<text font-size="45.5" fill="#000000" font-weight="bold" text-anchor="middle" textLength="53.3" lengthAdjust="spacingAndGlyphs" x="1941.3" y="942.5">30</text>
<text font-size="70.5" fill="#000000" font-weight="bold" textLength="86" lengthAdjust="spacingAndGlyphs" x="1385.5" y="104.8">(b)</text>
<text font-size="66" fill="#000000" font-weight="bold" textLength="443.5" lengthAdjust="spacingAndGlyphs" transform="translate(1343.8 681) rotate(-90)">Intensity (a.u.)</text>
<text font-size="61.5" fill="#000000" font-weight="bold" x="1589" y="1005">2</text>
<text font-size="58" fill="#000000" textLength="34" lengthAdjust="spacingAndGlyphs" font-family='"Liberation Serif", serif' x="1626.5" y="1005">&#952;</text>
<text font-size="61.5" fill="#000000" font-weight="bold" textLength="250.5" lengthAdjust="spacingAndGlyphs" x="1675" y="1005">(degree)</text>
<g clip-path="url(#cc)">
<path d="M647 1794.3l1.6 .4l1.6-1.1l1.6 1.2l1.6-.6l1.6-.3l1.6 0l1.6-.1l1.6 .3l1.6 .4l1.6-.1l1.6 0l1.6-.8l1.6 .1l1.6 1l1.6-.2l1.6 .5l1.6-.4l1.6-.8l1.6 .8l1.6-.2l1.6-.1l1.6-.4l1.6 .3l1.6-.1l1.6 .4l1.6-.3l1.6 .6l1.6-.9l1.6 .5l1.6 0l1.6-.5l1.6-.1l1.6 .4l1.6-.6l1.6-.8l1.6-.2l1.6-.4l1.6 .3l1.6-.3l1.6 .3l1.6 .2l1.6-.4l1.6 .4l1.6-.7l1.6 .3l1.6-.4l1.6 .5l1.6 0l1.6-.1l1.6 0l1.6 .6l1.6 0l1.6-.9l1.6 .8l1.6-1l1.6 .3l1.6 .2l1.6 .1l1.6-.4l1.6 .1l1.6 .3l1.6-.2l1.6 0l1.6 .4l1.6 .1l1.6-.3l1.6 0l1.6 0l1.6-.2l1.6 0l1.6-.1l1.6 .7l1.6-.1l1.6 .3l1.6 .4l1.6 .5l1.6 .8l1.6-.1l1.6 .4l1.6 .8l1.6 .2l1.6 1.3l1.6 .4l1.6 .5l1.6 .3l1.6 .8l1.6 .7l1.6 .3l1.6 .1l1.6 0l1.6 1.3l1.6 0l1.6 .3l1.6 1.1l1.6 .3l1.6-.2l1.6 .9l1.6 .5l1.6 .9l1.6-.6l1.6 1l1.6 .5l1.6 1l1.6-.4l1.6-.2l1.6 1l1.6 .9l1.6 .6l1.6 .7l1.6-.1l1.6 0l1.6 .9l1.6 0l1.6 .2l1.6 .4l1.6 .7l1.6-.5l1.6 .3l1.6 .6l1.6 .2l1.6 0l1.6 .3l1.6 .6l1.6 .6l1.6 0l1.6 .2l1.6 .3l1.6-.9l1.6 .3l1.6 .4l1.6 0l1.6 .2l1.6 .5l1.6-.4l1.6 .5l1.6-.5l1.6 .5l1.6 .9l1.6-.5l1.6 .4l1.6 .2l1.6-.3l1.6 .4l1.6 0l1.6 .2l1.6-.5l1.6-.2l1.6 .1l1.6 .2l1.6 .4l1.6-.3l1.6-.1l1.6 .1l1.6 .4l1.6-.6l1.6 .8l1.6-1l1.6 .2l1.6 .5l1.6-.2l1.6-.5l1.6 .2l1.6-.2l1.6 .5l1.6-.2l1.6-.4l1.6 .3l1.6-.3l1.6 .1l1.6-.1l1.6-.3l1.6 .2l1.6-.2l1.6-.3l1.6 0l1.6-.7l1.6-.7l1.6 0l1.6-.1l1.6-.3l1.6-.1l1.6-.3l1.6-.6l1.6-.2l1.6-.6l1.6 .5l1.6-.7l1.6-.5l1.6-.2l1.6 0l1.6 .5l1.6-.5l1.6-1l1.6 .3l1.6-.2l1.6-.1l1.6-.4l1.6-.7l1.6-.2l1.6-1l1.6-1.3l1.6-.1l1.6-.4l1.6 .4l1.6 .6l1.6 .3l1.6 1.6l1.6 .8l1.6-.3l1.6-.7l1.6 .1l1.6 0l1.6 8.3l1.6 13.3l1.6 10.1l1.6 6.3l1.6 4.2l1.6-.4l1.6-7.8l1.6-7.2l1.6-6l1.6-6l1.6-4l1.6-1.7l1.6-.5l1.6 .4l1.6-.1l1.6 1l1.6 9.2l1.6 10.7l1.6 4.3l1.6-3.4l1.6-7.1l1.6-5.5l1.6-3.3l1.6-2.6l1.6-3.5l1.6-2.2l1.6-1.2l1.6-1.5l1.6-1l1.6-.4l1.6-1l1.6-.5l1.6-.6l1.6-1l1.6-.3l1.6-.5l1.6-.6l1.6-.4l1.6 0l1.6-.5l1.6-.2l1.6-.1l1.6-.3l1.6-1l1.6-.2l1.6 0l1.6-.2l1.6 .1l1.6-.9l1.6-.1l1.6 .1l1.6 .1l1.6-.2l1.6-1l1.6 .1l1.6-.5l1.6 .4l1.6-.3l1.6-.5l1.6-.3l1.6 .1l1.6 0l1.6-.9l1.6 0l1.6-.1l1.6-.2l1.6-.2l1.6-.6l1.6-.1l1.6-.8l1.6 .6l1.6 .1l1.6-1.3l1.6 .3l1.6 .4l1.6-.6l1.6-.8l1.6 .9l1.6-1.1l1.6 .8l1.6-.9l1.6-.2l1.6 .1l1.6-.2l1.6 .1l1.6-.2l1.6-.4l1.6 .4l1.6-.3l1.6-.3l1.6-.2l1.6-.2l1.6-.1l1.6 .2l1.6-.2l1.6-.2l1.6 .3l1.6-.6l1.6 .2l1.6 .1l1.6-.8l1.6 .2l1.6 .6l1.6-1l1.6 .7l1.6-.9l1.6 .5l1.6-.6l1.6 .1l1.6 0l1.6-.1l1.6 .5l1.6-.1l1.6-.1l1.6-.3l1.6 .5l1.6-.3l1.6-.3l1.6-.6l1.6 .6l1.6-.1l1.6-.3l1.6 .2l1.6-.1l1.6-.4l1.6 .2l1.6-.1l1.6-.1l1.6-.3l1.6-.1l1.6 .2l1.6 .4l1.6 .2l1.6-1l1.6-.3l1.6 .2l1.6-.3l1.6 .1l1.6 .2l1.6-.5l1.6 .5l1.6 0l1.6 .2l1.6 0l1.6-.3l1.6 .4l1.6-1.1l1.6 .2l1.6-.1l1.6 .1l1.6 .1l1.6-.5l1.6 .6l1.6-.2l1.6-.3l1.6-.1l1.6-.5l1.6-.6l1.6 .8l1.6 .1l1.6-.1l1.6-.6l1.6 .2l1.6 .7l1.6-.4l1.6-.1l1.6-.4l1.6 .4l1.6 .1l1.6-.2l1.6-.5l1.6 .2l1.6-.5l1.6 .2l1.6 .2l1.6-.4l1.6 0l1.6 .5l1.6-.6l1.6 .3l1.6-.4l1.6-.4l1.6 .4l1.6-.2l1.6-.7l1.6 .3l1.6 .2l1.6 .6l1.6-.8l1.6 .1l1.6 .2l1.6-.2l1.6-.3l1.6 .6l1.6-.2l1.6-1.4l1.6 1.1l1.6-.2l1.6 0l1.6-.4l1.6 .2l1.6 .3l1.6-.2l1.6 0l1.6-.4l1.6-.1l1.6-.1l1.6-.7l1.6 1.1l1.6-.8l1.6 0l1.6-.2l1.6 .1l1.6-.9l1.6 .8l1.6-.6l1.6 .1l1.6-.3l1.6 0l1.6 .8l1.6-.4l1.6 .2l1.6 0l1.6-.4l1.6 .2l1.6-.2l1.6 .3l1.6-.6l1.6 .6l1.6 .5l1.6 .1l1.6 0l1.6-.2l1.6-.6l1.6 .7l1.6-.1l1.6-.1l1.6-.5l1.6 .6l1.6 .4l1.6-.2l1.6-.3l1.6 .3l1.6-.2l1.6 .3l1.6 .7l1.6 .4l1.6 .6l1.6 .8l1.6 .3l1.6 .7l1.6 1.2l1.6 .5l1.6 1.4l1.6 .1l1.6 2l1.6 .3l1.6 1.2l1.6-1.2l1.6 .3l1.6 1.1l1.6-.5l1.6-.1l1.6-.1l1.6-.1l1.6 0l1.6-.8l1.6-.3l1.6-.3l1.6-1.4l1.6-1.2l1.6-.6l1.6-.4l1.6-.9l1.6-.4l1.6-.2l1.6-.2l1.6-.2l1.6-.9l1.6-.2l1.6-.1l1.6-1.3l1.6 .4l1.6-.1l1.6-.5l1.6-.5l1.6 .3l1.6 0l1.6-.6l1.6-.2l1.6-.1l1.6 .6l1.6-.2l1.6 2.5l1.6 11.7l1.6 2.4l1.6-.1l1.6-7.1l1.6-5.3l1.6-1.5l1.6-.4l1.6-.3l1.6-1.2l1.6 1.1l1.6-.9l1.6-.3l1.6-.9l1.6-.2l1.6 .5l1.6-.3l1.6-1.4l1.6 1.1l1.6-.3l1.6-.3l1.6-.7l1.6 .3l1.6-.5l1.6 .3l1.6 .3l1.6-.5l1.6 0l1.6-.6l1.6-.3l1.6 .2l1.6 .3l1.6 0l1.6-.7l1.6 .1l1.6-.4l1.6-.5l1.6 .5l1.6 0l1.6-.3l1.6 0l1.6-.6l1.6 .6l1.6 .5l1.6-.5l1.6 .2l1.6 0l1.6-.4l1.6 .3l1.6-.4l1.6 1.4l1.6-1l1.6-.4l1.6-.2l1.6 1.1l1.6-.3l1.6-.1l1.6-.6l1.6 .3l1.6-.2l1.6 .8l1.6-.5l1.6 .9l1.6-.5l1.6-.3l1.6 .6l1.6-1.1l1.6 .4l1.6 .2l1.6 .6l1.6 .1l1.6-.2l1.6-.6l1.6 .6l1.6 0l1.6 1l1.6-.4l1.6 .5l1.6 .6l1.6-.4l1.6 .4l1.6-.2l1.6 .3l1.6 .1l1.6 .1l1.6 .1l1.6 0l1.6 .8l1.6-.8l1.6 .4l1.6-.1l1.6-.6l1.6 1.3l1.6-.1l1.6-.4l1.6 .5l1.6 0l1.6 1.2l1.6 1.1l1.6 .6l1.6-.1l1.6 .7l1.6 1.6l1.6 1.2l1.6 .4l1.6 1.4l1.6 .3l1.6 1.6l1.6 1.4l1.6 .8l1.6 1.2l1.6 1.4l1.6 .5l1.6 .7l1.6 1.4l1.6 .5l1.6 .2l1.6 1.2l1.6 .4l1.6 1.2l1.6 .7l1.6 .9l1.6 1l1.6 1.8l1.6 1.7l1.6 2.6l1.6 1.3l1.6 1.7l1.6 3.3l1.6 .6l1.6 3.3l1.6 .9l1.6 2.5l1.6 1.1l1.6 2l1.6 1.4l1.6 1.6l1.6 1.8l1.6 1.1l1.6 1.9l1.6 1l1.6 1.6l1.6 1.6l1.6 1.6l1.6 1.9l1.6 .7l1.6 1.5l1.6 1.3l1.6 1.6l1.6 1.6l1.6 .8l1.6 1.3l1.6 1l1.6 1.3l1.6 .2l1.6 1.9l1.6 1l1.6 .2l1.6 1.2l1.6 .5l1.6 1.5l1.6 .8l1.6 1.6l1.6-.1l1.6 .7l1.6 1.1l1.6 .7l1.6 1.5l1.6 1.1l1.6 1.2l1.6 .8l1.6 .7l1.6 1.6l1.6 .8l1.6 1l1.6 .3l1.6 1l1.6 1l1.6 1l1.6 .2l1.6 2l1.6 .3l1.6 1.2l1.6 .7l1.6 1l1.6 .4l1.6 .7l1.6 .3l1.6 1l1.6 1.3l1.6-.5l1.6 1l1.6 1l1.6 1.2l1.6-.3l1.6 .9l1.6 .9l1.6 1.7l1.6-.7l1.6 .9l1.6 .9l1.6 .2l1.6 1l1.6 .7l1.6 .3l1.6 .9l1.6 1.1l1.6 0l1.6 .4l1.6 .4l1.6 .9l1.6 .9l1.6 .2l1.6 .6l1.6 1.3l1.6-.7l1.6 .4l1.6 .9l1.6 .3l1.6 .7l1.6 .7l1.6 .1l.1-.1" fill="none" stroke="#000000" stroke-width="5.7" stroke-linejoin="bevel"/>
<path d="M647 1621.5l1.6 0l1.6 0l1.6 .2l1.6 .7l1.6-1.1l1.6 .8l1.6 .1l1.6-.6l1.6-.1l1.6 .3l1.6 .3l1.6 .3l1.6-.5l1.6 .2l1.6-.7l1.6-.2l1.6-.3l1.6 .1l1.6 .3l1.6 .1l1.6-.5l1.6 .7l1.6-.4l1.6-.2l1.6-.1l1.6 1l1.6-.7l1.6-.4l1.6-.1l1.6 1l1.6-.9l1.6 .6l1.6 0l1.6-1.3l1.6 1.2l1.6-.6l1.6-.3l1.6 .1l1.6 .4l1.6-.1l1.6-.1l1.6-.4l1.6 .7l1.6 0l1.6 .1l1.6-.3l1.6 .2l1.6 .1l1.6-.5l1.6 0l1.6-.1l1.6-.1l1.6 .1l1.6-.9l1.6 .5l1.6 .3l1.6-.9l1.6 .2l1.6 1.1l1.6-1l1.6 .3l1.6 .3l1.6-.3l1.6-.1l1.6 .1l1.6 .1l1.6-.1l1.6 .3l1.6 .6l1.6-.4l1.6 .4l1.6-.2l1.6 0l1.6 0l1.6-.3l1.6 .3l1.6 .1l1.6-.5l1.6 .8l1.6 .1l1.6 .1l1.6-.1l1.6-.5l1.6 1.7l1.6-.3l1.6-.5l1.6 1.3l1.6-.2l1.6 .8l1.6 0l1.6 .7l1.6 0l1.6 .3l1.6 .2l1.6 .7l1.6-.6l1.6 1.2l1.6 .1l1.6-.1l1.6 .5l1.6 .2l1.6 .6l1.6 .7l1.6-.2l1.6 .8l1.6 .5l1.6 .3l1.6 .7l1.6-.2l1.6 .7l1.6 1l1.6-.5l1.6 .4l1.6 .4l1.6 .6l1.6 0l1.6 .5l1.6-.2l1.6 .7l1.6 .4l1.6 .3l1.6 .6l1.6 .8l1.6 0l1.6 0l1.6 1l1.6 .3l1.6-.1l1.6 .9l1.6 0l1.6 .5l1.6 .3l1.6 1l1.6-.2l1.6 .5l1.6 .6l1.6 .7l1.6 .4l1.6-.4l1.6 1.2l1.6 0l1.6 .7l1.6 .3l1.6-.2l1.6 .5l1.6 .3l1.6 .6l1.6 .9l1.6-.2l1.6 .2l1.6 1.5l1.6-.8l1.6 .8l1.6 .3l1.6 0l1.6 1l1.6 .4l1.6-.2l1.6 .2l1.6 0l1.6-.5l1.6 .7l1.6-.5l1.6 .1l1.6 .4l1.6 .2l1.6-.6l1.6 .7l1.6 .2l1.6-.5l1.6-.1l1.6 .1l1.6-.2l1.6-.2l1.6 .5l1.6 .1l1.6-.5l1.6 .1l1.6-.1l1.6 0l1.6-.1l1.6-.2l1.6 .7l1.6-.6l1.6-.2l1.6 .2l1.6-1.2l1.6-.1l1.6-1.2l1.6-.3l1.6 0l1.6-.9l1.6-.9l1.6-.5l1.6 .3l1.6-.9l1.6 .2l1.6-.6l1.6-.6l1.6-.3l1.6-.2l1.6-.6l1.6-.8l1.6 .1l1.6-.6l1.6-.4l1.6-.1l1.6-.4l1.6-.1l1.6-.8l1.6-.4l1.6-.3l1.6-.1l1.6-.8l1.6-.1l1.6-.5l1.6-.3l1.6-.1l1.6 .6l1.6-1.2l1.6 0l1.6-.3l1.6-.4l1.6-.1l1.6 .4l1.6-1l1.6 .4l1.6-.6l1.6-.7l1.6-.2l1.6-.1l1.6-.5l1.6 .6l1.6-.5l1.6-.2l1.6-.7l1.6 .3l1.6-.5l1.6 .8l1.6-1.1l1.6 0l1.6-.2l1.6-.5l1.6-.2l1.6-.1l1.6 .2l1.6-.7l1.6 0l1.6 0l1.6-.5l1.6-.5l1.6-.1l1.6 .1l1.6-.4l1.6 .5l1.6-.5l1.6-.2l1.6-.5l1.6 .3l1.6-.4l1.6-.4l1.6-.1l1.6 .9l1.6-1.2l1.6-.3l1.6 .6l1.6-.3l1.6-.6l1.6 .5l1.6-1.2l1.6 .2l1.6-.5l1.6 .8l1.6-.6l1.6 .7l1.6-.8l1.6-.2l1.6-.7l1.6-.2l1.6 .1l1.6 .4l1.6-.8l1.6-.6l1.6 .9l1.6-.1l1.6-.8l1.6 .3l1.6 .1l1.6-.1l1.6-1l1.6 .4l1.6-.5l1.6 .5l1.6-.4l1.6-.6l1.6 .3l1.6 0l1.6-.8l1.6-.1l1.6 .1l1.6 0l1.6-.2l1.6-.6l1.6 0l1.6 .4l1.6 0l1.6-.6l1.6 .3l1.6 .4l1.6-.8l1.6-.2l1.6-.2l1.6 .3l1.6-.1l1.6-.1l1.6-.3l1.6 .1l1.6 0l1.6-.3l1.6 .4l1.6-1.1l1.6 .8l1.6-.4l1.6 .3l1.6 .3l1.6-.7l1.6-.2l1.6 0l1.6 .4l1.6 0l1.6-.5l1.6 .1l1.6 .3l1.6-.5l1.6-.7l1.6 .2l1.6 0l1.6 .3l1.6-.4l1.6 .6l1.6-.7l1.6 .7l1.6-.8l1.6 .6l1.6-.4l1.6 .4l1.6 .1l1.6-.1l1.6-.3l1.6-.7l1.6 0l1.6-.9l1.6 1.5l1.6-.1l1.6-.1l1.6-.8l1.6 1.3l1.6-1.2l1.6 .5l1.6-.9l1.6 .2l1.6 .6l1.6-.1l1.6-.8l1.6 .3l1.6 .4l1.6-1.1l1.6 .9l1.6-.9l1.6 .7l1.6-.4l1.6 .4l1.6-.6l1.6 0l1.6-.1l1.6-.3l1.6 .2l1.6-.4l1.6 .1l1.6 .4l1.6-.5l1.6 .5l1.6-.2l1.6-.1l1.6-.7l1.6 .4l1.6 .3l1.6-.2l1.6 0l1.6 .1l1.6-1.1l1.6 .7l1.6-.1l1.6-.3l1.6-.4l1.6 .5l1.6-.1l1.6 .7l1.6-.2l1.6-.6l1.6-.3l1.6 .1l1.6 .3l1.6-.3l1.6 1l1.6-1.1l1.6 .4l1.6 .1l1.6 0l1.6-.4l1.6 .2l1.6 .2l1.6 0l1.6-.3l1.6 .1l1.6 .2l1.6 .6l1.6-1.1l1.6 .7l1.6 .3l1.6-1.1l1.6 1l1.6 0l1.6-.5l1.6 .4l1.6 .1l1.6-.5l1.6 .1l1.6-.4l1.6 .1l1.6 .2l1.6 0l1.6 .6l1.6-.6l1.6-.4l1.6 .7l1.6 0l1.6-.1l1.6-.2l1.6-.2l1.6 0l1.6 .8l1.6-.3l1.6-.2l1.6 .1l1.6-.3l1.6 0l1.6 .5l1.6 .7l1.6 .1l1.6 .8l1.6 .6l1.6 1.2l1.6 1.4l1.6 .5l1.6 1.5l1.6 1.4l1.6 2.3l1.6 2.2l1.6 4l1.6 4.7l1.6 6.3l1.6 3.8l1.6 3.7l1.6 3.9l1.6 4.2l1.6 3.6l1.6 3.3l1.6 2.7l1.6 4.6l1.6 3.8l1.6 3.6l1.6 3.4l1.6 2.6l1.6 2.3l1.6 1.2l1.6 1.9l1.6 .2l1.6-.2l1.6-1l1.6-1.4l1.6-1.2l1.6-.1l1.6 .5l1.6 .1l1.6 1l1.6 2l1.6 .5l1.6 .7l1.6-.1l1.6-.4l1.6-1.8l1.6-.6l1.6-1.5l1.6-2.1l1.6 0l1.6-.2l1.6 1l1.6 1.2l1.6 1.5l1.6 2.1l1.6 2.3l1.6 1.8l1.6 1.5l1.6 2.4l1.6 .9l1.6 .9l1.6 1.8l1.6 1.1l1.6 .3l1.6 .9l1.6 .1l1.6-.1l1.6 1.6l1.6 1.4l1.6 2.3l1.6 2.6l1.6 2.8l1.6 2.5l1.6 1.3l1.6-.3l1.6-1.7l1.6-3l1.6-3.7l1.6-3.1l1.6-3.5l1.6-2.8l1.6-3.4l1.6-2.1l1.6-2.4l1.6-1.2l1.6-1l1.6 5.1l1.6 5.7l1.6 4.2l1.6 3.5l1.6 2.7l1.6-.5l1.6-.5l1.6-1.5l1.6-1l1.6-1.2l1.6 .8l1.6 1.3l1.6 1l1.6 3.3l1.6 1.5l1.6 1.4l1.6 3l1.6 2.1l1.6 1.1l1.6 2.8l1.6 1.4l1.6 .8l1.6-1.1l1.6-1.8l1.6-2.6l1.6-3.7l1.6-1.5l1.6-1.9l1.6-2.8l1.6-2l1.6-2.1l1.6-2.5l1.6-1.9l1.6-1.5l1.6-1.6l1.6-.3l1.6-1.7l1.6-1.1l1.6-1l1.6-1.1l1.6-2.6l1.6-1.9l1.6-2.3l1.6-2.8l1.6-3l1.6-1.6l1.6-.2l1.6-.7l1.6-.9l1.6-.5l1.6-.6l1.6-.8l1.6-.6l1.6-.3l1.6-1l1.6-.4l1.6-1.6l1.6-1l1.6 0l1.6-1.3l1.6-.6l1.6-.7l1.6-1.3l1.6-.9l1.6-.2l1.6-1.9l1.6 .4l1.6-1.5l1.6 .3l1.6-.6l1.6-.3l1.6-.2l1.6-.3l1.6-.8l1.6 .5l1.6-.6l1.6-.3l1.6-.9l1.6-.9l1.6-.6l1.6-1l1.6-1.3l1.6-1.5l1.6-1l1.6-1.4l1.6-.6l1.6-1.2l1.6-.3l1.6 .9l1.6 1.5l1.6 2.4l1.6 .9l1.6 1.8l1.6 1.2l1.6-.5l1.6-1.2l1.6-1.4l1.6-.9l1.6 .1l1.6-.2l1.6 .5l1.6-.4l1.6 .5l1.6 .2l1.6 6.4l1.6 11.1l1.6 20.7l1.6 8.6l1.6 1.7l1.6-6l1.6-8.8l1.6-4.7l1.6-2.9l1.6-2.4l1.6-.6l1.6 .2l1.6 .6l1.6-.6l1.6 0l1.6 .8l1.6-1l1.6 .2l1.6 .8l1.6-.2l1.6-.4l1.6 .7l1.6-.1l1.6 1l1.6 .8l1.6-.3l1.6 1.4l1.6 .3l1.6 .1l1.6-.4l1.6 .4l1.6 .4l1.6 .3l1.6 .2l1.6-1l1.6 .6l1.6 0l1.6 .4l1.6 .3l1.6 .9l1.6-.8l1.6 .5l1.6-.2l1.6 0l1.6 .7l1.6-.9l1.6 .6l1.6 .6l1.6 .5l1.6-1.4l1.6-.1l1.6-.1l1.6 .4l1.6 .1l1.6 .1l1.6 .4l1.6-.5l1.6 .3l1.6-.7l1.6 .4l1.6 .2l1.6-.8l1.6 .9l1.6 .3l1.6-.3l1.6 .1l1.6-.1l1.6-.4l1.6 .4l1.6-.4l1.6 .1l1.6-.2l1.6-.3l1.6-.8l1.6 .1l1.6 .4l1.6-.6l1.6-.7l1.6-.5l1.6 .4l1.6-.6l1.6-.8l1.6 .3l1.6 .6l1.6-1.4l1.6 .5l1.6-.4l1.6 .1l1.6-.3l1.6-.3l1.6-.7l.1 .8" fill="none" stroke="#ff0000" stroke-width="5.7" stroke-linejoin="bevel"/>
<path d="M647 1485.2l1.6-.1l1.6-.2l1.6-.8l1.6 1l1.6-1l1.6 1.1l1.6-.2l1.6 .1l1.6 0l1.6-.2l1.6-.4l1.6 .1l1.6 .6l1.6-.8l1.6 .1l1.6-.2l1.6 0l1.6 .1l1.6 .1l1.6-.2l1.6-.1l1.6-.1l1.6 .2l1.6-.5l1.6 .4l1.6 .4l1.6-.7l1.6 .2l1.6 .9l1.6-1.3l1.6-.3l1.6 .4l1.6 .7l1.6 .1l1.6-1.2l1.6 .6l1.6-.2l1.6-.3l1.6-.5l1.6 1l1.6-.7l1.6 .3l1.6-.1l1.6 .6l1.6-.3l1.6-.9l1.6 .3l1.6 .3l1.6-.9l1.6 .3l1.6 .1l1.6-.7l1.6 .1l1.6-.3l1.6 .6l1.6-.4l1.6 .5l1.6-.5l1.6-.1l1.6-.5l1.6-.1l1.6-.6l1.6-.6l1.6 .5l1.6-.2l1.6 .5l1.6-.8l1.6 0l1.6-.1l1.6-.7l1.6 1.1l1.6 .9l1.6-.2l1.6-.3l1.6 1.4l1.6-.1l1.6 .4l1.6 .3l1.6 .4l1.6 .5l1.6-.4l1.6 .8l1.6 .1l1.6 .9l1.6-.5l1.6 1.3l1.6-.1l1.6 .7l1.6-.5l1.6 .9l1.6 .2l1.6-.3l1.6 .8l1.6 .3l1.6 .2l1.6 .4l1.6 .2l1.6 .8l1.6 .7l1.6 0l1.6 .2l1.6 1.3l1.6 0l1.6 .6l1.6 .4l1.6 .3l1.6 .9l1.6 .1l1.6 .7l1.6 0l1.6 .4l1.6 .9l1.6 1.3l1.6-.1l1.6 1.1l1.6 0l1.6 .4l1.6 .2l1.6 .6l1.6 1.2l1.6 .2l1.6-.1l1.6 .5l1.6 1.1l1.6-.2l1.6 1l1.6-.1l1.6 1l1.6 .9l1.6 .2l1.6 .3l1.6 .5l1.6 .4l1.6 .5l1.6 .9l1.6 .5l1.6 .2l1.6-.1l1.6 .8l1.6 .7l1.6 .4l1.6 0l1.6 1.1l1.6 1.1l1.6-.9l1.6 .9l1.6 1l1.6-.2l1.6 .4l1.6 .7l1.6 .7l1.6 .1l1.6 1l1.6-.6l1.6 1.3l1.6 .2l1.6 .2l1.6 .4l1.6 .1l1.6 .5l1.6-.6l1.6 .2l1.6-.5l1.6 .1l1.6 .3l1.6-.4l1.6 .2l1.6-.2l1.6 .3l1.6 .2l1.6 .3l1.6-1l1.6 .6l1.6 .4l1.6 .2l1.6 0l1.6-1.2l1.6 .1l1.6 .1l1.6-.2l1.6-.6l1.6-.4l1.6-.5l1.6-.8l1.6-.2l1.6-.2l1.6-.9l1.6 .1l1.6-1.8l1.6 .4l1.6 .3l1.6-.8l1.6-.3l1.6-.9l1.6-1l1.6-.2l1.6 .2l1.6-1.7l1.6-.2l1.6-.8l1.6 0l1.6-.5l1.6-.1l1.6-.9l1.6 .4l1.6-.8l1.6-.8l1.6-.6l1.6-.6l1.6 .1l1.6 .3l1.6-1.2l1.6-.7l1.6 0l1.6-.6l1.6-.5l1.6-.7l1.6 .3l1.6 .2l1.6-.4l1.6-.4l1.6-.5l1.6-.3l1.6-.1l1.6-.6l1.6-.2l1.6-.5l1.6 .2l1.6-1l1.6 .3l1.6-.2l1.6-.2l1.6-.4l1.6-.6l1.6-.3l1.6-.2l1.6-.2l1.6-.6l1.6 0l1.6-.3l1.6-.3l1.6 .2l1.6-.6l1.6 .1l1.6 .2l1.6-.2l1.6-.8l1.6 .1l1.6-.4l1.6 .5l1.6-.5l1.6-.4l1.6-.7l1.6-.2l1.6 0l1.6-.4l1.6-.3l1.6 .1l1.6-.9l1.6-.5l1.6 .1l1.6-.3l1.6 .2l1.6-.5l1.6 0l1.6-.8l1.6 1l1.6-.6l1.6-.7l1.6 .2l1.6 .1l1.6-.3l1.6-.5l1.6 0l1.6-.1l1.6-.9l1.6-.3l1.6 .1l1.6 .4l1.6-.1l1.6-.6l1.6 .3l1.6-.4l1.6-.5l1.6-.4l1.6-.1l1.6 .1l1.6 .3l1.6-.4l1.6-.9l1.6-.1l1.6 .6l1.6-.4l1.6-.5l1.6 .4l1.6 .1l1.6-.3l1.6-.4l1.6 .3l1.6-.7l1.6-.2l1.6-.3l1.6 .9l1.6-.1l1.6-.9l1.6 .2l1.6-.2l1.6 0l1.6 0l1.6-.3l1.6-.3l1.6-.3l1.6-.3l1.6-.6l1.6 .8l1.6-.4l1.6 .2l1.6-.1l1.6-.4l1.6 .1l1.6 .3l1.6-.2l1.6-.4l1.6-.1l1.6 .4l1.6-.1l1.6-.1l1.6-.2l1.6 .3l1.6-.3l1.6 .8l1.6-1.1l1.6-.2l1.6 .8l1.6-.7l1.6-.3l1.6 .4l1.6-1l1.6 .9l1.6-.2l1.6 .1l1.6-.4l1.6 .7l1.6-.4l1.6-.2l1.6 .1l1.6-.5l1.6 .2l1.6-.5l1.6 .1l1.6 .4l1.6-.1l1.6 .2l1.6-.5l1.6 .1l1.6-.2l1.6 .2l1.6 .2l1.6 0l1.6-.2l1.6-.5l1.6 .3l1.6-.5l1.6-.4l1.6 .7l1.6-.1l1.6 .2l1.6 0l1.6-.8l1.6 0l1.6 .3l1.6-.1l1.6 .1l1.6-.7l1.6 .3l1.6 .2l1.6 .3l1.6-1.2l1.6 1l1.6-.8l1.6-.5l1.6 .9l1.6-.9l1.6-.1l1.6 .5l1.6 .1l1.6-.5l1.6-.3l1.6-.3l1.6 .5l1.6-1l1.6 .3l1.6 .8l1.6-.2l1.6 .2l1.6-.3l1.6-.6l1.6 .6l1.6-.8l1.6 .8l1.6 .3l1.6-.9l1.6 .7l1.6-.3l1.6-.1l1.6-.6l1.6 .6l1.6 .4l1.6-.9l1.6 .4l1.6-.1l1.6-.3l1.6 .9l1.6-.3l1.6 0l1.6 .3l1.6-.6l1.6 1.4l1.6-1.3l1.6-.2l1.6 .6l1.6-.1l1.6-.4l1.6 0l1.6 .6l1.6-.2l1.6 0l1.6 .2l1.6-.5l1.6 .6l1.6-.4l1.6 .2l1.6-.5l1.6 .6l1.6-.2l1.6 .8l1.6-1l1.6 .6l1.6-.3l1.6 .4l1.6-.5l1.6 .1l1.6-1l1.6 .4l1.6 .8l1.6-.2l1.6 .3l1.6 0l1.6 .9l1.6 .2l1.6 .8l1.6 1.2l1.6 .8l1.6 .4l1.6 1.4l1.6 1.5l1.6 1.6l1.6 1.9l1.6 2.2l1.6 4.4l1.6 4.3l1.6 5.1l1.6 5.4l1.6 4.3l1.6 4l1.6 3.4l1.6 3.6l1.6 4.2l1.6 3.9l1.6 3.1l1.6 3.5l1.6 3.2l1.6 3.3l1.6 4.1l1.6 1.3l1.6 2.7l1.6 2.1l1.6 1.3l1.6-.6l1.6-.1l1.6-1l1.6-1.3l1.6-1l1.6-.2l1.6 0l1.6 2l1.6 1l1.6 .9l1.6 1.2l1.6 .1l1.6-.7l1.6-1l1.6-1.1l1.6-2l1.6-1l1.6-1l1.6-1.2l1.6 .9l1.6 .2l1.6 1.5l1.6 1.6l1.6 1.4l1.6 2.3l1.6 1.6l1.6 1.4l1.6 .7l1.6 3.3l1.6 1l1.6 1.1l1.6 .8l1.6 .4l1.6 .7l1.6 .8l1.6 .1l1.6 1.5l1.6 1.4l1.6 2.3l1.6 2.1l1.6 2.3l1.6 1.8l1.6 .4l1.6-.2l1.6-1.6l1.6-3.7l1.6-2l1.6-3.3l1.6-3.6l1.6-2.9l1.6-2.6l1.6-2l1.6-.7l1.6-.6l1.6 3l1.6 6.7l1.6 2.5l1.6 3.4l1.6 3.1l1.6 .4l1.6-.5l1.6-2l1.6-1.6l1.6-.6l1.6 .1l1.6 .7l1.6 2l1.6 2.3l1.6 1.7l1.6 1.8l1.6 2.2l1.6 2l1.6 1.9l1.6 1.8l1.6 2l1.6 1.2l1.6-.2l1.6-1.4l1.6-2.4l1.6-1.4l1.6-1.6l1.6-1.6l1.6-2.7l1.6-1.6l1.6-1.4l1.6-1.5l1.6-1.4l1.6-.3l1.6-.8l1.6 .1l1.6-.9l1.6-.1l1.6-1.2l1.6 .3l1.6-.9l1.6-.6l1.6-1.9l1.6-1.3l1.6-2.5l1.6-1.9l1.6-.7l1.6-1.2l1.6-1.6l1.6-1.4l1.6-.4l1.6-.9l1.6-1.2l1.6-1.2l1.6-1l1.6-.4l1.6-1.2l1.6-1.6l1.6-1l1.6-.4l1.6-1l1.6-1.6l1.6-1.2l1.6-.4l1.6-1.4l1.6-.3l1.6-1.3l1.6-.5l1.6-.8l1.6 .1l1.6-.6l1.6-.9l1.6 .1l1.6-.8l1.6-.5l1.6-.2l1.6-1l1.6-1.3l1.6-1.6l1.6-1.6l1.6-1.3l1.6-1.2l1.6-.7l1.6-1.9l1.6-1.1l1.6-1l1.6-.5l1.6 .4l1.6 1l1.6 .7l1.6 1.8l1.6 .8l1.6 .7l1.6 .2l1.6-.5l1.6-1.3l1.6-1.3l1.6-2l1.6-.8l1.6-.2l1.6 .6l1.6-.3l1.6 1.3l1.6 .3l1.6 6.7l1.6 13.2l1.6 17.5l1.6 9.6l1.6 2.1l1.6-4.9l1.6-6.6l1.6-3.2l1.6-4l1.6-1.7l1.6-1.2l1.6 .4l1.6-.8l1.6 .9l1.6 0l1.6-.7l1.6 .8l1.6 .5l1.6-.8l1.6 0l1.6 .4l1.6 .5l1.6 .9l1.6 .7l1.6-.3l1.6 .5l1.6 0l1.6 .7l1.6 .8l1.6-.6l1.6 1.3l1.6 .4l1.6 .4l1.6-.3l1.6 0l1.6 .7l1.6 .1l1.6 0l1.6 .7l1.6 0l1.6 1.5l1.6-.2l1.6 .3l1.6-.5l1.6 1l1.6-.5l1.6 .6l1.6-.6l1.6 .7l1.6-.7l1.6 .6l1.6 0l1.6-.3l1.6 .6l1.6-.1l1.6 .1l1.6 .5l1.6 .2l1.6-.4l1.6 .5l1.6 0l1.6-.1l1.6 .4l1.6-1.1l1.6 1.1l1.6-.3l1.6-.3l1.6 .1l1.6 .4l1.6 .1l1.6-.1l1.6-.8l1.6-.3l1.6 .3l1.6-.2l1.6-.8l1.6 .1l1.6-.4l1.6-.3l1.6-.6l1.6 .6l1.6-.1l1.6 .2l1.6-.4l1.6-.5l1.6 .5l1.6 .2l1.6-.3l1.6-.4l1.6 .6l1.6 0l.1-.6" fill="none" stroke="#0000ff" stroke-width="5.7" stroke-linejoin="bevel"/>
<path d="M647 1335.1l1.6-.4l1.6-.5l1.6 .3l1.6 0l1.6 0l1.6 .3l1.6-.6l1.6 .7l1.6-.7l1.6 .3l1.6 .4l1.6-.1l1.6-.4l1.6 .8l1.6-.5l1.6-.4l1.6 .3l1.6-.3l1.6 .5l1.6-.7l1.6 .7l1.6-.8l1.6 1l1.6-.3l1.6 .4l1.6-.7l1.6-.5l1.6 .2l1.6 .4l1.6 .8l1.6-.5l1.6 .3l1.6-.8l1.6 .1l1.6 .1l1.6 .5l1.6-.6l1.6 .1l1.6 .2l1.6-2.1l1.6-.6l1.6-.5l1.6 .4l1.6 .4l1.6 .1l1.6-.9l1.6-.4l1.6 1.1l1.6 .4l1.6-.8l1.6 .3l1.6-.1l1.6-.8l1.6-.1l1.6 .9l1.6 .2l1.6-.7l1.6 .4l1.6-.2l1.6 0l1.6-.2l1.6 .9l1.6-.4l1.6-.1l1.6-.1l1.6 .3l1.6-.3l1.6 .3l1.6-.4l1.6 .4l1.6-.2l1.6 .3l1.6-.8l1.6 .3l1.6-.1l1.6 1l1.6-.7l1.6 .4l1.6-.4l1.6 .6l1.6 0l1.6 .9l1.6 .1l1.6 1.2l1.6-.4l1.6 1.1l1.6 0l1.6 .7l1.6-.1l1.6 .7l1.6 .4l1.6 .2l1.6 .8l1.6-.4l1.6 .9l1.6 .3l1.6 .5l1.6-.1l1.6 1l1.6-.1l1.6 .5l1.6 .2l1.6 .6l1.6 .7l1.6 1.2l1.6-1.5l1.6 1.6l1.6 .4l1.6 .6l1.6 0l1.6 .4l1.6 .9l1.6-.2l1.6 .4l1.6 .4l1.6 .5l1.6 .9l1.6-.6l1.6 1.1l1.6-.8l1.6 1.3l1.6 .1l1.6 1l1.6 .2l1.6 .4l1.6 .3l1.6 .3l1.6-.4l1.6 1.2l1.6-.2l1.6 1.2l1.6-.2l1.6 .6l1.6 .2l1.6 .6l1.6 .4l1.6 .5l1.6-.3l1.6 1.4l1.6-.6l1.6 .7l1.6-.6l1.6 1.4l1.6 .6l1.6 .4l1.6 .1l1.6 .3l1.6 0l1.6 .5l1.6 .4l1.6 .5l1.6 0l1.6 .6l1.6 .7l1.6 .2l1.6 .3l1.6 .1l1.6 .7l1.6 .3l1.6 .7l1.6-.3l1.6 .6l1.6-.6l1.6 1.2l1.6-.9l1.6 .5l1.6-.1l1.6-.1l1.6 .1l1.6-.1l1.6 .2l1.6 0l1.6 .2l1.6-.1l1.6 .1l1.6-.6l1.6-.6l1.6 1l1.6-.8l1.6-1.2l1.6 1l1.6-.5l1.6-.4l1.6-.1l1.6 0l1.6-.5l1.6 .1l1.6-.5l1.6-.4l1.6-.2l1.6-.5l1.6-.1l1.6-.9l1.6-1l1.6-.2l1.6 0l1.6-.5l1.6-1.3l1.6 0l1.6-.8l1.6-.4l1.6-.9l1.6-.5l1.6 0l1.6-.3l1.6-.3l1.6-1l1.6-.2l1.6-.2l1.6-.4l1.6-1.2l1.6 .5l1.6 .3l1.6 .7l1.6 .7l1.6 1.7l1.6-1.8l1.6 .2l1.6-2l1.6-.3l1.6-.8l1.6-.5l1.6-.1l1.6-.2l1.6-.7l1.6 .4l1.6-.7l1.6 0l1.6-.5l1.6-.2l1.6 0l1.6-.6l1.6 .5l1.6-.9l1.6 .5l1.6-.8l1.6 .2l1.6-.4l1.6 .5l1.6-.1l1.6-.9l1.6 .1l1.6-.3l1.6-.1l1.6-.1l1.6 .1l1.6-.8l1.6-.9l1.6 .7l1.6-.6l1.6-.2l1.6 .3l1.6-.1l1.6-.7l1.6 .2l1.6-.4l1.6-.1l1.6-.5l1.6 .3l1.6-.9l1.6 .1l1.6 .1l1.6-.9l1.6 .3l1.6-.1l1.6-.1l1.6 .1l1.6-1.5l1.6 .9l1.6-.4l1.6 .1l1.6-.3l1.6-.7l1.6-.1l1.6-.3l1.6 .6l1.6-.9l1.6 .2l1.6-.4l1.6-.8l1.6 .4l1.6-.1l1.6 .4l1.6-.8l1.6-.5l1.6 0l1.6 .4l1.6-.3l1.6-.2l1.6-.1l1.6-.7l1.6 .5l1.6-.4l1.6-1l1.6 .4l1.6 .5l1.6-.8l1.6-.1l1.6 .1l1.6-.1l1.6-.2l1.6 .1l1.6-.6l1.6-.4l1.6 .4l1.6-.1l1.6 .3l1.6 .3l1.6-.7l1.6 .1l1.6 .1l1.6-.4l1.6-.1l1.6-.7l1.6 .1l1.6-.2l1.6 .1l1.6 .4l1.6-.2l1.6-.3l1.6-.9l1.6 .9l1.6-.1l1.6-.7l1.6 .4l1.6-.2l1.6 .2l1.6-1l1.6 .2l1.6 .9l1.6-.9l1.6 0l1.6 .1l1.6 .2l1.6 .3l1.6-.6l1.6 .3l1.6-.2l1.6-.4l1.6 .7l1.6-.2l1.6-.5l1.6 0l1.6-.4l1.6-.2l1.6 .5l1.6 .4l1.6-1.5l1.6 .8l1.6 .9l1.6-.1l1.6-1l1.6 .1l1.6 .7l1.6-.9l1.6 .3l1.6-.3l1.6 .4l1.6-.1l1.6 .5l1.6-1l1.6-.3l1.6 .4l1.6 .2l1.6-.3l1.6 1l1.6-1.1l1.6 0l1.6 .3l1.6 .3l1.6-.7l1.6 .1l1.6-.8l1.6 0l1.6 .3l1.6 .1l1.6-.3l1.6-.1l1.6 0l1.6-.5l1.6-.2l1.6-.1l1.6-.6l1.6 .1l1.6-.1l1.6 .3l1.6 .6l1.6-.8l1.6 .4l1.6-1.2l1.6 .1l1.6 0l1.6 .4l1.6 .2l1.6-.5l1.6-.2l1.6-.1l1.6-.3l1.6 .4l1.6-.1l1.6-.1l1.6-.3l1.6 .3l1.6-.1l1.6-.2l1.6 .7l1.6-.4l1.6 .2l1.6-.6l1.6 .2l1.6-.1l1.6-.1l1.6 .4l1.6-.1l1.6-.3l1.6 .1l1.6 .3l1.6 0l1.6 .6l1.6-1.4l1.6 1.1l1.6-.1l1.6 0l1.6-.5l1.6 0l1.6-.4l1.6 .9l1.6-.4l1.6 0l1.6 .8l1.6-1l1.6 .4l1.6 .2l1.6-.3l1.6 .2l1.6 0l1.6 0l1.6-.5l1.6 0l1.6 .8l1.6-.2l1.6-.3l1.6-.1l1.6 .7l1.6-.6l1.6 0l1.6 1.1l1.6-.2l1.6 .8l1.6 .8l1.6 .2l1.6 1.2l1.6 .8l1.6 1.1l1.6 .9l1.6 1.9l1.6 1.1l1.6 1.6l1.6 2.7l1.6 3.6l1.6 4.2l1.6 6.3l1.6 3.6l1.6 3.8l1.6 4.5l1.6 3.3l1.6 4.1l1.6 3.3l1.6 3.4l1.6 2.7l1.6 3.7l1.6 3l1.6 3.7l1.6 2l1.6 1.3l1.6 1.2l1.6 1l1.6 .7l1.6 .5l1.6-.7l1.6-1.1l1.6-1.5l1.6 .1l1.6-.8l1.6 .3l1.6 .6l1.6 1.9l1.6 .2l1.6 .7l1.6-.6l1.6-.1l1.6-1.4l1.6-1.2l1.6-1.3l1.6-.2l1.6 .3l1.6-.5l1.6 .4l1.6 1.7l1.6 1l1.6 2.3l1.6 .9l1.6 1.5l1.6 2.1l1.6 .7l1.6 2.3l1.6 1l1.6 1.9l1.6 .1l1.6 .8l1.6 1.2l1.6-.4l1.6 .7l1.6 .3l1.6 1.7l1.6 1.6l1.6 1.9l1.6 2.4l1.6 1.1l1.6 .9l1.6-1.4l1.6-.4l1.6-2.1l1.6-3.9l1.6-1.6l1.6-3l1.6-3.1l1.6-3.1l1.6-1l1.6-2.8l1.6 .1l1.6-1.3l1.6 3.9l1.6 3.7l1.6 3l1.6 3.3l1.6 3l1.6 1.5l1.6 0l1.6-2.4l1.6-.1l1.6-.1l1.6 .4l1.6 1.1l1.6 1.2l1.6 1.1l1.6 1.4l1.6 1.7l1.6 1.6l1.6 2.6l1.6 2l1.6 2.6l1.6 1.6l1.6 .7l1.6-.6l1.6-1.6l1.6-2.1l1.6-2.4l1.6-1.8l1.6-1.6l1.6-2.4l1.6-.9l1.6-2.9l1.6-1.3l1.6-1.1l1.6-1.1l1.6-1.5l1.6-1.2l1.6-1.5l1.6-.4l1.6-1.2l1.6-1.6l1.6-1l1.6-1.3l1.6-2.6l1.6-2.6l1.6-2.1l1.6-1.5l1.6-.9l1.6-.8l1.6-.4l1.6-.7l1.6-.5l1.6-.7l1.6 .2l1.6-1.1l1.6-.7l1.6-1.1l1.6-.8l1.6-1.1l1.6-.9l1.6-.3l1.6-.5l1.6-2.2l1.6-.5l1.6-.8l1.6-.8l1.6-.2l1.6-.4l1.6-.6l1.6 .2l1.6-1l1.6 .8l1.6-.5l1.6-.7l1.6-.5l1.6-.4l1.6-.1l1.6 .1l1.6-.8l1.6-.7l1.6-1.5l1.6-.4l1.6-.5l1.6-.9l1.6-.8l1.6-1.2l1.6-1.1l1.6-.8l1.6-.3l1.6 .4l1.6 1.8l1.6 .9l1.6 2l1.6 .5l1.6 .6l1.6 .4l1.6-.9l1.6-2l1.6-.9l1.6-.6l1.6-1l1.6 .6l1.6-.3l1.6 .9l1.6 1l1.6 5.5l1.6 10.8l1.6 18.3l1.6 7.5l1.6 1.2l1.6-4.3l1.6-6.4l1.6-2.9l1.6-2.6l1.6-1.8l1.6-.9l1.6-.1l1.6 .1l1.6-.5l1.6-.7l1.6 .6l1.6-.2l1.6-.8l1.6 1.1l1.6 0l1.6 .6l1.6 .2l1.6 .7l1.6 .3l1.6-.2l1.6 0l1.6 .9l1.6 .8l1.6-.2l1.6 .3l1.6 .3l1.6 .1l1.6 .2l1.6 .3l1.6 .3l1.6-.1l1.6 1.3l1.6-.7l1.6 1l1.6-.4l1.6 .8l1.6-.1l1.6 .3l1.6 .7l1.6-.4l1.6-.3l1.6 .1l1.6-.3l1.6 .1l1.6 .2l1.6 .7l1.6-.4l1.6 .4l1.6-.5l1.6 0l1.6 .2l1.6-.1l1.6 .3l1.6 .8l1.6-.7l1.6 .3l1.6-.2l1.6-.4l1.6-.1l1.6 .8l1.6-.4l1.6 .3l1.6-.5l1.6-.2l1.6 .6l1.6-.1l1.6-.5l1.6 .7l1.6 .2l1.6-.5l1.6 .1l1.6-.3l1.6 0l1.6 .2l1.6 .2l1.6-.5l1.6-.1l1.6-.2l1.6 .2l1.6 .1l1.6-.4l1.6-.4l1.6 .7l1.6-.2l1.6-.5l1.6 .6l.1-.5" fill="none" stroke="#ff8000" stroke-width="5.7" stroke-linejoin="bevel"/>
<path d="M647 1167.6l1.6-.1l1.6-.2l1.6-.6l1.6 .8l1.6 .3l1.6 .1l1.6-.6l1.6 1l1.6-.1l1.6-.8l1.6 0l1.6 .4l1.6-.4l1.6 .2l1.6 .3l1.6 0l1.6-.6l1.6 0l1.6 0l1.6 .2l1.6 0l1.6-.1l1.6 .4l1.6-.3l1.6 0l1.6-.7l1.6 .2l1.6 .3l1.6 .3l1.6-.4l1.6 .8l1.6-.4l1.6 0l1.6-.1l1.6 .2l1.6 .1l1.6-.5l1.6 .7l1.6-1.2l1.6-.4l1.6-.9l1.6-.1l1.6 .3l1.6-.1l1.6 .5l1.6-.8l1.6 .4l1.6 0l1.6 .5l1.6-.1l1.6-.4l1.6 .4l1.6-.3l1.6-.6l1.6 .4l1.6 .3l1.6-.6l1.6 .7l1.6-.4l1.6-.3l1.6 .4l1.6-.7l1.6 .3l1.6-.2l1.6 .6l1.6-.6l1.6-.1l1.6 .6l1.6-.3l1.6-.1l1.6 .1l1.6 .6l1.6-.3l1.6-.3l1.6 1.3l1.6-.7l1.6 .7l1.6 0l1.6 .4l1.6-.5l1.6 .5l1.6 .8l1.6 .2l1.6 .5l1.6 .8l1.6-.7l1.6 1.2l1.6 1.1l1.6-.2l1.6 .7l1.6 .5l1.6 .4l1.6 .5l1.6-.1l1.6 .9l1.6 .1l1.6 1.2l1.6-.3l1.6 .7l1.6 .4l1.6 .9l1.6 .1l1.6 .7l1.6 0l1.6 .6l1.6 .3l1.6 .8l1.6 .4l1.6 .2l1.6 .4l1.6 1l1.6 .4l1.6 .3l1.6 .3l1.6 .4l1.6 .9l1.6 .2l1.6 .4l1.6 .4l1.6 .5l1.6 .4l1.6 .5l1.6-.3l1.6 .9l1.6 0l1.6 .6l1.6 .9l1.6-.7l1.6 .5l1.6 .6l1.6-.3l1.6 1.9l1.6-.7l1.6 1.1l1.6-.3l1.6 .7l1.6 .2l1.6-.1l1.6 .6l1.6-.1l1.6 .3l1.6 1l1.6-.5l1.6 .3l1.6 1.5l1.6-.7l1.6 .6l1.6 .8l1.6-.3l1.6 .3l1.6 1.3l1.6-.3l1.6 .5l1.6 .1l1.6 .7l1.6-.5l1.6 .9l1.6 .5l1.6 .1l1.6-.4l1.6 .4l1.6 .5l1.6-.7l1.6 .2l1.6-.3l1.6-.5l1.6 .9l1.6-.6l1.6 .1l1.6 .2l1.6 0l1.6 0l1.6 .4l1.6-.4l1.6 0l1.6-.4l1.6 .7l1.6-.7l1.6-.4l1.6 .4l1.6 .3l1.6-.4l1.6-.1l1.6-.7l1.6-.5l1.6-.5l1.6-.9l1.6-.4l1.6-.6l1.6-.3l1.6-.9l1.6-.3l1.6-.2l1.6-.6l1.6-.5l1.6-.5l1.6-.9l1.6-.5l1.6-.4l1.6 .1l1.6-.6l1.6-.6l1.6-.4l1.6-.4l1.6-1.5l1.6 .2l1.6 .1l1.6 0l1.6-.8l1.6 .2l1.6-.4l1.6-.6l1.6-.7l1.6-.2l1.6 .2l1.6 .1l1.6 .4l1.6 1.6l1.6 .5l1.6-.9l1.6-.9l1.6-.7l1.6-1.2l1.6-.1l1.6 .2l1.6-.1l1.6-.5l1.6-.3l1.6-.1l1.6-.1l1.6-.3l1.6-.9l1.6 .6l1.6 0l1.6-.4l1.6 .6l1.6-1.4l1.6-.3l1.6 1.6l1.6-1.8l1.6-.7l1.6 .5l1.6 .3l1.6-.8l1.6-.1l1.6 .2l1.6 .2l1.6-.6l1.6-.4l1.6-.5l1.6 .2l1.6 .5l1.6-1.6l1.6-.2l1.6 .1l1.6 .2l1.6-.3l1.6-.5l1.6-.3l1.6 .5l1.6-.5l1.6 .1l1.6-.8l1.6 .3l1.6-.8l1.6 .8l1.6-1l1.6-.2l1.6 .1l1.6-.4l1.6-.3l1.6 .2l1.6-.5l1.6 .8l1.6-1.1l1.6 .4l1.6-.7l1.6-.5l1.6-.3l1.6 .6l1.6-.6l1.6 .4l1.6-.4l1.6 .1l1.6-.1l1.6 .5l1.6-.8l1.6-.6l1.6-.4l1.6 1l1.6-.4l1.6 .3l1.6-1.1l1.6 .3l1.6-.3l1.6 .4l1.6-.4l1.6 .5l1.6-.8l1.6 0l1.6-.3l1.6 .3l1.6 .2l1.6-.3l1.6-.5l1.6-.3l1.6 0l1.6 .3l1.6-.4l1.6 .1l1.6 .3l1.6-.3l1.6-.2l1.6-.3l1.6 0l1.6-.1l1.6 0l1.6-.2l1.6 .1l1.6-.4l1.6 .6l1.6-.4l1.6-.1l1.6 .2l1.6-.8l1.6-.1l1.6-.2l1.6 .2l1.6 .4l1.6-.2l1.6 .4l1.6-1.1l1.6 .6l1.6-.7l1.6 0l1.6-.1l1.6 .8l1.6-.4l1.6 .4l1.6-.5l1.6 .2l1.6-.1l1.6-.1l1.6-.1l1.6 .2l1.6-.3l1.6-.1l1.6 0l1.6-.3l1.6-.3l1.6 .2l1.6 .8l1.6-.6l1.6-.4l1.6 .2l1.6 .4l1.6 .3l1.6-1.3l1.6 0l1.6-.2l1.6 .5l1.6-.2l1.6 .7l1.6-.2l1.6-.5l1.6 1l1.6-1.1l1.6 .3l1.6 .1l1.6-.7l1.6 .4l1.6 0l1.6-.3l1.6 .3l1.6-.4l1.6-.2l1.6 .4l1.6-.5l1.6 .3l1.6-.4l1.6 .3l1.6-.2l1.6-.6l1.6 .5l1.6-.4l1.6 .7l1.6-.8l1.6 .4l1.6-1.2l1.6 .6l1.6-.5l1.6 .5l1.6-.3l1.6 .7l1.6-.3l1.6 .2l1.6-.9l1.6-.5l1.6 .7l1.6 .5l1.6-.5l1.6 .5l1.6-.8l1.6-.2l1.6 .4l1.6 .1l1.6-.5l1.6-.2l1.6-.1l1.6 .9l1.6-1.5l1.6 1.1l1.6-.5l1.6 .6l1.6-.3l1.6-.7l1.6 .4l1.6-.3l1.6 0l1.6-.4l1.6 1l1.6-1.2l1.6 .8l1.6 .6l1.6-.5l1.6 .4l1.6-.3l1.6 .2l1.6-.8l1.6 .4l1.6 .1l1.6-.1l1.6-.4l1.6 0l1.6 .3l1.6 .2l1.6-.1l1.6-.7l1.6 .4l1.6 0l1.6 .3l1.6-.4l1.6 .3l1.6-.4l1.6 .3l1.6 .6l1.6 .3l1.6-.4l1.6 1l1.6 .2l1.6 1.4l1.6 .1l1.6 .6l1.6 1.4l1.6-.6l1.6 1.9l1.6 2l1.6 1.5l1.6 2.4l1.6 3.4l1.6 4.9l1.6 5.3l1.6 5l1.6 4.5l1.6 2.9l1.6 4.7l1.6 3l1.6 4.4l1.6 4.1l1.6 3.2l1.6 4.2l1.6 3.7l1.6 4.1l1.6 2.1l1.6 1.6l1.6 1.3l1.6 1.8l1.6 1.4l1.6 .9l1.6-1l1.6-1.1l1.6-1.1l1.6-.7l1.6-.1l1.6 .5l1.6 .7l1.6 1.2l1.6 .6l1.6 .6l1.6-1.3l1.6 .1l1.6-1.3l1.6-1l1.6-1l1.6-.9l1.6-.8l1.6 .3l1.6 .7l1.6 1.2l1.6 1.8l1.6 1.4l1.6 1.2l1.6 2.2l1.6 1.7l1.6 1.8l1.6 1.1l1.6 2.7l1.6 1.8l1.6 .6l1.6 1.1l1.6 .6l1.6 .5l1.6-.5l1.6 1.4l1.6 .7l1.6 1.5l1.6 2.9l1.6 2.2l1.6 2.4l1.6 1.1l1.6-.5l1.6-.7l1.6-1.9l1.6-3.3l1.6-2.2l1.6-3.4l1.6-4.1l1.6-4.6l1.6-3.1l1.6-2.2l1.6-2l1.6 1.1l1.6 4l1.6 5.3l1.6 4.2l1.6 4.7l1.6 2.3l1.6 .3l1.6-1.1l1.6-1.6l1.6-.3l1.6-.5l1.6 .5l1.6 1l1.6 2.1l1.6 1.2l1.6 1.5l1.6 1.4l1.6 1.6l1.6 2.8l1.6 1.2l1.6 3.3l1.6 .3l1.6 1.1l1.6-1.1l1.6-1.8l1.6-2.7l1.6-2.9l1.6-1.8l1.6-3.2l1.6-1.7l1.6-2.4l1.6-1.7l1.6-2.2l1.6-1.8l1.6-1.2l1.6-1.4l1.6-1l1.6-1.1l1.6-1.4l1.6-1.2l1.6-1.6l1.6-1.2l1.6-2.1l1.6-2.7l1.6-3.1l1.6-3.4l1.6-1.5l1.6-1.4l1.6-2l1.6-.3l1.6-.5l1.6-.7l1.6-1l1.6-.7l1.6-1.5l1.6 .2l1.6-2l1.6 .1l1.6-1.3l1.6-.6l1.6-.9l1.6-1.4l1.6-.2l1.6-2.1l1.6-1.2l1.6 0l1.6-.9l1.6 .4l1.6-.9l1.6-.4l1.6-.2l1.6-.2l1.6-1.3l1.6 0l1.6-.3l1.6 .8l1.6-1.3l1.6-.5l1.6 0l1.6-1l1.6-.9l1.6-1l1.6-.8l1.6-.4l1.6-.7l1.6-1l1.6-.8l1.6-.9l1.6 .8l1.6 .6l1.6 .7l1.6 1.5l1.6 1.9l1.6 .9l1.6-.1l1.6 .2l1.6-.3l1.6-1.5l1.6-.6l1.6 .3l1.6-.2l1.6 .5l1.6 .9l1.6-.2l1.6 1.4l1.6 6.5l1.6 9.7l1.6 23.1l1.6 7.3l1.6 1.9l1.6-5.9l1.6-7.5l1.6-3.8l1.6-3.7l1.6-1.7l1.6-.1l1.6 .1l1.6 .3l1.6-.4l1.6 .2l1.6 .1l1.6 0l1.6 .6l1.6 .3l1.6-.8l1.6 1.2l1.6-.2l1.6 1.5l1.6 .6l1.6 .3l1.6 1.5l1.6-.6l1.6 1l1.6 .1l1.6 .4l1.6-.2l1.6 1l1.6 .7l1.6-.2l1.6 .9l1.6-.2l1.6 .3l1.6 .1l1.6 .3l1.6 .2l1.6 .7l1.6-.2l1.6 .5l1.6 .3l1.6 .2l1.6-.1l1.6-.3l1.6 1.1l1.6 .1l1.6 .6l1.6-.2l1.6 .1l1.6 0l1.6 .7l1.6-.3l1.6 .5l1.6 .2l1.6 .1l1.6-.2l1.6 1.4l1.6-.1l1.6-.6l1.6 .2l1.6 .1l1.6 .5l1.6 .5l1.6-.3l1.6 .4l1.6 .3l1.6-.5l1.6 0l1.6 0l1.6-.1l1.6 .2l1.6 0l1.6 .2l1.6-.8l1.6-.4l1.6-.2l1.6-.7l1.6 .5l1.6-.7l1.6 .1l1.6-.6l1.6-.5l1.6 .4l1.6-.8l1.6-.4l1.6-.2l1.6-1.2l1.6 .1l.1 .2" fill="none" stroke="#008000" stroke-width="5.7" stroke-linejoin="bevel"/>
</g>
<path d="M796 1130.6H997.5V1720.7H796Z" fill="none" stroke="#7030a0" stroke-width="5.3" stroke-dasharray="5.3 6.7"/>
<path d="M1380 1157H1581.8V1747H1380Z" fill="none" stroke="#000" stroke-width="5.3" stroke-dasharray="5.3 6.7"/>
<path d="M1632 1186H1712.2V1779.2H1632Z" fill="none" stroke="#00b050" stroke-width="5.3" stroke-dasharray="5.3 6.7"/>
<rect x="647" y="1052.8" width="1164" height="858.7" fill="none" stroke="#000" stroke-width="3.8"/>
<line x1="646.8" y1="1911.5" x2="646.8" y2="1929" stroke="#000000" stroke-width="3.0" />
<line x1="727" y1="1911.5" x2="727" y2="1921.5" stroke="#000000" stroke-width="3.0" />
<line x1="807.2" y1="1911.5" x2="807.2" y2="1929" stroke="#000000" stroke-width="3.0" />
<line x1="887.4" y1="1911.5" x2="887.4" y2="1921.5" stroke="#000000" stroke-width="3.0" />
<line x1="967.7" y1="1911.5" x2="967.7" y2="1929" stroke="#000000" stroke-width="3.0" />
<line x1="1047.9" y1="1911.5" x2="1047.9" y2="1921.5" stroke="#000000" stroke-width="3.0" />
<line x1="1128.1" y1="1911.5" x2="1128.1" y2="1929" stroke="#000000" stroke-width="3.0" />
<line x1="1208.3" y1="1911.5" x2="1208.3" y2="1921.5" stroke="#000000" stroke-width="3.0" />
<line x1="1288.5" y1="1911.5" x2="1288.5" y2="1929" stroke="#000000" stroke-width="3.0" />
<line x1="1368.7" y1="1911.5" x2="1368.7" y2="1921.5" stroke="#000000" stroke-width="3.0" />
<line x1="1448.9" y1="1911.5" x2="1448.9" y2="1929" stroke="#000000" stroke-width="3.0" />
<line x1="1529.2" y1="1911.5" x2="1529.2" y2="1921.5" stroke="#000000" stroke-width="3.0" />
<line x1="1609.4" y1="1911.5" x2="1609.4" y2="1929" stroke="#000000" stroke-width="3.0" />
<line x1="1689.6" y1="1911.5" x2="1689.6" y2="1921.5" stroke="#000000" stroke-width="3.0" />
<line x1="1769.8" y1="1911.5" x2="1769.8" y2="1929" stroke="#000000" stroke-width="3.0" />
<line x1="647" y1="1143.3" x2="657" y2="1143.3" stroke="#000000" stroke-width="2.8" />
<line x1="647" y1="1321.5" x2="657" y2="1321.5" stroke="#000000" stroke-width="2.8" />
<line x1="647" y1="1500" x2="657" y2="1500" stroke="#000000" stroke-width="2.8" />
<line x1="647" y1="1679" x2="657" y2="1679" stroke="#000000" stroke-width="2.8" />
<line x1="647" y1="1858" x2="657" y2="1858" stroke="#000000" stroke-width="2.8" />
<text font-size="45" fill="#000000" font-weight="bold" text-anchor="middle" x="646.3" y="1974">4000</text>
<text font-size="45" fill="#000000" font-weight="bold" text-anchor="middle" x="806.7" y="1974">3500</text>
<text font-size="45" fill="#000000" font-weight="bold" text-anchor="middle" x="967.2" y="1974">3000</text>
<text font-size="45" fill="#000000" font-weight="bold" text-anchor="middle" x="1127.6" y="1974">2500</text>
<text font-size="45" fill="#000000" font-weight="bold" text-anchor="middle" x="1288" y="1974">2000</text>
<text font-size="45" fill="#000000" font-weight="bold" text-anchor="middle" x="1448.4" y="1974">1500</text>
<text font-size="45" fill="#000000" font-weight="bold" text-anchor="middle" x="1608.9" y="1974">1000</text>
<text font-size="45" fill="#000000" font-weight="bold" text-anchor="middle" x="1769.3" y="1974">500</text>
<text font-size="68" fill="#000000" font-weight="bold" textLength="80" lengthAdjust="spacingAndGlyphs" x="659" y="1109">(c)</text>
<text font-size="64" fill="#000000" font-weight="bold" textLength="609" lengthAdjust="spacingAndGlyphs" transform="translate(619.4 1770) rotate(-90)">Transmittance (a.u.)</text>
<text font-size="63" fill="#000000" font-weight="bold" textLength="401" lengthAdjust="spacingAndGlyphs" x="945.9" y="2055.5">Wavenumber</text>
<text font-size="45" fill="#000000" x="1363" y="2055.5" stroke="#000" stroke-width="0.6">(</text>
<text font-size="61" fill="#000000" font-weight="bold" textLength="92.5" lengthAdjust="spacingAndGlyphs" x="1381.3" y="2055.5">cm</text>
<text font-size="44" fill="#000000" textLength="24.5" lengthAdjust="spacingAndGlyphs" x="1475" y="2025.5">&#8722;</text>
<text font-size="46" fill="#000000" font-weight="bold" x="1497.5" y="2026">1</text>
<text font-size="45" fill="#000000" x="1529" y="2055.5" stroke="#000" stroke-width="0.6">)</text>
<text font-size="43" fill="#7030a0" font-weight="bold" textLength="250" lengthAdjust="spacingAndGlyphs" x="769.3" y="1112.7">N-H and OH</text>
<text font-size="46" fill="#7030a0" font-weight="bold" textLength="208" lengthAdjust="spacingAndGlyphs" x="793.4" y="1172.7">stretching</text>
<text font-size="39.5" fill="#000000" textLength="59" lengthAdjust="spacingAndGlyphs" x="1451.5" y="1093.6" stroke="#000" stroke-width="1.0">CN</text>
<text font-size="44" fill="#000000" textLength="261.5" lengthAdjust="spacingAndGlyphs" x="1348.3" y="1154.8" stroke="#000" stroke-width="0.5">heterocycles</text>
<text font-size="45" fill="#00b050" font-weight="bold" textLength="155.5" lengthAdjust="spacingAndGlyphs" x="1612.6" y="1102.5">triazine</text>
<text font-size="44" fill="#00b050" font-weight="bold" textLength="103.5" lengthAdjust="spacingAndGlyphs" x="1638.5" y="1161.2">units</text>
<text font-size="43" fill="#00b0f0" textLength="266" lengthAdjust="spacingAndGlyphs" x="1407" y="1905" stroke="#00b0f0" stroke-width="1.1">Ti-O and Ti-S</text>
<line x1="1683.5" y1="1895" x2="1745" y2="1895" stroke="#00b0f0" stroke-width="3" />
<path d="M1741.4 1883.5L1765.6 1895.6L1741.4 1907.7Z" fill="#00b0f0"/>
<text font-size="27.5" fill="#ff0000" textLength="66.4" lengthAdjust="spacingAndGlyphs" x="801" y="1669.2" stroke="#f00" stroke-width="1.2">3346</text>
<text font-size="27.5" fill="#ff0000" textLength="63.8" lengthAdjust="spacingAndGlyphs" x="881.4" y="1683.2" stroke="#f00" stroke-width="1.2">3171</text>
<text font-size="28" fill="#ff0000" textLength="48.2" lengthAdjust="spacingAndGlyphs" x="1643.4" y="1741" stroke="#f00" stroke-width="1.2">807</text>
<text font-size="36" fill="#008000" font-weight="bold" textLength="363" lengthAdjust="spacingAndGlyphs" x="1001" y="1218.6">S-TiO<tspan font-size="25" dy="16">2</tspan><tspan font-size="36" dy="-16"> (20%)</tspan><tspan fill="#17808f">/</tspan><tspan>g-C</tspan><tspan font-size="25" dy="16">3</tspan><tspan font-size="36" dy="-16">N</tspan><tspan font-size="25" dy="16">4</tspan></text>
<text font-size="36" fill="#ff8000" font-weight="bold" textLength="363.6" lengthAdjust="spacingAndGlyphs" x="1004.2" y="1389.5">S-TiO<tspan font-size="25" dy="16">2</tspan><tspan font-size="36" dy="-16"> (10%)/g-C</tspan><tspan font-size="25" dy="16">3</tspan><tspan font-size="36" dy="-16">N</tspan><tspan font-size="25" dy="16">4</tspan></text>
<text font-size="36" fill="#0000ff" font-weight="bold" textLength="343.2" lengthAdjust="spacingAndGlyphs" x="1014.4" y="1534">S-TiO<tspan font-size="25" dy="15">2</tspan><tspan font-size="36" dy="-15"> (5%)/g-C</tspan><tspan font-size="25" dy="15">3</tspan><tspan font-size="36" dy="-15">N</tspan><tspan font-size="25" dy="15">4</tspan></text>
<text font-size="36" fill="#ff0000" font-weight="bold" textLength="123.7" lengthAdjust="spacingAndGlyphs" x="1136.9" y="1665.4">g-C<tspan font-size="25" dy="15">3</tspan><tspan font-size="36" dy="-15">N</tspan><tspan font-size="25" dy="15">4</tspan></text>
<text font-size="37" fill="#000000" textLength="116.2" lengthAdjust="spacingAndGlyphs" x="1159.8" y="1836.3" stroke="#000" stroke-width="1.3">S-TiO<tspan font-size="25" dy="15">2</tspan></text>
<rect x="487" y="1081.3" width="13.8" height="3.8" fill="#000"/>
</svg>
</body></html>
